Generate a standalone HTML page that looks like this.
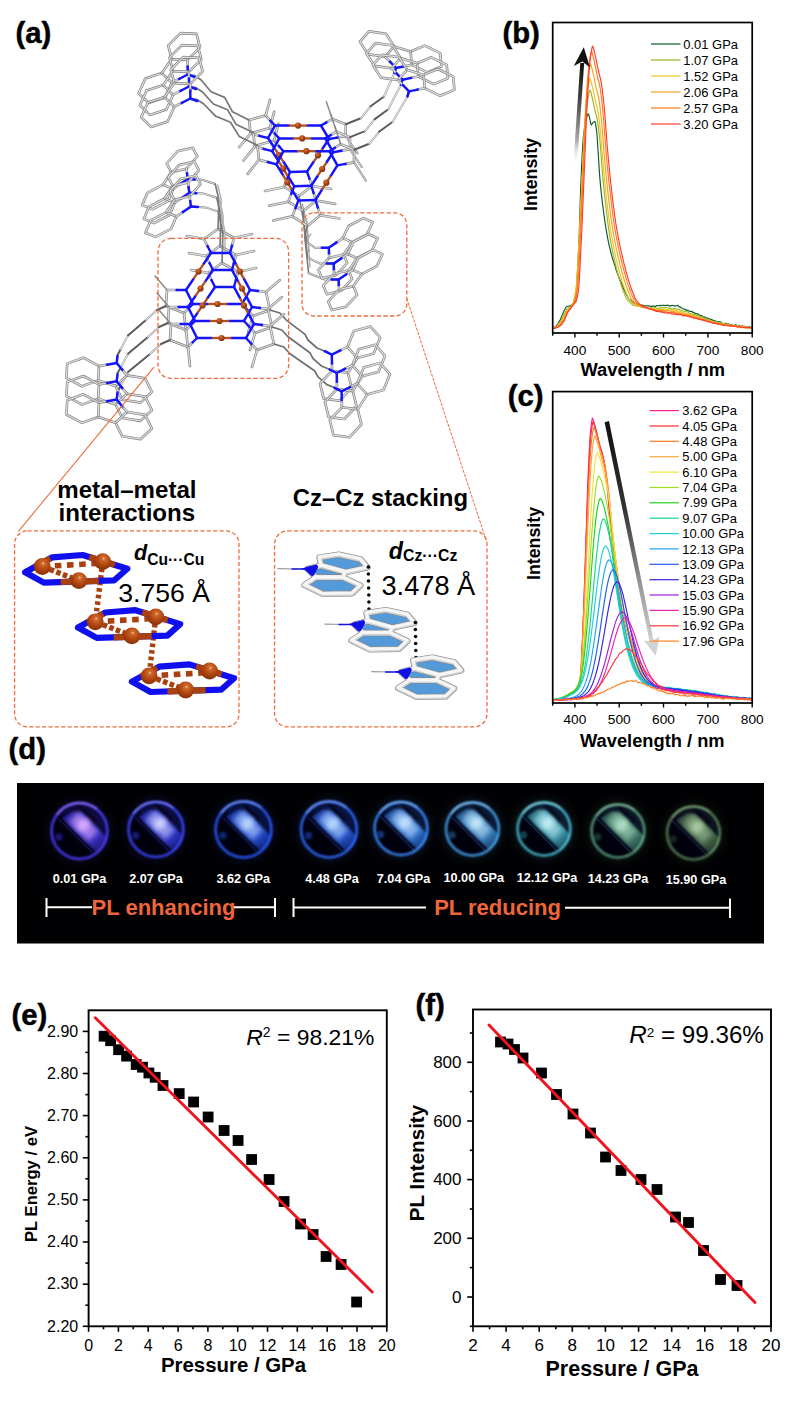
<!DOCTYPE html>
<html><head><meta charset="utf-8"><title>Figure</title>
<style>html,body{margin:0;padding:0;background:#fff;}svg{display:block;font-family:"Liberation Sans",sans-serif;}</style></head>
<body>
<svg width="799" height="1427" viewBox="0 0 799 1427">
<rect width="799" height="1427" fill="#fff"/>
<g font-weight="bold" font-size="29.3" stroke="#000" stroke-width="0.45"><text x="15.5" y="42.8">(a)</text><text x="502.4" y="42.6">(b)</text><text x="507.8" y="405.7">(c)</text><text x="8.6" y="758.9">(d)</text><text x="11.5" y="1024.5">(e)</text><text x="415.5" y="1015.1">(f)</text></g>
<defs><radialGradient id="cuG" cx="0.38" cy="0.32" r="0.75"><stop offset="0" stop-color="#d9743a"/><stop offset="0.45" stop-color="#b24a17"/><stop offset="1" stop-color="#6e2a08"/></radialGradient><radialGradient id="cuG2" cx="0.55" cy="0.32" r="0.8"><stop offset="0" stop-color="#f3c9a8"/><stop offset="0.12" stop-color="#d06a2c"/><stop offset="0.5" stop-color="#b0440e"/><stop offset="1" stop-color="#702805"/></radialGradient></defs>
<polyline points="270.8,121.1 265.6,115.6 249.0,120.0 250.6,133.6 260.2,136.0" fill="none" stroke="#808080" stroke-width="2.6" stroke-linejoin="round" stroke-linecap="round"/>
<polyline points="270.8,121.1 265.6,115.6 249.0,120.0 250.6,133.6 260.2,136.0" fill="none" stroke="#dcdcdc" stroke-width="1.30" stroke-linejoin="round" stroke-linecap="round"/>
<polyline points="265.6,115.6 270.0,99.8" fill="none" stroke="#808080" stroke-width="2.6" stroke-linejoin="round" stroke-linecap="round"/>
<polyline points="265.6,115.6 270.0,99.8" fill="none" stroke="#dcdcdc" stroke-width="1.30" stroke-linejoin="round" stroke-linecap="round"/>
<polyline points="250.6,133.6 239.3,147.0" fill="none" stroke="#808080" stroke-width="2.6" stroke-linejoin="round" stroke-linecap="round"/>
<polyline points="250.6,133.6 239.3,147.0" fill="none" stroke="#dcdcdc" stroke-width="1.30" stroke-linejoin="round" stroke-linecap="round"/>
<polyline points="326.1,122.6 332.3,119.0 345.8,124.3 345.6,136.2 336.5,137.7" fill="none" stroke="#808080" stroke-width="2.6" stroke-linejoin="round" stroke-linecap="round"/>
<polyline points="326.1,122.6 332.3,119.0 345.8,124.3 345.6,136.2 336.5,137.7" fill="none" stroke="#dcdcdc" stroke-width="1.30" stroke-linejoin="round" stroke-linecap="round"/>
<polyline points="332.3,119.0 326.3,101.8" fill="none" stroke="#8a8a8a" stroke-width="1.5" stroke-linejoin="round" stroke-linecap="round"/>
<polyline points="345.6,136.2 357.6,153.4" fill="none" stroke="#808080" stroke-width="2.0" stroke-linejoin="round" stroke-linecap="round"/>
<polyline points="345.6,136.2 357.6,153.4" fill="none" stroke="#dcdcdc" stroke-width="1.00" stroke-linejoin="round" stroke-linecap="round"/>
<polyline points="309.2,178.1 312.0,186.0 299.0,196.0 284.0,187.0 287.3,178.8" fill="none" stroke="#808080" stroke-width="2.6" stroke-linejoin="round" stroke-linecap="round"/>
<polyline points="309.2,178.1 312.0,186.0 299.0,196.0 284.0,187.0 287.3,178.8" fill="none" stroke="#dcdcdc" stroke-width="1.30" stroke-linejoin="round" stroke-linecap="round"/>
<polyline points="312.0,186.0 331.0,189.0" fill="none" stroke="#808080" stroke-width="2.6" stroke-linejoin="round" stroke-linecap="round"/>
<polyline points="312.0,186.0 331.0,189.0" fill="none" stroke="#dcdcdc" stroke-width="1.30" stroke-linejoin="round" stroke-linecap="round"/>
<polyline points="284.0,187.0 265.0,191.0" fill="none" stroke="#808080" stroke-width="2.6" stroke-linejoin="round" stroke-linecap="round"/>
<polyline points="284.0,187.0 265.0,191.0" fill="none" stroke="#dcdcdc" stroke-width="1.30" stroke-linejoin="round" stroke-linecap="round"/>
<polyline points="187.7,74.5 194.7,75.7 201.2,80.0 211.0,91.8 224.6,97.4 232.4,111.7 249.0,120.0" fill="none" stroke="#757575" stroke-width="1.7" stroke-linejoin="round" stroke-linecap="round"/>
<polyline points="345.8,124.3 360.8,118.3" fill="none" stroke="#5c5c5c" stroke-width="2.0" stroke-linejoin="round" stroke-linecap="round"/>
<polyline points="360.8,118.3 370.6,106.3" fill="none" stroke="#9a9a9a" stroke-width="2.0" stroke-linejoin="round" stroke-linecap="round"/>
<polyline points="360.8,118.3 370.6,106.3" fill="none" stroke="#f2f2f2" stroke-width="1.00" stroke-linejoin="round" stroke-linecap="round"/>
<polyline points="370.6,106.3 384.1,96.5" fill="none" stroke="#5c5c5c" stroke-width="2.0" stroke-linejoin="round" stroke-linecap="round"/>
<polyline points="384.1,96.5 394.4,73.0" fill="none" stroke="#9a9a9a" stroke-width="2.0" stroke-linejoin="round" stroke-linecap="round"/>
<polyline points="384.1,96.5 394.4,73.0" fill="none" stroke="#f2f2f2" stroke-width="1.00" stroke-linejoin="round" stroke-linecap="round"/>
<polyline points="394.4,73.0 396.0,68.0" fill="none" stroke="#5c5c5c" stroke-width="2.0" stroke-linejoin="round" stroke-linecap="round"/>
<polyline points="299.0,196.0 303.6,221.0 306.8,242.0" fill="none" stroke="#7a7a7a" stroke-width="1.6" stroke-linejoin="round" stroke-linecap="round"/>
<polyline points="306.8,242.0 315.0,247.7 328.8,247.7" fill="none" stroke="#808080" stroke-width="2.0" stroke-linejoin="round" stroke-linecap="round"/>
<polyline points="306.8,242.0 315.0,247.7 328.8,247.7" fill="none" stroke="#dcdcdc" stroke-width="1.00" stroke-linejoin="round" stroke-linecap="round"/>
<polyline points="302.5,204.0 306.6,223.0 308.3,236.0" fill="none" stroke="#a8a8a8" stroke-width="1.3" stroke-linejoin="round" stroke-linecap="round"/>
<polyline points="275.0,133.8 269.8,128.1 253.2,132.6 254.8,146.6 264.4,149.1" fill="none" stroke="#808080" stroke-width="2.6" stroke-linejoin="round" stroke-linecap="round"/>
<polyline points="275.0,133.8 269.8,128.1 253.2,132.6 254.8,146.6 264.4,149.1" fill="none" stroke="#dcdcdc" stroke-width="1.30" stroke-linejoin="round" stroke-linecap="round"/>
<polyline points="269.8,128.1 274.2,111.8" fill="none" stroke="#808080" stroke-width="2.6" stroke-linejoin="round" stroke-linecap="round"/>
<polyline points="269.8,128.1 274.2,111.8" fill="none" stroke="#dcdcdc" stroke-width="1.30" stroke-linejoin="round" stroke-linecap="round"/>
<polyline points="254.8,146.6 243.5,160.5" fill="none" stroke="#808080" stroke-width="2.6" stroke-linejoin="round" stroke-linecap="round"/>
<polyline points="254.8,146.6 243.5,160.5" fill="none" stroke="#dcdcdc" stroke-width="1.30" stroke-linejoin="round" stroke-linecap="round"/>
<polyline points="330.3,135.3 336.5,131.6 350.0,137.1 349.8,149.3 340.7,150.9" fill="none" stroke="#808080" stroke-width="2.6" stroke-linejoin="round" stroke-linecap="round"/>
<polyline points="330.3,135.3 336.5,131.6 350.0,137.1 349.8,149.3 340.7,150.9" fill="none" stroke="#dcdcdc" stroke-width="1.30" stroke-linejoin="round" stroke-linecap="round"/>
<polyline points="336.5,131.6 330.5,113.9" fill="none" stroke="#8a8a8a" stroke-width="1.5" stroke-linejoin="round" stroke-linecap="round"/>
<polyline points="349.8,149.3 361.8,167.0" fill="none" stroke="#808080" stroke-width="2.0" stroke-linejoin="round" stroke-linecap="round"/>
<polyline points="349.8,149.3 361.8,167.0" fill="none" stroke="#dcdcdc" stroke-width="1.00" stroke-linejoin="round" stroke-linecap="round"/>
<polyline points="313.4,192.5 316.2,200.6 303.2,210.9 288.2,201.7 291.5,193.2" fill="none" stroke="#808080" stroke-width="2.6" stroke-linejoin="round" stroke-linecap="round"/>
<polyline points="313.4,192.5 316.2,200.6 303.2,210.9 288.2,201.7 291.5,193.2" fill="none" stroke="#dcdcdc" stroke-width="1.30" stroke-linejoin="round" stroke-linecap="round"/>
<polyline points="316.2,200.6 335.2,203.7" fill="none" stroke="#808080" stroke-width="2.6" stroke-linejoin="round" stroke-linecap="round"/>
<polyline points="316.2,200.6 335.2,203.7" fill="none" stroke="#dcdcdc" stroke-width="1.30" stroke-linejoin="round" stroke-linecap="round"/>
<polyline points="288.2,201.7 269.2,205.8" fill="none" stroke="#808080" stroke-width="2.6" stroke-linejoin="round" stroke-linecap="round"/>
<polyline points="288.2,201.7 269.2,205.8" fill="none" stroke="#dcdcdc" stroke-width="1.30" stroke-linejoin="round" stroke-linecap="round"/>
<polyline points="189.0,86.5 196.0,87.7 202.5,92.0 213.4,104.0 227.6,109.8 235.9,124.2 253.2,132.6" fill="none" stroke="#757575" stroke-width="1.7" stroke-linejoin="round" stroke-linecap="round"/>
<polyline points="350.0,137.1 365.0,131.1" fill="none" stroke="#5c5c5c" stroke-width="2.0" stroke-linejoin="round" stroke-linecap="round"/>
<polyline points="365.0,131.1 374.8,119.1" fill="none" stroke="#9a9a9a" stroke-width="2.0" stroke-linejoin="round" stroke-linecap="round"/>
<polyline points="365.0,131.1 374.8,119.1" fill="none" stroke="#f2f2f2" stroke-width="1.00" stroke-linejoin="round" stroke-linecap="round"/>
<polyline points="374.8,119.1 388.3,109.3" fill="none" stroke="#5c5c5c" stroke-width="2.0" stroke-linejoin="round" stroke-linecap="round"/>
<polyline points="388.3,109.3 400.9,84.7" fill="none" stroke="#9a9a9a" stroke-width="2.0" stroke-linejoin="round" stroke-linecap="round"/>
<polyline points="388.3,109.3 400.9,84.7" fill="none" stroke="#f2f2f2" stroke-width="1.00" stroke-linejoin="round" stroke-linecap="round"/>
<polyline points="400.9,84.7 402.5,79.7" fill="none" stroke="#5c5c5c" stroke-width="2.0" stroke-linejoin="round" stroke-linecap="round"/>
<polyline points="303.2,210.9 304.2,229.0 307.7,257.6" fill="none" stroke="#7a7a7a" stroke-width="1.6" stroke-linejoin="round" stroke-linecap="round"/>
<polyline points="307.7,257.6 319.9,263.6 333.7,263.6" fill="none" stroke="#808080" stroke-width="2.0" stroke-linejoin="round" stroke-linecap="round"/>
<polyline points="307.7,257.6 319.9,263.6 333.7,263.6" fill="none" stroke="#dcdcdc" stroke-width="1.00" stroke-linejoin="round" stroke-linecap="round"/>
<polyline points="306.7,218.9 307.2,231.0 309.2,251.6" fill="none" stroke="#a8a8a8" stroke-width="1.3" stroke-linejoin="round" stroke-linecap="round"/>
<polyline points="279.2,146.4 274.0,140.6 257.4,145.3 259.0,159.7 268.6,162.3" fill="none" stroke="#808080" stroke-width="2.6" stroke-linejoin="round" stroke-linecap="round"/>
<polyline points="279.2,146.4 274.0,140.6 257.4,145.3 259.0,159.7 268.6,162.3" fill="none" stroke="#dcdcdc" stroke-width="1.30" stroke-linejoin="round" stroke-linecap="round"/>
<polyline points="274.0,140.6 278.4,123.8" fill="none" stroke="#808080" stroke-width="2.6" stroke-linejoin="round" stroke-linecap="round"/>
<polyline points="274.0,140.6 278.4,123.8" fill="none" stroke="#dcdcdc" stroke-width="1.30" stroke-linejoin="round" stroke-linecap="round"/>
<polyline points="259.0,159.7 247.7,173.9" fill="none" stroke="#808080" stroke-width="2.6" stroke-linejoin="round" stroke-linecap="round"/>
<polyline points="259.0,159.7 247.7,173.9" fill="none" stroke="#dcdcdc" stroke-width="1.30" stroke-linejoin="round" stroke-linecap="round"/>
<polyline points="334.5,148.0 340.7,144.2 354.2,149.8 354.0,162.4 344.9,164.1" fill="none" stroke="#808080" stroke-width="2.6" stroke-linejoin="round" stroke-linecap="round"/>
<polyline points="334.5,148.0 340.7,144.2 354.2,149.8 354.0,162.4 344.9,164.1" fill="none" stroke="#dcdcdc" stroke-width="1.30" stroke-linejoin="round" stroke-linecap="round"/>
<polyline points="340.7,144.2 334.7,126.0" fill="none" stroke="#8a8a8a" stroke-width="1.5" stroke-linejoin="round" stroke-linecap="round"/>
<polyline points="354.0,162.4 366.0,180.7" fill="none" stroke="#808080" stroke-width="2.0" stroke-linejoin="round" stroke-linecap="round"/>
<polyline points="354.0,162.4 366.0,180.7" fill="none" stroke="#dcdcdc" stroke-width="1.00" stroke-linejoin="round" stroke-linecap="round"/>
<polyline points="317.6,206.9 320.4,215.3 307.4,225.9 292.4,216.3 295.7,207.6" fill="none" stroke="#808080" stroke-width="2.6" stroke-linejoin="round" stroke-linecap="round"/>
<polyline points="317.6,206.9 320.4,215.3 307.4,225.9 292.4,216.3 295.7,207.6" fill="none" stroke="#dcdcdc" stroke-width="1.30" stroke-linejoin="round" stroke-linecap="round"/>
<polyline points="320.4,215.3 339.4,218.5" fill="none" stroke="#808080" stroke-width="2.6" stroke-linejoin="round" stroke-linecap="round"/>
<polyline points="320.4,215.3 339.4,218.5" fill="none" stroke="#dcdcdc" stroke-width="1.30" stroke-linejoin="round" stroke-linecap="round"/>
<polyline points="292.4,216.3 273.4,220.6" fill="none" stroke="#808080" stroke-width="2.6" stroke-linejoin="round" stroke-linecap="round"/>
<polyline points="292.4,216.3 273.4,220.6" fill="none" stroke="#dcdcdc" stroke-width="1.30" stroke-linejoin="round" stroke-linecap="round"/>
<polyline points="190.3,98.5 197.3,99.7 203.8,104.0 215.8,116.3 230.5,122.2 239.3,136.6 257.4,145.3" fill="none" stroke="#757575" stroke-width="1.7" stroke-linejoin="round" stroke-linecap="round"/>
<polyline points="354.2,149.8 369.2,143.8" fill="none" stroke="#5c5c5c" stroke-width="2.0" stroke-linejoin="round" stroke-linecap="round"/>
<polyline points="369.2,143.8 379.0,131.8" fill="none" stroke="#9a9a9a" stroke-width="2.0" stroke-linejoin="round" stroke-linecap="round"/>
<polyline points="369.2,143.8 379.0,131.8" fill="none" stroke="#f2f2f2" stroke-width="1.00" stroke-linejoin="round" stroke-linecap="round"/>
<polyline points="379.0,131.8 392.5,122.0" fill="none" stroke="#5c5c5c" stroke-width="2.0" stroke-linejoin="round" stroke-linecap="round"/>
<polyline points="392.5,122.0 407.4,96.4" fill="none" stroke="#9a9a9a" stroke-width="2.0" stroke-linejoin="round" stroke-linecap="round"/>
<polyline points="392.5,122.0 407.4,96.4" fill="none" stroke="#f2f2f2" stroke-width="1.00" stroke-linejoin="round" stroke-linecap="round"/>
<polyline points="407.4,96.4 409.0,91.4" fill="none" stroke="#5c5c5c" stroke-width="2.0" stroke-linejoin="round" stroke-linecap="round"/>
<polyline points="307.4,225.9 304.8,237.0 308.6,273.2" fill="none" stroke="#7a7a7a" stroke-width="1.6" stroke-linejoin="round" stroke-linecap="round"/>
<polyline points="308.6,273.2 324.8,279.5 338.6,279.5" fill="none" stroke="#808080" stroke-width="2.0" stroke-linejoin="round" stroke-linecap="round"/>
<polyline points="308.6,273.2 324.8,279.5 338.6,279.5" fill="none" stroke="#dcdcdc" stroke-width="1.00" stroke-linejoin="round" stroke-linecap="round"/>
<polyline points="310.9,233.9 307.8,239.0 310.1,267.2" fill="none" stroke="#a8a8a8" stroke-width="1.3" stroke-linejoin="round" stroke-linecap="round"/>
<polygon points="187.6,59.9 171.7,59.1 168.2,45.7 180.6,33.1 196.5,33.9 200.0,47.3" fill="none" stroke="#808080" stroke-width="2.6" stroke-linejoin="round" stroke-linecap="round"/>
<polygon points="187.6,59.9 171.7,59.1 168.2,45.7 180.6,33.1 196.5,33.9 200.0,47.3" fill="none" stroke="#dcdcdc" stroke-width="1.30" stroke-linejoin="round" stroke-linecap="round"/>
<polygon points="171.8,82.7 161.9,73.1 145.3,78.5 138.6,93.3 148.5,102.9 165.1,97.5" fill="none" stroke="#808080" stroke-width="2.6" stroke-linejoin="round" stroke-linecap="round"/>
<polygon points="171.8,82.7 161.9,73.1 145.3,78.5 138.6,93.3 148.5,102.9 165.1,97.5" fill="none" stroke="#dcdcdc" stroke-width="1.30" stroke-linejoin="round" stroke-linecap="round"/>
<polyline points="171.7,59.1 161.9,73.1" fill="none" stroke="#808080" stroke-width="2.6" stroke-linejoin="round" stroke-linecap="round"/>
<polyline points="171.7,59.1 161.9,73.1" fill="none" stroke="#dcdcdc" stroke-width="1.30" stroke-linejoin="round" stroke-linecap="round"/>
<polyline points="187.7,67.2 187.6,59.9" fill="none" stroke="#808080" stroke-width="2.6" stroke-linejoin="round" stroke-linecap="round"/>
<polyline points="187.7,67.2 187.6,59.9" fill="none" stroke="#dcdcdc" stroke-width="1.30" stroke-linejoin="round" stroke-linecap="round"/>
<polyline points="179.8,78.6 171.8,82.7" fill="none" stroke="#808080" stroke-width="2.6" stroke-linejoin="round" stroke-linecap="round"/>
<polyline points="179.8,78.6 171.8,82.7" fill="none" stroke="#dcdcdc" stroke-width="1.30" stroke-linejoin="round" stroke-linecap="round"/>
<polyline points="187.7,66.5 187.7,74.5 179.0,79.0" fill="none" stroke="#1414ff" stroke-width="2.5" stroke-linejoin="round" stroke-linecap="round"/>
<polyline points="187.7,74.5 194.7,77.0" fill="none" stroke="#1414ff" stroke-width="2.5" stroke-linejoin="round" stroke-linecap="round"/>
<polygon points="385.0,56.6 394.1,46.4 386.1,33.8 369.0,31.4 359.9,41.6 367.9,54.2" fill="none" stroke="#808080" stroke-width="2.6" stroke-linejoin="round" stroke-linecap="round"/>
<polygon points="385.0,56.6 394.1,46.4 386.1,33.8 369.0,31.4 359.9,41.6 367.9,54.2" fill="none" stroke="#dcdcdc" stroke-width="1.30" stroke-linejoin="round" stroke-linecap="round"/>
<polygon points="411.8,64.8 410.6,51.5 424.8,45.6 440.2,53.2 441.4,66.5 427.2,72.4" fill="none" stroke="#808080" stroke-width="2.6" stroke-linejoin="round" stroke-linecap="round"/>
<polygon points="411.8,64.8 410.6,51.5 424.8,45.6 440.2,53.2 441.4,66.5 427.2,72.4" fill="none" stroke="#dcdcdc" stroke-width="1.30" stroke-linejoin="round" stroke-linecap="round"/>
<polyline points="394.1,46.4 410.6,51.5" fill="none" stroke="#808080" stroke-width="2.6" stroke-linejoin="round" stroke-linecap="round"/>
<polyline points="394.1,46.4 410.6,51.5" fill="none" stroke="#dcdcdc" stroke-width="1.30" stroke-linejoin="round" stroke-linecap="round"/>
<polyline points="390.5,62.3 385.0,56.6" fill="none" stroke="#808080" stroke-width="2.6" stroke-linejoin="round" stroke-linecap="round"/>
<polyline points="390.5,62.3 385.0,56.6" fill="none" stroke="#dcdcdc" stroke-width="1.30" stroke-linejoin="round" stroke-linecap="round"/>
<polyline points="403.9,66.4 411.8,64.8" fill="none" stroke="#808080" stroke-width="2.6" stroke-linejoin="round" stroke-linecap="round"/>
<polyline points="403.9,66.4 411.8,64.8" fill="none" stroke="#dcdcdc" stroke-width="1.30" stroke-linejoin="round" stroke-linecap="round"/>
<polyline points="390.0,61.7 396.0,68.0 404.7,66.2" fill="none" stroke="#1414ff" stroke-width="2.5" stroke-linejoin="round" stroke-linecap="round"/>
<polyline points="396.0,68.0 394.5,73.0" fill="none" stroke="#1414ff" stroke-width="2.5" stroke-linejoin="round" stroke-linecap="round"/>
<polygon points="342.9,238.1 352.1,242.3 367.0,234.4 372.7,222.3 363.5,218.1 348.6,226.0" fill="none" stroke="#808080" stroke-width="2.6" stroke-linejoin="round" stroke-linecap="round"/>
<polygon points="342.9,238.1 352.1,242.3 367.0,234.4 372.7,222.3 363.5,218.1 348.6,226.0" fill="none" stroke="#dcdcdc" stroke-width="1.30" stroke-linejoin="round" stroke-linecap="round"/>
<polygon points="329.2,257.9 343.6,254.5 347.2,263.0 336.4,274.9 322.0,278.3 318.4,269.8" fill="none" stroke="#808080" stroke-width="2.6" stroke-linejoin="round" stroke-linecap="round"/>
<polygon points="329.2,257.9 343.6,254.5 347.2,263.0 336.4,274.9 322.0,278.3 318.4,269.8" fill="none" stroke="#dcdcdc" stroke-width="1.30" stroke-linejoin="round" stroke-linecap="round"/>
<polyline points="352.1,242.3 343.6,254.5" fill="none" stroke="#808080" stroke-width="2.6" stroke-linejoin="round" stroke-linecap="round"/>
<polyline points="352.1,242.3 343.6,254.5" fill="none" stroke="#dcdcdc" stroke-width="1.30" stroke-linejoin="round" stroke-linecap="round"/>
<polyline points="335.9,242.9 342.9,238.1" fill="none" stroke="#808080" stroke-width="2.6" stroke-linejoin="round" stroke-linecap="round"/>
<polyline points="335.9,242.9 342.9,238.1" fill="none" stroke="#dcdcdc" stroke-width="1.30" stroke-linejoin="round" stroke-linecap="round"/>
<polyline points="329.0,252.8 329.2,257.9" fill="none" stroke="#808080" stroke-width="2.6" stroke-linejoin="round" stroke-linecap="round"/>
<polyline points="329.0,252.8 329.2,257.9" fill="none" stroke="#dcdcdc" stroke-width="1.30" stroke-linejoin="round" stroke-linecap="round"/>
<polyline points="336.6,242.4 328.8,247.7 329.0,253.3" fill="none" stroke="#1414ff" stroke-width="2.5" stroke-linejoin="round" stroke-linecap="round"/>
<polyline points="328.8,247.7 321.8,247.7" fill="none" stroke="#1414ff" stroke-width="2.5" stroke-linejoin="round" stroke-linecap="round"/>
<polygon points="188.9,71.9 173.0,71.1 169.5,57.7 181.9,45.1 197.8,45.9 201.3,59.3" fill="none" stroke="#808080" stroke-width="2.6" stroke-linejoin="round" stroke-linecap="round"/>
<polygon points="188.9,71.9 173.0,71.1 169.5,57.7 181.9,45.1 197.8,45.9 201.3,59.3" fill="none" stroke="#dcdcdc" stroke-width="1.30" stroke-linejoin="round" stroke-linecap="round"/>
<polygon points="173.1,94.7 163.2,85.1 146.6,90.5 139.9,105.3 149.8,114.9 166.4,109.5" fill="none" stroke="#808080" stroke-width="2.6" stroke-linejoin="round" stroke-linecap="round"/>
<polygon points="173.1,94.7 163.2,85.1 146.6,90.5 139.9,105.3 149.8,114.9 166.4,109.5" fill="none" stroke="#dcdcdc" stroke-width="1.30" stroke-linejoin="round" stroke-linecap="round"/>
<polyline points="173.0,71.1 163.2,85.1" fill="none" stroke="#808080" stroke-width="2.6" stroke-linejoin="round" stroke-linecap="round"/>
<polyline points="173.0,71.1 163.2,85.1" fill="none" stroke="#dcdcdc" stroke-width="1.30" stroke-linejoin="round" stroke-linecap="round"/>
<polyline points="189.0,79.2 188.9,71.9" fill="none" stroke="#808080" stroke-width="2.6" stroke-linejoin="round" stroke-linecap="round"/>
<polyline points="189.0,79.2 188.9,71.9" fill="none" stroke="#dcdcdc" stroke-width="1.30" stroke-linejoin="round" stroke-linecap="round"/>
<polyline points="181.1,90.6 173.1,94.7" fill="none" stroke="#808080" stroke-width="2.6" stroke-linejoin="round" stroke-linecap="round"/>
<polyline points="181.1,90.6 173.1,94.7" fill="none" stroke="#dcdcdc" stroke-width="1.30" stroke-linejoin="round" stroke-linecap="round"/>
<polyline points="189.0,78.5 189.0,86.5 180.3,91.0" fill="none" stroke="#1414ff" stroke-width="2.5" stroke-linejoin="round" stroke-linecap="round"/>
<polyline points="189.0,86.5 196.0,89.0" fill="none" stroke="#1414ff" stroke-width="2.5" stroke-linejoin="round" stroke-linecap="round"/>
<polygon points="391.5,68.3 400.6,58.1 392.6,45.5 375.5,43.1 366.4,53.3 374.4,65.9" fill="none" stroke="#808080" stroke-width="2.6" stroke-linejoin="round" stroke-linecap="round"/>
<polygon points="391.5,68.3 400.6,58.1 392.6,45.5 375.5,43.1 366.4,53.3 374.4,65.9" fill="none" stroke="#dcdcdc" stroke-width="1.30" stroke-linejoin="round" stroke-linecap="round"/>
<polygon points="418.3,76.5 417.1,63.2 431.3,57.3 446.7,64.9 447.9,78.2 433.7,84.1" fill="none" stroke="#808080" stroke-width="2.6" stroke-linejoin="round" stroke-linecap="round"/>
<polygon points="418.3,76.5 417.1,63.2 431.3,57.3 446.7,64.9 447.9,78.2 433.7,84.1" fill="none" stroke="#dcdcdc" stroke-width="1.30" stroke-linejoin="round" stroke-linecap="round"/>
<polyline points="400.6,58.1 417.1,63.2" fill="none" stroke="#808080" stroke-width="2.6" stroke-linejoin="round" stroke-linecap="round"/>
<polyline points="400.6,58.1 417.1,63.2" fill="none" stroke="#dcdcdc" stroke-width="1.30" stroke-linejoin="round" stroke-linecap="round"/>
<polyline points="397.0,74.0 391.5,68.3" fill="none" stroke="#808080" stroke-width="2.6" stroke-linejoin="round" stroke-linecap="round"/>
<polyline points="397.0,74.0 391.5,68.3" fill="none" stroke="#dcdcdc" stroke-width="1.30" stroke-linejoin="round" stroke-linecap="round"/>
<polyline points="410.4,78.1 418.3,76.5" fill="none" stroke="#808080" stroke-width="2.6" stroke-linejoin="round" stroke-linecap="round"/>
<polyline points="410.4,78.1 418.3,76.5" fill="none" stroke="#dcdcdc" stroke-width="1.30" stroke-linejoin="round" stroke-linecap="round"/>
<polyline points="396.5,73.4 402.5,79.7 411.2,77.9" fill="none" stroke="#1414ff" stroke-width="2.5" stroke-linejoin="round" stroke-linecap="round"/>
<polyline points="402.5,79.7 401.0,84.7" fill="none" stroke="#1414ff" stroke-width="2.5" stroke-linejoin="round" stroke-linecap="round"/>
<polygon points="347.8,254.0 357.0,258.2 371.9,250.3 377.6,238.2 368.4,234.0 353.5,241.9" fill="none" stroke="#808080" stroke-width="2.6" stroke-linejoin="round" stroke-linecap="round"/>
<polygon points="347.8,254.0 357.0,258.2 371.9,250.3 377.6,238.2 368.4,234.0 353.5,241.9" fill="none" stroke="#dcdcdc" stroke-width="1.30" stroke-linejoin="round" stroke-linecap="round"/>
<polygon points="334.1,273.8 348.5,270.4 352.1,278.9 341.3,290.8 326.9,294.2 323.3,285.7" fill="none" stroke="#808080" stroke-width="2.6" stroke-linejoin="round" stroke-linecap="round"/>
<polygon points="334.1,273.8 348.5,270.4 352.1,278.9 341.3,290.8 326.9,294.2 323.3,285.7" fill="none" stroke="#dcdcdc" stroke-width="1.30" stroke-linejoin="round" stroke-linecap="round"/>
<polyline points="357.0,258.2 348.5,270.4" fill="none" stroke="#808080" stroke-width="2.6" stroke-linejoin="round" stroke-linecap="round"/>
<polyline points="357.0,258.2 348.5,270.4" fill="none" stroke="#dcdcdc" stroke-width="1.30" stroke-linejoin="round" stroke-linecap="round"/>
<polyline points="340.8,258.8 347.8,254.0" fill="none" stroke="#808080" stroke-width="2.6" stroke-linejoin="round" stroke-linecap="round"/>
<polyline points="340.8,258.8 347.8,254.0" fill="none" stroke="#dcdcdc" stroke-width="1.30" stroke-linejoin="round" stroke-linecap="round"/>
<polyline points="333.9,268.7 334.1,273.8" fill="none" stroke="#808080" stroke-width="2.6" stroke-linejoin="round" stroke-linecap="round"/>
<polyline points="333.9,268.7 334.1,273.8" fill="none" stroke="#dcdcdc" stroke-width="1.30" stroke-linejoin="round" stroke-linecap="round"/>
<polyline points="341.5,258.3 333.7,263.6 333.9,269.2" fill="none" stroke="#1414ff" stroke-width="2.5" stroke-linejoin="round" stroke-linecap="round"/>
<polyline points="333.7,263.6 326.7,263.6" fill="none" stroke="#1414ff" stroke-width="2.5" stroke-linejoin="round" stroke-linecap="round"/>
<polygon points="190.2,83.9 174.3,83.1 170.8,69.7 183.2,57.1 199.1,57.9 202.6,71.3" fill="none" stroke="#808080" stroke-width="2.6" stroke-linejoin="round" stroke-linecap="round"/>
<polygon points="190.2,83.9 174.3,83.1 170.8,69.7 183.2,57.1 199.1,57.9 202.6,71.3" fill="none" stroke="#dcdcdc" stroke-width="1.30" stroke-linejoin="round" stroke-linecap="round"/>
<polygon points="174.4,106.7 164.5,97.1 147.9,102.5 141.2,117.3 151.1,126.9 167.7,121.5" fill="none" stroke="#808080" stroke-width="2.6" stroke-linejoin="round" stroke-linecap="round"/>
<polygon points="174.4,106.7 164.5,97.1 147.9,102.5 141.2,117.3 151.1,126.9 167.7,121.5" fill="none" stroke="#dcdcdc" stroke-width="1.30" stroke-linejoin="round" stroke-linecap="round"/>
<polyline points="174.3,83.1 164.5,97.1" fill="none" stroke="#808080" stroke-width="2.6" stroke-linejoin="round" stroke-linecap="round"/>
<polyline points="174.3,83.1 164.5,97.1" fill="none" stroke="#dcdcdc" stroke-width="1.30" stroke-linejoin="round" stroke-linecap="round"/>
<polyline points="190.3,91.2 190.2,83.9" fill="none" stroke="#808080" stroke-width="2.6" stroke-linejoin="round" stroke-linecap="round"/>
<polyline points="190.3,91.2 190.2,83.9" fill="none" stroke="#dcdcdc" stroke-width="1.30" stroke-linejoin="round" stroke-linecap="round"/>
<polyline points="182.4,102.6 174.4,106.7" fill="none" stroke="#808080" stroke-width="2.6" stroke-linejoin="round" stroke-linecap="round"/>
<polyline points="182.4,102.6 174.4,106.7" fill="none" stroke="#dcdcdc" stroke-width="1.30" stroke-linejoin="round" stroke-linecap="round"/>
<polyline points="190.3,90.5 190.3,98.5 181.6,103.0" fill="none" stroke="#1414ff" stroke-width="2.5" stroke-linejoin="round" stroke-linecap="round"/>
<polyline points="190.3,98.5 197.3,101.0" fill="none" stroke="#1414ff" stroke-width="2.5" stroke-linejoin="round" stroke-linecap="round"/>
<polygon points="398.0,80.0 407.1,69.8 399.1,57.2 382.0,54.8 372.9,65.0 380.9,77.6" fill="none" stroke="#808080" stroke-width="2.6" stroke-linejoin="round" stroke-linecap="round"/>
<polygon points="398.0,80.0 407.1,69.8 399.1,57.2 382.0,54.8 372.9,65.0 380.9,77.6" fill="none" stroke="#dcdcdc" stroke-width="1.30" stroke-linejoin="round" stroke-linecap="round"/>
<polygon points="424.8,88.2 423.6,74.9 437.8,69.0 453.2,76.6 454.4,89.9 440.2,95.8" fill="none" stroke="#808080" stroke-width="2.6" stroke-linejoin="round" stroke-linecap="round"/>
<polygon points="424.8,88.2 423.6,74.9 437.8,69.0 453.2,76.6 454.4,89.9 440.2,95.8" fill="none" stroke="#dcdcdc" stroke-width="1.30" stroke-linejoin="round" stroke-linecap="round"/>
<polyline points="407.1,69.8 423.6,74.9" fill="none" stroke="#808080" stroke-width="2.6" stroke-linejoin="round" stroke-linecap="round"/>
<polyline points="407.1,69.8 423.6,74.9" fill="none" stroke="#dcdcdc" stroke-width="1.30" stroke-linejoin="round" stroke-linecap="round"/>
<polyline points="403.5,85.7 398.0,80.0" fill="none" stroke="#808080" stroke-width="2.6" stroke-linejoin="round" stroke-linecap="round"/>
<polyline points="403.5,85.7 398.0,80.0" fill="none" stroke="#dcdcdc" stroke-width="1.30" stroke-linejoin="round" stroke-linecap="round"/>
<polyline points="416.9,89.8 424.8,88.2" fill="none" stroke="#808080" stroke-width="2.6" stroke-linejoin="round" stroke-linecap="round"/>
<polyline points="416.9,89.8 424.8,88.2" fill="none" stroke="#dcdcdc" stroke-width="1.30" stroke-linejoin="round" stroke-linecap="round"/>
<polyline points="403.0,85.1 409.0,91.4 417.7,89.6" fill="none" stroke="#1414ff" stroke-width="2.5" stroke-linejoin="round" stroke-linecap="round"/>
<polyline points="409.0,91.4 407.5,96.4" fill="none" stroke="#1414ff" stroke-width="2.5" stroke-linejoin="round" stroke-linecap="round"/>
<polygon points="352.7,269.9 361.9,274.1 376.8,266.2 382.5,254.1 373.3,249.9 358.4,257.8" fill="none" stroke="#808080" stroke-width="2.6" stroke-linejoin="round" stroke-linecap="round"/>
<polygon points="352.7,269.9 361.9,274.1 376.8,266.2 382.5,254.1 373.3,249.9 358.4,257.8" fill="none" stroke="#dcdcdc" stroke-width="1.30" stroke-linejoin="round" stroke-linecap="round"/>
<polygon points="339.0,289.7 353.4,286.3 357.0,294.8 346.2,306.7 331.8,310.1 328.2,301.6" fill="none" stroke="#808080" stroke-width="2.6" stroke-linejoin="round" stroke-linecap="round"/>
<polygon points="339.0,289.7 353.4,286.3 357.0,294.8 346.2,306.7 331.8,310.1 328.2,301.6" fill="none" stroke="#dcdcdc" stroke-width="1.30" stroke-linejoin="round" stroke-linecap="round"/>
<polyline points="361.9,274.1 353.4,286.3" fill="none" stroke="#808080" stroke-width="2.6" stroke-linejoin="round" stroke-linecap="round"/>
<polyline points="361.9,274.1 353.4,286.3" fill="none" stroke="#dcdcdc" stroke-width="1.30" stroke-linejoin="round" stroke-linecap="round"/>
<polyline points="345.7,274.7 352.7,269.9" fill="none" stroke="#808080" stroke-width="2.6" stroke-linejoin="round" stroke-linecap="round"/>
<polyline points="345.7,274.7 352.7,269.9" fill="none" stroke="#dcdcdc" stroke-width="1.30" stroke-linejoin="round" stroke-linecap="round"/>
<polyline points="338.8,284.6 339.0,289.7" fill="none" stroke="#808080" stroke-width="2.6" stroke-linejoin="round" stroke-linecap="round"/>
<polyline points="338.8,284.6 339.0,289.7" fill="none" stroke="#dcdcdc" stroke-width="1.30" stroke-linejoin="round" stroke-linecap="round"/>
<polyline points="346.4,274.2 338.6,279.5 338.8,285.1" fill="none" stroke="#1414ff" stroke-width="2.5" stroke-linejoin="round" stroke-linecap="round"/>
<polyline points="338.6,279.5 331.6,279.5" fill="none" stroke="#1414ff" stroke-width="2.5" stroke-linejoin="round" stroke-linecap="round"/>
<polyline points="321.0,125.6 329.0,139.0" fill="none" stroke="#1414ff" stroke-width="2.5" stroke-linejoin="round" stroke-linecap="round"/>
<polyline points="307.0,171.6 290.0,172.0" fill="none" stroke="#1414ff" stroke-width="2.5" stroke-linejoin="round" stroke-linecap="round"/>
<polyline points="268.0,138.0 275.0,125.6" fill="none" stroke="#1414ff" stroke-width="2.5" stroke-linejoin="round" stroke-linecap="round"/>
<polyline points="275.0,125.6 270.3,120.6" fill="none" stroke="#1414ff" stroke-width="2.4" stroke-linejoin="round" stroke-linecap="round"/>
<polyline points="268.0,138.0 259.3,135.8" fill="none" stroke="#1414ff" stroke-width="2.4" stroke-linejoin="round" stroke-linecap="round"/>
<polyline points="321.0,125.6 326.6,122.3" fill="none" stroke="#1414ff" stroke-width="2.4" stroke-linejoin="round" stroke-linecap="round"/>
<polyline points="329.0,139.0 337.3,137.6" fill="none" stroke="#1414ff" stroke-width="2.4" stroke-linejoin="round" stroke-linecap="round"/>
<polyline points="307.0,171.6 309.5,178.8" fill="none" stroke="#1414ff" stroke-width="2.4" stroke-linejoin="round" stroke-linecap="round"/>
<polyline points="290.0,172.0 287.0,179.5" fill="none" stroke="#1414ff" stroke-width="2.4" stroke-linejoin="round" stroke-linecap="round"/>
<polyline points="275.0,125.6 288.8,125.6" fill="none" stroke="#1414ff" stroke-width="2.5" stroke-linejoin="round" stroke-linecap="round"/>
<polyline points="321.0,125.6 307.2,125.6" fill="none" stroke="#1414ff" stroke-width="2.5" stroke-linejoin="round" stroke-linecap="round"/>
<polyline points="288.8,125.6 307.2,125.6" fill="none" stroke="#b4501e" stroke-width="2.3" stroke-linejoin="round" stroke-linecap="butt"/>
<circle cx="298.0" cy="125.6" r="3.1" fill="url(#cuG)"/>
<polyline points="329.0,139.0 322.4,148.8" fill="none" stroke="#1414ff" stroke-width="2.5" stroke-linejoin="round" stroke-linecap="round"/>
<polyline points="307.0,171.6 313.6,161.8" fill="none" stroke="#1414ff" stroke-width="2.5" stroke-linejoin="round" stroke-linecap="round"/>
<polyline points="322.4,148.8 313.6,161.8" fill="none" stroke="#b4501e" stroke-width="2.3" stroke-linejoin="round" stroke-linecap="butt"/>
<circle cx="318.0" cy="155.3" r="3.1" fill="url(#cuG)"/>
<polyline points="290.0,172.0 283.4,161.8" fill="none" stroke="#1414ff" stroke-width="2.5" stroke-linejoin="round" stroke-linecap="round"/>
<polyline points="268.0,138.0 274.6,148.2" fill="none" stroke="#1414ff" stroke-width="2.5" stroke-linejoin="round" stroke-linecap="round"/>
<polyline points="283.4,161.8 274.6,148.2" fill="none" stroke="#b4501e" stroke-width="2.3" stroke-linejoin="round" stroke-linecap="butt"/>
<circle cx="279.0" cy="155.0" r="3.1" fill="url(#cuG)"/>
<polyline points="325.2,138.4 333.2,152.2" fill="none" stroke="#1414ff" stroke-width="2.5" stroke-linejoin="round" stroke-linecap="round"/>
<polyline points="311.2,185.8 294.2,186.2" fill="none" stroke="#1414ff" stroke-width="2.5" stroke-linejoin="round" stroke-linecap="round"/>
<polyline points="272.2,151.2 279.2,138.4" fill="none" stroke="#1414ff" stroke-width="2.5" stroke-linejoin="round" stroke-linecap="round"/>
<polyline points="279.2,138.4 274.5,133.2" fill="none" stroke="#1414ff" stroke-width="2.4" stroke-linejoin="round" stroke-linecap="round"/>
<polyline points="272.2,151.2 263.5,148.9" fill="none" stroke="#1414ff" stroke-width="2.4" stroke-linejoin="round" stroke-linecap="round"/>
<polyline points="325.2,138.4 330.8,135.0" fill="none" stroke="#1414ff" stroke-width="2.4" stroke-linejoin="round" stroke-linecap="round"/>
<polyline points="333.2,152.2 341.5,150.8" fill="none" stroke="#1414ff" stroke-width="2.4" stroke-linejoin="round" stroke-linecap="round"/>
<polyline points="311.2,185.8 313.7,193.2" fill="none" stroke="#1414ff" stroke-width="2.4" stroke-linejoin="round" stroke-linecap="round"/>
<polyline points="294.2,186.2 291.2,193.9" fill="none" stroke="#1414ff" stroke-width="2.4" stroke-linejoin="round" stroke-linecap="round"/>
<polyline points="279.2,138.4 293.0,138.4" fill="none" stroke="#1414ff" stroke-width="2.5" stroke-linejoin="round" stroke-linecap="round"/>
<polyline points="325.2,138.4 311.4,138.4" fill="none" stroke="#1414ff" stroke-width="2.5" stroke-linejoin="round" stroke-linecap="round"/>
<polyline points="293.0,138.4 311.4,138.4" fill="none" stroke="#b4501e" stroke-width="2.3" stroke-linejoin="round" stroke-linecap="butt"/>
<circle cx="302.2" cy="138.4" r="3.1" fill="url(#cuG)"/>
<polyline points="333.2,152.2 326.6,162.3" fill="none" stroke="#1414ff" stroke-width="2.5" stroke-linejoin="round" stroke-linecap="round"/>
<polyline points="311.2,185.8 317.8,175.7" fill="none" stroke="#1414ff" stroke-width="2.5" stroke-linejoin="round" stroke-linecap="round"/>
<polyline points="326.6,162.3 317.8,175.7" fill="none" stroke="#b4501e" stroke-width="2.3" stroke-linejoin="round" stroke-linecap="butt"/>
<circle cx="322.2" cy="169.0" r="3.1" fill="url(#cuG)"/>
<polyline points="294.2,186.2 287.6,175.7" fill="none" stroke="#1414ff" stroke-width="2.5" stroke-linejoin="round" stroke-linecap="round"/>
<polyline points="272.2,151.2 278.8,161.7" fill="none" stroke="#1414ff" stroke-width="2.5" stroke-linejoin="round" stroke-linecap="round"/>
<polyline points="287.6,175.7 278.8,161.7" fill="none" stroke="#b4501e" stroke-width="2.3" stroke-linejoin="round" stroke-linecap="butt"/>
<circle cx="283.2" cy="168.7" r="3.1" fill="url(#cuG)"/>
<polyline points="329.4,151.2 337.4,165.4" fill="none" stroke="#1414ff" stroke-width="2.5" stroke-linejoin="round" stroke-linecap="round"/>
<polyline points="315.4,200.0 298.4,200.4" fill="none" stroke="#1414ff" stroke-width="2.5" stroke-linejoin="round" stroke-linecap="round"/>
<polyline points="276.4,164.4 283.4,151.2" fill="none" stroke="#1414ff" stroke-width="2.5" stroke-linejoin="round" stroke-linecap="round"/>
<polyline points="283.4,151.2 278.7,145.9" fill="none" stroke="#1414ff" stroke-width="2.4" stroke-linejoin="round" stroke-linecap="round"/>
<polyline points="276.4,164.4 267.7,162.0" fill="none" stroke="#1414ff" stroke-width="2.4" stroke-linejoin="round" stroke-linecap="round"/>
<polyline points="329.4,151.2 335.0,147.7" fill="none" stroke="#1414ff" stroke-width="2.4" stroke-linejoin="round" stroke-linecap="round"/>
<polyline points="337.4,165.4 345.7,163.9" fill="none" stroke="#1414ff" stroke-width="2.4" stroke-linejoin="round" stroke-linecap="round"/>
<polyline points="315.4,200.0 317.9,207.6" fill="none" stroke="#1414ff" stroke-width="2.4" stroke-linejoin="round" stroke-linecap="round"/>
<polyline points="298.4,200.4 295.4,208.4" fill="none" stroke="#1414ff" stroke-width="2.4" stroke-linejoin="round" stroke-linecap="round"/>
<polyline points="283.4,151.2 297.2,151.2" fill="none" stroke="#1414ff" stroke-width="2.5" stroke-linejoin="round" stroke-linecap="round"/>
<polyline points="329.4,151.2 315.6,151.2" fill="none" stroke="#1414ff" stroke-width="2.5" stroke-linejoin="round" stroke-linecap="round"/>
<polyline points="297.2,151.2 315.6,151.2" fill="none" stroke="#b4501e" stroke-width="2.3" stroke-linejoin="round" stroke-linecap="butt"/>
<circle cx="306.4" cy="151.2" r="3.1" fill="url(#cuG)"/>
<polyline points="337.4,165.4 330.8,175.8" fill="none" stroke="#1414ff" stroke-width="2.5" stroke-linejoin="round" stroke-linecap="round"/>
<polyline points="315.4,200.0 322.0,189.6" fill="none" stroke="#1414ff" stroke-width="2.5" stroke-linejoin="round" stroke-linecap="round"/>
<polyline points="330.8,175.8 322.0,189.6" fill="none" stroke="#b4501e" stroke-width="2.3" stroke-linejoin="round" stroke-linecap="butt"/>
<circle cx="326.4" cy="182.7" r="3.1" fill="url(#cuG)"/>
<polyline points="298.4,200.4 291.8,189.6" fill="none" stroke="#1414ff" stroke-width="2.5" stroke-linejoin="round" stroke-linecap="round"/>
<polyline points="276.4,164.4 283.0,175.2" fill="none" stroke="#1414ff" stroke-width="2.5" stroke-linejoin="round" stroke-linecap="round"/>
<polyline points="291.8,189.6 283.0,175.2" fill="none" stroke="#b4501e" stroke-width="2.3" stroke-linejoin="round" stroke-linecap="butt"/>
<circle cx="287.4" cy="182.4" r="3.1" fill="url(#cuG)"/>
<polyline points="207.8,246.7 204.0,239.0 218.0,229.0 234.0,238.0 231.8,246.2" fill="none" stroke="#808080" stroke-width="2.6" stroke-linejoin="round" stroke-linecap="round"/>
<polyline points="207.8,246.7 204.0,239.0 218.0,229.0 234.0,238.0 231.8,246.2" fill="none" stroke="#dcdcdc" stroke-width="1.30" stroke-linejoin="round" stroke-linecap="round"/>
<polyline points="204.0,239.0 187.0,236.0" fill="none" stroke="#808080" stroke-width="2.6" stroke-linejoin="round" stroke-linecap="round"/>
<polyline points="204.0,239.0 187.0,236.0" fill="none" stroke="#dcdcdc" stroke-width="1.30" stroke-linejoin="round" stroke-linecap="round"/>
<polyline points="234.0,238.0 252.0,234.0" fill="none" stroke="#808080" stroke-width="2.6" stroke-linejoin="round" stroke-linecap="round"/>
<polyline points="234.0,238.0 252.0,234.0" fill="none" stroke="#dcdcdc" stroke-width="1.30" stroke-linejoin="round" stroke-linecap="round"/>
<polyline points="188.9,308.1 184.0,313.0 166.0,306.0 167.0,290.0 177.4,290.0" fill="none" stroke="#808080" stroke-width="2.6" stroke-linejoin="round" stroke-linecap="round"/>
<polyline points="188.9,308.1 184.0,313.0 166.0,306.0 167.0,290.0 177.4,290.0" fill="none" stroke="#dcdcdc" stroke-width="1.30" stroke-linejoin="round" stroke-linecap="round"/>
<polyline points="184.0,313.0 186.0,332.0" fill="none" stroke="#808080" stroke-width="2.6" stroke-linejoin="round" stroke-linecap="round"/>
<polyline points="184.0,313.0 186.0,332.0" fill="none" stroke="#dcdcdc" stroke-width="1.30" stroke-linejoin="round" stroke-linecap="round"/>
<polyline points="167.0,290.0 155.0,276.0" fill="none" stroke="#8a8a8a" stroke-width="1.5" stroke-linejoin="round" stroke-linecap="round"/>
<polyline points="246.9,309.4 253.0,316.0 270.0,310.0 266.0,292.0 257.2,290.9" fill="none" stroke="#808080" stroke-width="2.6" stroke-linejoin="round" stroke-linecap="round"/>
<polyline points="246.9,309.4 253.0,316.0 270.0,310.0 266.0,292.0 257.2,290.9" fill="none" stroke="#dcdcdc" stroke-width="1.30" stroke-linejoin="round" stroke-linecap="round"/>
<polyline points="253.0,316.0 248.0,333.0" fill="none" stroke="#808080" stroke-width="2.6" stroke-linejoin="round" stroke-linecap="round"/>
<polyline points="253.0,316.0 248.0,333.0" fill="none" stroke="#dcdcdc" stroke-width="1.30" stroke-linejoin="round" stroke-linecap="round"/>
<polyline points="266.0,292.0 280.0,280.0" fill="none" stroke="#808080" stroke-width="2.4" stroke-linejoin="round" stroke-linecap="round"/>
<polyline points="266.0,292.0 280.0,280.0" fill="none" stroke="#dcdcdc" stroke-width="1.20" stroke-linejoin="round" stroke-linecap="round"/>
<polyline points="187.7,179.0 202.2,179.8 215.2,184.0" fill="none" stroke="#808080" stroke-width="2.0" stroke-linejoin="round" stroke-linecap="round"/>
<polyline points="187.7,179.0 202.2,179.8 215.2,184.0" fill="none" stroke="#dcdcdc" stroke-width="1.00" stroke-linejoin="round" stroke-linecap="round"/>
<polyline points="215.2,184.0 218.8,199.0 218.5,215.0 218.0,229.0" fill="none" stroke="#7a7a7a" stroke-width="1.7" stroke-linejoin="round" stroke-linecap="round"/>
<polyline points="217.7,185.0 221.2,199.0 220.8,219.0" fill="none" stroke="#b0b0b0" stroke-width="1.4" stroke-linejoin="round" stroke-linecap="round"/>
<polyline points="117.5,355.0 120.7,349.3" fill="none" stroke="#5c5c5c" stroke-width="2.0" stroke-linejoin="round" stroke-linecap="round"/>
<polyline points="120.7,349.3 128.0,335.4" fill="none" stroke="#9a9a9a" stroke-width="2.0" stroke-linejoin="round" stroke-linecap="round"/>
<polyline points="120.7,349.3 128.0,335.4" fill="none" stroke="#f2f2f2" stroke-width="1.00" stroke-linejoin="round" stroke-linecap="round"/>
<polyline points="128.0,335.4 146.0,320.0" fill="none" stroke="#5c5c5c" stroke-width="2.0" stroke-linejoin="round" stroke-linecap="round"/>
<polyline points="146.0,320.0 157.0,310.0" fill="none" stroke="#9a9a9a" stroke-width="2.0" stroke-linejoin="round" stroke-linecap="round"/>
<polyline points="146.0,320.0 157.0,310.0" fill="none" stroke="#f2f2f2" stroke-width="1.00" stroke-linejoin="round" stroke-linecap="round"/>
<polyline points="157.0,310.0 166.0,306.0" fill="none" stroke="#5c5c5c" stroke-width="2.0" stroke-linejoin="round" stroke-linecap="round"/>
<polyline points="331.8,354.7 323.8,350.7 317.0,348.0 308.0,340.0 305.0,334.4 286.0,319.8 279.8,313.0 270.0,310.0" fill="none" stroke="#6e6e6e" stroke-width="1.7" stroke-linejoin="round" stroke-linecap="round"/>
<polyline points="209.8,263.7 206.0,256.0 220.0,246.0 236.0,255.0 233.8,263.2" fill="none" stroke="#808080" stroke-width="2.6" stroke-linejoin="round" stroke-linecap="round"/>
<polyline points="209.8,263.7 206.0,256.0 220.0,246.0 236.0,255.0 233.8,263.2" fill="none" stroke="#dcdcdc" stroke-width="1.30" stroke-linejoin="round" stroke-linecap="round"/>
<polyline points="206.0,256.0 189.0,253.0" fill="none" stroke="#808080" stroke-width="2.6" stroke-linejoin="round" stroke-linecap="round"/>
<polyline points="206.0,256.0 189.0,253.0" fill="none" stroke="#dcdcdc" stroke-width="1.30" stroke-linejoin="round" stroke-linecap="round"/>
<polyline points="236.0,255.0 254.0,251.0" fill="none" stroke="#808080" stroke-width="2.6" stroke-linejoin="round" stroke-linecap="round"/>
<polyline points="236.0,255.0 254.0,251.0" fill="none" stroke="#dcdcdc" stroke-width="1.30" stroke-linejoin="round" stroke-linecap="round"/>
<polyline points="190.9,325.1 186.0,330.0 168.0,323.0 169.0,307.0 179.4,307.0" fill="none" stroke="#808080" stroke-width="2.6" stroke-linejoin="round" stroke-linecap="round"/>
<polyline points="190.9,325.1 186.0,330.0 168.0,323.0 169.0,307.0 179.4,307.0" fill="none" stroke="#dcdcdc" stroke-width="1.30" stroke-linejoin="round" stroke-linecap="round"/>
<polyline points="186.0,330.0 188.0,349.0" fill="none" stroke="#808080" stroke-width="2.6" stroke-linejoin="round" stroke-linecap="round"/>
<polyline points="186.0,330.0 188.0,349.0" fill="none" stroke="#dcdcdc" stroke-width="1.30" stroke-linejoin="round" stroke-linecap="round"/>
<polyline points="169.0,307.0 157.0,293.0" fill="none" stroke="#8a8a8a" stroke-width="1.5" stroke-linejoin="round" stroke-linecap="round"/>
<polyline points="248.9,326.4 255.0,333.0 272.0,327.0 268.0,309.0 259.2,307.9" fill="none" stroke="#808080" stroke-width="2.6" stroke-linejoin="round" stroke-linecap="round"/>
<polyline points="248.9,326.4 255.0,333.0 272.0,327.0 268.0,309.0 259.2,307.9" fill="none" stroke="#dcdcdc" stroke-width="1.30" stroke-linejoin="round" stroke-linecap="round"/>
<polyline points="255.0,333.0 250.0,350.0" fill="none" stroke="#808080" stroke-width="2.6" stroke-linejoin="round" stroke-linecap="round"/>
<polyline points="255.0,333.0 250.0,350.0" fill="none" stroke="#dcdcdc" stroke-width="1.30" stroke-linejoin="round" stroke-linecap="round"/>
<polyline points="268.0,309.0 282.0,297.0" fill="none" stroke="#808080" stroke-width="2.4" stroke-linejoin="round" stroke-linecap="round"/>
<polyline points="268.0,309.0 282.0,297.0" fill="none" stroke="#dcdcdc" stroke-width="1.20" stroke-linejoin="round" stroke-linecap="round"/>
<polyline points="189.3,192.8 203.8,193.6 216.8,197.8" fill="none" stroke="#808080" stroke-width="2.0" stroke-linejoin="round" stroke-linecap="round"/>
<polyline points="189.3,192.8 203.8,193.6 216.8,197.8" fill="none" stroke="#dcdcdc" stroke-width="1.00" stroke-linejoin="round" stroke-linecap="round"/>
<polyline points="216.8,197.8 220.8,216.0 220.5,232.0 220.0,246.0" fill="none" stroke="#7a7a7a" stroke-width="1.7" stroke-linejoin="round" stroke-linecap="round"/>
<polyline points="219.3,198.8 223.2,216.0 222.8,236.0" fill="none" stroke="#b0b0b0" stroke-width="1.4" stroke-linejoin="round" stroke-linecap="round"/>
<polyline points="117.5,373.3 120.7,367.6" fill="none" stroke="#5c5c5c" stroke-width="2.0" stroke-linejoin="round" stroke-linecap="round"/>
<polyline points="120.7,367.6 128.0,353.7" fill="none" stroke="#9a9a9a" stroke-width="2.0" stroke-linejoin="round" stroke-linecap="round"/>
<polyline points="120.7,367.6 128.0,353.7" fill="none" stroke="#f2f2f2" stroke-width="1.00" stroke-linejoin="round" stroke-linecap="round"/>
<polyline points="128.0,353.7 148.0,337.0" fill="none" stroke="#5c5c5c" stroke-width="2.0" stroke-linejoin="round" stroke-linecap="round"/>
<polyline points="148.0,337.0 159.0,327.0" fill="none" stroke="#9a9a9a" stroke-width="2.0" stroke-linejoin="round" stroke-linecap="round"/>
<polyline points="148.0,337.0 159.0,327.0" fill="none" stroke="#f2f2f2" stroke-width="1.00" stroke-linejoin="round" stroke-linecap="round"/>
<polyline points="159.0,327.0 168.0,323.0" fill="none" stroke="#5c5c5c" stroke-width="2.0" stroke-linejoin="round" stroke-linecap="round"/>
<polyline points="336.7,373.0 328.7,369.0 321.9,366.3 312.9,358.3 309.9,352.7 288.0,336.8 281.8,330.0 272.0,327.0" fill="none" stroke="#6e6e6e" stroke-width="1.7" stroke-linejoin="round" stroke-linecap="round"/>
<polyline points="211.8,280.7 208.0,273.0 222.0,263.0 238.0,272.0 235.8,280.2" fill="none" stroke="#808080" stroke-width="2.6" stroke-linejoin="round" stroke-linecap="round"/>
<polyline points="211.8,280.7 208.0,273.0 222.0,263.0 238.0,272.0 235.8,280.2" fill="none" stroke="#dcdcdc" stroke-width="1.30" stroke-linejoin="round" stroke-linecap="round"/>
<polyline points="208.0,273.0 191.0,270.0" fill="none" stroke="#808080" stroke-width="2.6" stroke-linejoin="round" stroke-linecap="round"/>
<polyline points="208.0,273.0 191.0,270.0" fill="none" stroke="#dcdcdc" stroke-width="1.30" stroke-linejoin="round" stroke-linecap="round"/>
<polyline points="238.0,272.0 256.0,268.0" fill="none" stroke="#808080" stroke-width="2.6" stroke-linejoin="round" stroke-linecap="round"/>
<polyline points="238.0,272.0 256.0,268.0" fill="none" stroke="#dcdcdc" stroke-width="1.30" stroke-linejoin="round" stroke-linecap="round"/>
<polyline points="192.9,342.1 188.0,347.0 170.0,340.0 171.0,324.0 181.4,324.0" fill="none" stroke="#808080" stroke-width="2.6" stroke-linejoin="round" stroke-linecap="round"/>
<polyline points="192.9,342.1 188.0,347.0 170.0,340.0 171.0,324.0 181.4,324.0" fill="none" stroke="#dcdcdc" stroke-width="1.30" stroke-linejoin="round" stroke-linecap="round"/>
<polyline points="188.0,347.0 190.0,366.0" fill="none" stroke="#808080" stroke-width="2.6" stroke-linejoin="round" stroke-linecap="round"/>
<polyline points="188.0,347.0 190.0,366.0" fill="none" stroke="#dcdcdc" stroke-width="1.30" stroke-linejoin="round" stroke-linecap="round"/>
<polyline points="171.0,324.0 159.0,310.0" fill="none" stroke="#8a8a8a" stroke-width="1.5" stroke-linejoin="round" stroke-linecap="round"/>
<polyline points="250.9,343.4 257.0,350.0 274.0,344.0 270.0,326.0 261.2,324.9" fill="none" stroke="#808080" stroke-width="2.6" stroke-linejoin="round" stroke-linecap="round"/>
<polyline points="250.9,343.4 257.0,350.0 274.0,344.0 270.0,326.0 261.2,324.9" fill="none" stroke="#dcdcdc" stroke-width="1.30" stroke-linejoin="round" stroke-linecap="round"/>
<polyline points="257.0,350.0 252.0,367.0" fill="none" stroke="#808080" stroke-width="2.6" stroke-linejoin="round" stroke-linecap="round"/>
<polyline points="257.0,350.0 252.0,367.0" fill="none" stroke="#dcdcdc" stroke-width="1.30" stroke-linejoin="round" stroke-linecap="round"/>
<polyline points="270.0,326.0 284.0,314.0" fill="none" stroke="#808080" stroke-width="2.4" stroke-linejoin="round" stroke-linecap="round"/>
<polyline points="270.0,326.0 284.0,314.0" fill="none" stroke="#dcdcdc" stroke-width="1.20" stroke-linejoin="round" stroke-linecap="round"/>
<polyline points="190.9,206.6 205.4,207.4 218.4,211.6" fill="none" stroke="#808080" stroke-width="2.0" stroke-linejoin="round" stroke-linecap="round"/>
<polyline points="190.9,206.6 205.4,207.4 218.4,211.6" fill="none" stroke="#dcdcdc" stroke-width="1.00" stroke-linejoin="round" stroke-linecap="round"/>
<polyline points="218.4,211.6 222.8,233.0 222.5,249.0 222.0,263.0" fill="none" stroke="#7a7a7a" stroke-width="1.7" stroke-linejoin="round" stroke-linecap="round"/>
<polyline points="220.9,212.6 225.2,233.0 224.8,253.0" fill="none" stroke="#b0b0b0" stroke-width="1.4" stroke-linejoin="round" stroke-linecap="round"/>
<polyline points="117.5,391.6 120.7,385.9" fill="none" stroke="#5c5c5c" stroke-width="2.0" stroke-linejoin="round" stroke-linecap="round"/>
<polyline points="120.7,385.9 128.0,372.0" fill="none" stroke="#9a9a9a" stroke-width="2.0" stroke-linejoin="round" stroke-linecap="round"/>
<polyline points="120.7,385.9 128.0,372.0" fill="none" stroke="#f2f2f2" stroke-width="1.00" stroke-linejoin="round" stroke-linecap="round"/>
<polyline points="128.0,372.0 150.0,354.0" fill="none" stroke="#5c5c5c" stroke-width="2.0" stroke-linejoin="round" stroke-linecap="round"/>
<polyline points="150.0,354.0 161.0,344.0" fill="none" stroke="#9a9a9a" stroke-width="2.0" stroke-linejoin="round" stroke-linecap="round"/>
<polyline points="150.0,354.0 161.0,344.0" fill="none" stroke="#f2f2f2" stroke-width="1.00" stroke-linejoin="round" stroke-linecap="round"/>
<polyline points="161.0,344.0 170.0,340.0" fill="none" stroke="#5c5c5c" stroke-width="2.0" stroke-linejoin="round" stroke-linecap="round"/>
<polyline points="341.6,391.3 333.6,387.3 326.8,384.6 317.8,376.6 314.8,371.0 290.0,353.8 283.8,347.0 274.0,344.0" fill="none" stroke="#6e6e6e" stroke-width="1.7" stroke-linejoin="round" stroke-linecap="round"/>
<polygon points="186.5,168.7 171.2,172.2 166.7,163.5 177.5,151.3 192.8,147.8 197.3,156.5" fill="none" stroke="#808080" stroke-width="2.6" stroke-linejoin="round" stroke-linecap="round"/>
<polygon points="186.5,168.7 171.2,172.2 166.7,163.5 177.5,151.3 192.8,147.8 197.3,156.5" fill="none" stroke="#dcdcdc" stroke-width="1.30" stroke-linejoin="round" stroke-linecap="round"/>
<polygon points="173.2,188.9 163.0,184.7 147.5,192.8 142.2,205.1 152.4,209.3 167.9,201.2" fill="none" stroke="#808080" stroke-width="2.6" stroke-linejoin="round" stroke-linecap="round"/>
<polygon points="173.2,188.9 163.0,184.7 147.5,192.8 142.2,205.1 152.4,209.3 167.9,201.2" fill="none" stroke="#dcdcdc" stroke-width="1.30" stroke-linejoin="round" stroke-linecap="round"/>
<polyline points="171.2,172.2 163.0,184.7" fill="none" stroke="#808080" stroke-width="2.6" stroke-linejoin="round" stroke-linecap="round"/>
<polyline points="171.2,172.2 163.0,184.7" fill="none" stroke="#dcdcdc" stroke-width="1.30" stroke-linejoin="round" stroke-linecap="round"/>
<polyline points="187.1,173.8 186.5,168.7" fill="none" stroke="#808080" stroke-width="2.6" stroke-linejoin="round" stroke-linecap="round"/>
<polyline points="187.1,173.8 186.5,168.7" fill="none" stroke="#dcdcdc" stroke-width="1.30" stroke-linejoin="round" stroke-linecap="round"/>
<polyline points="180.4,184.0 173.2,188.9" fill="none" stroke="#808080" stroke-width="2.6" stroke-linejoin="round" stroke-linecap="round"/>
<polyline points="180.4,184.0 173.2,188.9" fill="none" stroke="#dcdcdc" stroke-width="1.30" stroke-linejoin="round" stroke-linecap="round"/>
<polyline points="187.0,173.3 187.7,179.0 179.7,184.4" fill="none" stroke="#1414ff" stroke-width="2.5" stroke-linejoin="round" stroke-linecap="round"/>
<polyline points="187.7,179.0 194.7,179.4" fill="none" stroke="#1414ff" stroke-width="2.5" stroke-linejoin="round" stroke-linecap="round"/>
<polygon points="99.0,366.1 98.2,380.4 82.0,386.3 66.4,377.9 67.2,363.6 83.4,357.7" fill="none" stroke="#808080" stroke-width="2.6" stroke-linejoin="round" stroke-linecap="round"/>
<polygon points="99.0,366.1 98.2,380.4 82.0,386.3 66.4,377.9 67.2,363.6 83.4,357.7" fill="none" stroke="#dcdcdc" stroke-width="1.30" stroke-linejoin="round" stroke-linecap="round"/>
<polygon points="126.9,375.4 115.5,386.1 122.3,399.7 140.5,402.6 151.9,391.9 145.1,378.3" fill="none" stroke="#808080" stroke-width="2.6" stroke-linejoin="round" stroke-linecap="round"/>
<polygon points="126.9,375.4 115.5,386.1 122.3,399.7 140.5,402.6 151.9,391.9 145.1,378.3" fill="none" stroke="#dcdcdc" stroke-width="1.30" stroke-linejoin="round" stroke-linecap="round"/>
<polyline points="98.2,380.4 115.5,386.1" fill="none" stroke="#808080" stroke-width="2.6" stroke-linejoin="round" stroke-linecap="round"/>
<polyline points="98.2,380.4 115.5,386.1" fill="none" stroke="#dcdcdc" stroke-width="1.30" stroke-linejoin="round" stroke-linecap="round"/>
<polyline points="107.8,364.5 99.0,366.1" fill="none" stroke="#808080" stroke-width="2.6" stroke-linejoin="round" stroke-linecap="round"/>
<polyline points="107.8,364.5 99.0,366.1" fill="none" stroke="#dcdcdc" stroke-width="1.30" stroke-linejoin="round" stroke-linecap="round"/>
<polyline points="121.8,369.2 126.9,375.4" fill="none" stroke="#808080" stroke-width="2.6" stroke-linejoin="round" stroke-linecap="round"/>
<polyline points="121.8,369.2 126.9,375.4" fill="none" stroke="#dcdcdc" stroke-width="1.30" stroke-linejoin="round" stroke-linecap="round"/>
<polyline points="107.0,364.7 116.7,363.0 122.3,369.8" fill="none" stroke="#1414ff" stroke-width="2.5" stroke-linejoin="round" stroke-linecap="round"/>
<polyline points="116.7,363.0 117.5,356.0" fill="none" stroke="#1414ff" stroke-width="2.5" stroke-linejoin="round" stroke-linecap="round"/>
<polygon points="347.4,346.9 357.3,358.0 373.7,353.4 380.2,337.5 370.3,326.4 353.9,331.0" fill="none" stroke="#808080" stroke-width="2.6" stroke-linejoin="round" stroke-linecap="round"/>
<polygon points="347.4,346.9 357.3,358.0 373.7,353.4 380.2,337.5 370.3,326.4 353.9,331.0" fill="none" stroke="#dcdcdc" stroke-width="1.30" stroke-linejoin="round" stroke-linecap="round"/>
<polygon points="332.1,370.7 347.9,372.8 351.6,387.8 339.5,400.7 323.7,398.6 320.0,383.6" fill="none" stroke="#808080" stroke-width="2.6" stroke-linejoin="round" stroke-linecap="round"/>
<polygon points="332.1,370.7 347.9,372.8 351.6,387.8 339.5,400.7 323.7,398.6 320.0,383.6" fill="none" stroke="#dcdcdc" stroke-width="1.30" stroke-linejoin="round" stroke-linecap="round"/>
<polyline points="357.3,358.0 347.9,372.8" fill="none" stroke="#808080" stroke-width="2.6" stroke-linejoin="round" stroke-linecap="round"/>
<polyline points="357.3,358.0 347.9,372.8" fill="none" stroke="#dcdcdc" stroke-width="1.30" stroke-linejoin="round" stroke-linecap="round"/>
<polyline points="339.6,350.8 347.4,346.9" fill="none" stroke="#808080" stroke-width="2.6" stroke-linejoin="round" stroke-linecap="round"/>
<polyline points="339.6,350.8 347.4,346.9" fill="none" stroke="#dcdcdc" stroke-width="1.30" stroke-linejoin="round" stroke-linecap="round"/>
<polyline points="331.9,362.7 332.1,370.7" fill="none" stroke="#808080" stroke-width="2.6" stroke-linejoin="round" stroke-linecap="round"/>
<polyline points="331.9,362.7 332.1,370.7" fill="none" stroke="#dcdcdc" stroke-width="1.30" stroke-linejoin="round" stroke-linecap="round"/>
<polyline points="340.4,350.4 331.8,354.7 332.0,363.5" fill="none" stroke="#1414ff" stroke-width="2.5" stroke-linejoin="round" stroke-linecap="round"/>
<polyline points="331.8,354.7 324.8,351.2" fill="none" stroke="#1414ff" stroke-width="2.5" stroke-linejoin="round" stroke-linecap="round"/>
<polygon points="188.1,182.5 172.8,186.0 168.3,177.3 179.1,165.1 194.4,161.6 198.9,170.3" fill="none" stroke="#808080" stroke-width="2.6" stroke-linejoin="round" stroke-linecap="round"/>
<polygon points="188.1,182.5 172.8,186.0 168.3,177.3 179.1,165.1 194.4,161.6 198.9,170.3" fill="none" stroke="#dcdcdc" stroke-width="1.30" stroke-linejoin="round" stroke-linecap="round"/>
<polygon points="174.8,202.7 164.6,198.5 149.1,206.6 143.8,218.9 154.0,223.1 169.5,215.0" fill="none" stroke="#808080" stroke-width="2.6" stroke-linejoin="round" stroke-linecap="round"/>
<polygon points="174.8,202.7 164.6,198.5 149.1,206.6 143.8,218.9 154.0,223.1 169.5,215.0" fill="none" stroke="#dcdcdc" stroke-width="1.30" stroke-linejoin="round" stroke-linecap="round"/>
<polyline points="172.8,186.0 164.6,198.5" fill="none" stroke="#808080" stroke-width="2.6" stroke-linejoin="round" stroke-linecap="round"/>
<polyline points="172.8,186.0 164.6,198.5" fill="none" stroke="#dcdcdc" stroke-width="1.30" stroke-linejoin="round" stroke-linecap="round"/>
<polyline points="188.7,187.6 188.1,182.5" fill="none" stroke="#808080" stroke-width="2.6" stroke-linejoin="round" stroke-linecap="round"/>
<polyline points="188.7,187.6 188.1,182.5" fill="none" stroke="#dcdcdc" stroke-width="1.30" stroke-linejoin="round" stroke-linecap="round"/>
<polyline points="182.0,197.8 174.8,202.7" fill="none" stroke="#808080" stroke-width="2.6" stroke-linejoin="round" stroke-linecap="round"/>
<polyline points="182.0,197.8 174.8,202.7" fill="none" stroke="#dcdcdc" stroke-width="1.30" stroke-linejoin="round" stroke-linecap="round"/>
<polyline points="188.6,187.1 189.3,192.8 181.3,198.2" fill="none" stroke="#1414ff" stroke-width="2.5" stroke-linejoin="round" stroke-linecap="round"/>
<polyline points="189.3,192.8 196.3,193.2" fill="none" stroke="#1414ff" stroke-width="2.5" stroke-linejoin="round" stroke-linecap="round"/>
<polygon points="99.0,384.4 98.2,398.7 82.0,404.6 66.4,396.2 67.2,381.9 83.4,376.0" fill="none" stroke="#808080" stroke-width="2.6" stroke-linejoin="round" stroke-linecap="round"/>
<polygon points="99.0,384.4 98.2,398.7 82.0,404.6 66.4,396.2 67.2,381.9 83.4,376.0" fill="none" stroke="#dcdcdc" stroke-width="1.30" stroke-linejoin="round" stroke-linecap="round"/>
<polygon points="126.9,393.7 115.5,404.4 122.3,418.0 140.5,420.9 151.9,410.2 145.1,396.6" fill="none" stroke="#808080" stroke-width="2.6" stroke-linejoin="round" stroke-linecap="round"/>
<polygon points="126.9,393.7 115.5,404.4 122.3,418.0 140.5,420.9 151.9,410.2 145.1,396.6" fill="none" stroke="#dcdcdc" stroke-width="1.30" stroke-linejoin="round" stroke-linecap="round"/>
<polyline points="98.2,398.7 115.5,404.4" fill="none" stroke="#808080" stroke-width="2.6" stroke-linejoin="round" stroke-linecap="round"/>
<polyline points="98.2,398.7 115.5,404.4" fill="none" stroke="#dcdcdc" stroke-width="1.30" stroke-linejoin="round" stroke-linecap="round"/>
<polyline points="107.8,382.8 99.0,384.4" fill="none" stroke="#808080" stroke-width="2.6" stroke-linejoin="round" stroke-linecap="round"/>
<polyline points="107.8,382.8 99.0,384.4" fill="none" stroke="#dcdcdc" stroke-width="1.30" stroke-linejoin="round" stroke-linecap="round"/>
<polyline points="121.8,387.5 126.9,393.7" fill="none" stroke="#808080" stroke-width="2.6" stroke-linejoin="round" stroke-linecap="round"/>
<polyline points="121.8,387.5 126.9,393.7" fill="none" stroke="#dcdcdc" stroke-width="1.30" stroke-linejoin="round" stroke-linecap="round"/>
<polyline points="107.0,383.0 116.7,381.3 122.3,388.1" fill="none" stroke="#1414ff" stroke-width="2.5" stroke-linejoin="round" stroke-linecap="round"/>
<polyline points="116.7,381.3 117.5,374.3" fill="none" stroke="#1414ff" stroke-width="2.5" stroke-linejoin="round" stroke-linecap="round"/>
<polygon points="352.3,365.2 362.2,376.3 378.6,371.7 385.1,355.8 375.2,344.7 358.8,349.3" fill="none" stroke="#808080" stroke-width="2.6" stroke-linejoin="round" stroke-linecap="round"/>
<polygon points="352.3,365.2 362.2,376.3 378.6,371.7 385.1,355.8 375.2,344.7 358.8,349.3" fill="none" stroke="#dcdcdc" stroke-width="1.30" stroke-linejoin="round" stroke-linecap="round"/>
<polygon points="337.0,389.0 352.8,391.1 356.5,406.1 344.4,419.0 328.6,416.9 324.9,401.9" fill="none" stroke="#808080" stroke-width="2.6" stroke-linejoin="round" stroke-linecap="round"/>
<polygon points="337.0,389.0 352.8,391.1 356.5,406.1 344.4,419.0 328.6,416.9 324.9,401.9" fill="none" stroke="#dcdcdc" stroke-width="1.30" stroke-linejoin="round" stroke-linecap="round"/>
<polyline points="362.2,376.3 352.8,391.1" fill="none" stroke="#808080" stroke-width="2.6" stroke-linejoin="round" stroke-linecap="round"/>
<polyline points="362.2,376.3 352.8,391.1" fill="none" stroke="#dcdcdc" stroke-width="1.30" stroke-linejoin="round" stroke-linecap="round"/>
<polyline points="344.5,369.1 352.3,365.2" fill="none" stroke="#808080" stroke-width="2.6" stroke-linejoin="round" stroke-linecap="round"/>
<polyline points="344.5,369.1 352.3,365.2" fill="none" stroke="#dcdcdc" stroke-width="1.30" stroke-linejoin="round" stroke-linecap="round"/>
<polyline points="336.8,381.0 337.0,389.0" fill="none" stroke="#808080" stroke-width="2.6" stroke-linejoin="round" stroke-linecap="round"/>
<polyline points="336.8,381.0 337.0,389.0" fill="none" stroke="#dcdcdc" stroke-width="1.30" stroke-linejoin="round" stroke-linecap="round"/>
<polyline points="345.3,368.7 336.7,373.0 336.9,381.8" fill="none" stroke="#1414ff" stroke-width="2.5" stroke-linejoin="round" stroke-linecap="round"/>
<polyline points="336.7,373.0 329.7,369.5" fill="none" stroke="#1414ff" stroke-width="2.5" stroke-linejoin="round" stroke-linecap="round"/>
<polygon points="189.7,196.3 174.4,199.8 169.9,191.1 180.7,178.9 196.0,175.4 200.5,184.1" fill="none" stroke="#808080" stroke-width="2.6" stroke-linejoin="round" stroke-linecap="round"/>
<polygon points="189.7,196.3 174.4,199.8 169.9,191.1 180.7,178.9 196.0,175.4 200.5,184.1" fill="none" stroke="#dcdcdc" stroke-width="1.30" stroke-linejoin="round" stroke-linecap="round"/>
<polygon points="176.4,216.5 166.2,212.3 150.7,220.4 145.4,232.7 155.6,236.9 171.1,228.8" fill="none" stroke="#808080" stroke-width="2.6" stroke-linejoin="round" stroke-linecap="round"/>
<polygon points="176.4,216.5 166.2,212.3 150.7,220.4 145.4,232.7 155.6,236.9 171.1,228.8" fill="none" stroke="#dcdcdc" stroke-width="1.30" stroke-linejoin="round" stroke-linecap="round"/>
<polyline points="174.4,199.8 166.2,212.3" fill="none" stroke="#808080" stroke-width="2.6" stroke-linejoin="round" stroke-linecap="round"/>
<polyline points="174.4,199.8 166.2,212.3" fill="none" stroke="#dcdcdc" stroke-width="1.30" stroke-linejoin="round" stroke-linecap="round"/>
<polyline points="190.3,201.4 189.7,196.3" fill="none" stroke="#808080" stroke-width="2.6" stroke-linejoin="round" stroke-linecap="round"/>
<polyline points="190.3,201.4 189.7,196.3" fill="none" stroke="#dcdcdc" stroke-width="1.30" stroke-linejoin="round" stroke-linecap="round"/>
<polyline points="183.6,211.6 176.4,216.5" fill="none" stroke="#808080" stroke-width="2.6" stroke-linejoin="round" stroke-linecap="round"/>
<polyline points="183.6,211.6 176.4,216.5" fill="none" stroke="#dcdcdc" stroke-width="1.30" stroke-linejoin="round" stroke-linecap="round"/>
<polyline points="190.2,200.9 190.9,206.6 182.9,212.0" fill="none" stroke="#1414ff" stroke-width="2.5" stroke-linejoin="round" stroke-linecap="round"/>
<polyline points="190.9,206.6 197.9,207.0" fill="none" stroke="#1414ff" stroke-width="2.5" stroke-linejoin="round" stroke-linecap="round"/>
<polygon points="99.0,402.7 98.2,417.0 82.0,422.9 66.4,414.5 67.2,400.2 83.4,394.3" fill="none" stroke="#808080" stroke-width="2.6" stroke-linejoin="round" stroke-linecap="round"/>
<polygon points="99.0,402.7 98.2,417.0 82.0,422.9 66.4,414.5 67.2,400.2 83.4,394.3" fill="none" stroke="#dcdcdc" stroke-width="1.30" stroke-linejoin="round" stroke-linecap="round"/>
<polygon points="126.9,412.0 115.5,422.7 122.3,436.3 140.5,439.2 151.9,428.5 145.1,414.9" fill="none" stroke="#808080" stroke-width="2.6" stroke-linejoin="round" stroke-linecap="round"/>
<polygon points="126.9,412.0 115.5,422.7 122.3,436.3 140.5,439.2 151.9,428.5 145.1,414.9" fill="none" stroke="#dcdcdc" stroke-width="1.30" stroke-linejoin="round" stroke-linecap="round"/>
<polyline points="98.2,417.0 115.5,422.7" fill="none" stroke="#808080" stroke-width="2.6" stroke-linejoin="round" stroke-linecap="round"/>
<polyline points="98.2,417.0 115.5,422.7" fill="none" stroke="#dcdcdc" stroke-width="1.30" stroke-linejoin="round" stroke-linecap="round"/>
<polyline points="107.8,401.1 99.0,402.7" fill="none" stroke="#808080" stroke-width="2.6" stroke-linejoin="round" stroke-linecap="round"/>
<polyline points="107.8,401.1 99.0,402.7" fill="none" stroke="#dcdcdc" stroke-width="1.30" stroke-linejoin="round" stroke-linecap="round"/>
<polyline points="121.8,405.8 126.9,412.0" fill="none" stroke="#808080" stroke-width="2.6" stroke-linejoin="round" stroke-linecap="round"/>
<polyline points="121.8,405.8 126.9,412.0" fill="none" stroke="#dcdcdc" stroke-width="1.30" stroke-linejoin="round" stroke-linecap="round"/>
<polyline points="107.0,401.3 116.7,399.6 122.3,406.4" fill="none" stroke="#1414ff" stroke-width="2.5" stroke-linejoin="round" stroke-linecap="round"/>
<polyline points="116.7,399.6 117.5,392.6" fill="none" stroke="#1414ff" stroke-width="2.5" stroke-linejoin="round" stroke-linecap="round"/>
<polygon points="357.2,383.5 367.1,394.6 383.5,390.0 390.0,374.1 380.1,363.0 363.7,367.6" fill="none" stroke="#808080" stroke-width="2.6" stroke-linejoin="round" stroke-linecap="round"/>
<polygon points="357.2,383.5 367.1,394.6 383.5,390.0 390.0,374.1 380.1,363.0 363.7,367.6" fill="none" stroke="#dcdcdc" stroke-width="1.30" stroke-linejoin="round" stroke-linecap="round"/>
<polygon points="341.9,407.3 357.7,409.4 361.4,424.4 349.3,437.3 333.5,435.2 329.8,420.2" fill="none" stroke="#808080" stroke-width="2.6" stroke-linejoin="round" stroke-linecap="round"/>
<polygon points="341.9,407.3 357.7,409.4 361.4,424.4 349.3,437.3 333.5,435.2 329.8,420.2" fill="none" stroke="#dcdcdc" stroke-width="1.30" stroke-linejoin="round" stroke-linecap="round"/>
<polyline points="367.1,394.6 357.7,409.4" fill="none" stroke="#808080" stroke-width="2.6" stroke-linejoin="round" stroke-linecap="round"/>
<polyline points="367.1,394.6 357.7,409.4" fill="none" stroke="#dcdcdc" stroke-width="1.30" stroke-linejoin="round" stroke-linecap="round"/>
<polyline points="349.4,387.4 357.2,383.5" fill="none" stroke="#808080" stroke-width="2.6" stroke-linejoin="round" stroke-linecap="round"/>
<polyline points="349.4,387.4 357.2,383.5" fill="none" stroke="#dcdcdc" stroke-width="1.30" stroke-linejoin="round" stroke-linecap="round"/>
<polyline points="341.7,399.3 341.9,407.3" fill="none" stroke="#808080" stroke-width="2.6" stroke-linejoin="round" stroke-linecap="round"/>
<polyline points="341.7,399.3 341.9,407.3" fill="none" stroke="#dcdcdc" stroke-width="1.30" stroke-linejoin="round" stroke-linecap="round"/>
<polyline points="350.2,387.0 341.6,391.3 341.8,400.1" fill="none" stroke="#1414ff" stroke-width="2.5" stroke-linejoin="round" stroke-linecap="round"/>
<polyline points="341.6,391.3 334.6,387.8" fill="none" stroke="#1414ff" stroke-width="2.5" stroke-linejoin="round" stroke-linecap="round"/>
<polyline points="211.0,253.0 230.0,253.0" fill="none" stroke="#1414ff" stroke-width="2.5" stroke-linejoin="round" stroke-linecap="round"/>
<polyline points="250.0,290.0 242.0,304.0" fill="none" stroke="#1414ff" stroke-width="2.5" stroke-linejoin="round" stroke-linecap="round"/>
<polyline points="193.0,304.0 186.0,290.0" fill="none" stroke="#1414ff" stroke-width="2.5" stroke-linejoin="round" stroke-linecap="round"/>
<polyline points="211.0,253.0 207.5,246.0" fill="none" stroke="#1414ff" stroke-width="2.4" stroke-linejoin="round" stroke-linecap="round"/>
<polyline points="230.0,253.0 232.0,245.5" fill="none" stroke="#1414ff" stroke-width="2.4" stroke-linejoin="round" stroke-linecap="round"/>
<polyline points="193.0,304.0 188.5,308.5" fill="none" stroke="#1414ff" stroke-width="2.4" stroke-linejoin="round" stroke-linecap="round"/>
<polyline points="186.0,290.0 176.5,290.0" fill="none" stroke="#1414ff" stroke-width="2.4" stroke-linejoin="round" stroke-linecap="round"/>
<polyline points="242.0,304.0 247.5,310.0" fill="none" stroke="#1414ff" stroke-width="2.4" stroke-linejoin="round" stroke-linecap="round"/>
<polyline points="250.0,290.0 258.0,291.0" fill="none" stroke="#1414ff" stroke-width="2.4" stroke-linejoin="round" stroke-linecap="round"/>
<polyline points="230.0,253.0 236.0,264.1" fill="none" stroke="#1414ff" stroke-width="2.5" stroke-linejoin="round" stroke-linecap="round"/>
<polyline points="250.0,290.0 244.0,278.9" fill="none" stroke="#1414ff" stroke-width="2.5" stroke-linejoin="round" stroke-linecap="round"/>
<polyline points="236.0,264.1 244.0,278.9" fill="none" stroke="#b4501e" stroke-width="2.3" stroke-linejoin="round" stroke-linecap="butt"/>
<circle cx="240.0" cy="271.5" r="3.1" fill="url(#cuG)"/>
<polyline points="242.0,304.0 227.3,304.0" fill="none" stroke="#1414ff" stroke-width="2.5" stroke-linejoin="round" stroke-linecap="round"/>
<polyline points="193.0,304.0 207.7,304.0" fill="none" stroke="#1414ff" stroke-width="2.5" stroke-linejoin="round" stroke-linecap="round"/>
<polyline points="227.3,304.0 207.7,304.0" fill="none" stroke="#b4501e" stroke-width="2.3" stroke-linejoin="round" stroke-linecap="butt"/>
<circle cx="217.5" cy="304.0" r="3.1" fill="url(#cuG)"/>
<polyline points="186.0,290.0 193.5,278.9" fill="none" stroke="#1414ff" stroke-width="2.5" stroke-linejoin="round" stroke-linecap="round"/>
<polyline points="211.0,253.0 203.5,264.1" fill="none" stroke="#1414ff" stroke-width="2.5" stroke-linejoin="round" stroke-linecap="round"/>
<polyline points="193.5,278.9 203.5,264.1" fill="none" stroke="#b4501e" stroke-width="2.3" stroke-linejoin="round" stroke-linecap="butt"/>
<circle cx="198.5" cy="271.5" r="3.1" fill="url(#cuG)"/>
<polyline points="213.0,270.0 232.0,270.0" fill="none" stroke="#1414ff" stroke-width="2.5" stroke-linejoin="round" stroke-linecap="round"/>
<polyline points="252.0,307.0 244.0,321.0" fill="none" stroke="#1414ff" stroke-width="2.5" stroke-linejoin="round" stroke-linecap="round"/>
<polyline points="195.0,321.0 188.0,307.0" fill="none" stroke="#1414ff" stroke-width="2.5" stroke-linejoin="round" stroke-linecap="round"/>
<polyline points="213.0,270.0 209.5,263.0" fill="none" stroke="#1414ff" stroke-width="2.4" stroke-linejoin="round" stroke-linecap="round"/>
<polyline points="232.0,270.0 234.0,262.5" fill="none" stroke="#1414ff" stroke-width="2.4" stroke-linejoin="round" stroke-linecap="round"/>
<polyline points="195.0,321.0 190.5,325.5" fill="none" stroke="#1414ff" stroke-width="2.4" stroke-linejoin="round" stroke-linecap="round"/>
<polyline points="188.0,307.0 178.5,307.0" fill="none" stroke="#1414ff" stroke-width="2.4" stroke-linejoin="round" stroke-linecap="round"/>
<polyline points="244.0,321.0 249.5,327.0" fill="none" stroke="#1414ff" stroke-width="2.4" stroke-linejoin="round" stroke-linecap="round"/>
<polyline points="252.0,307.0 260.0,308.0" fill="none" stroke="#1414ff" stroke-width="2.4" stroke-linejoin="round" stroke-linecap="round"/>
<polyline points="232.0,270.0 238.0,281.1" fill="none" stroke="#1414ff" stroke-width="2.5" stroke-linejoin="round" stroke-linecap="round"/>
<polyline points="252.0,307.0 246.0,295.9" fill="none" stroke="#1414ff" stroke-width="2.5" stroke-linejoin="round" stroke-linecap="round"/>
<polyline points="238.0,281.1 246.0,295.9" fill="none" stroke="#b4501e" stroke-width="2.3" stroke-linejoin="round" stroke-linecap="butt"/>
<circle cx="242.0" cy="288.5" r="3.1" fill="url(#cuG)"/>
<polyline points="244.0,321.0 229.3,321.0" fill="none" stroke="#1414ff" stroke-width="2.5" stroke-linejoin="round" stroke-linecap="round"/>
<polyline points="195.0,321.0 209.7,321.0" fill="none" stroke="#1414ff" stroke-width="2.5" stroke-linejoin="round" stroke-linecap="round"/>
<polyline points="229.3,321.0 209.7,321.0" fill="none" stroke="#b4501e" stroke-width="2.3" stroke-linejoin="round" stroke-linecap="butt"/>
<circle cx="219.5" cy="321.0" r="3.1" fill="url(#cuG)"/>
<polyline points="188.0,307.0 195.5,295.9" fill="none" stroke="#1414ff" stroke-width="2.5" stroke-linejoin="round" stroke-linecap="round"/>
<polyline points="213.0,270.0 205.5,281.1" fill="none" stroke="#1414ff" stroke-width="2.5" stroke-linejoin="round" stroke-linecap="round"/>
<polyline points="195.5,295.9 205.5,281.1" fill="none" stroke="#b4501e" stroke-width="2.3" stroke-linejoin="round" stroke-linecap="butt"/>
<circle cx="200.5" cy="288.5" r="3.1" fill="url(#cuG)"/>
<polyline points="215.0,287.0 234.0,287.0" fill="none" stroke="#1414ff" stroke-width="2.5" stroke-linejoin="round" stroke-linecap="round"/>
<polyline points="254.0,324.0 246.0,338.0" fill="none" stroke="#1414ff" stroke-width="2.5" stroke-linejoin="round" stroke-linecap="round"/>
<polyline points="197.0,338.0 190.0,324.0" fill="none" stroke="#1414ff" stroke-width="2.5" stroke-linejoin="round" stroke-linecap="round"/>
<polyline points="215.0,287.0 211.5,280.0" fill="none" stroke="#1414ff" stroke-width="2.4" stroke-linejoin="round" stroke-linecap="round"/>
<polyline points="234.0,287.0 236.0,279.5" fill="none" stroke="#1414ff" stroke-width="2.4" stroke-linejoin="round" stroke-linecap="round"/>
<polyline points="197.0,338.0 192.5,342.5" fill="none" stroke="#1414ff" stroke-width="2.4" stroke-linejoin="round" stroke-linecap="round"/>
<polyline points="190.0,324.0 180.5,324.0" fill="none" stroke="#1414ff" stroke-width="2.4" stroke-linejoin="round" stroke-linecap="round"/>
<polyline points="246.0,338.0 251.5,344.0" fill="none" stroke="#1414ff" stroke-width="2.4" stroke-linejoin="round" stroke-linecap="round"/>
<polyline points="254.0,324.0 262.0,325.0" fill="none" stroke="#1414ff" stroke-width="2.4" stroke-linejoin="round" stroke-linecap="round"/>
<polyline points="234.0,287.0 240.0,298.1" fill="none" stroke="#1414ff" stroke-width="2.5" stroke-linejoin="round" stroke-linecap="round"/>
<polyline points="254.0,324.0 248.0,312.9" fill="none" stroke="#1414ff" stroke-width="2.5" stroke-linejoin="round" stroke-linecap="round"/>
<polyline points="240.0,298.1 248.0,312.9" fill="none" stroke="#b4501e" stroke-width="2.3" stroke-linejoin="round" stroke-linecap="butt"/>
<circle cx="244.0" cy="305.5" r="3.1" fill="url(#cuG)"/>
<polyline points="246.0,338.0 231.3,338.0" fill="none" stroke="#1414ff" stroke-width="2.5" stroke-linejoin="round" stroke-linecap="round"/>
<polyline points="197.0,338.0 211.7,338.0" fill="none" stroke="#1414ff" stroke-width="2.5" stroke-linejoin="round" stroke-linecap="round"/>
<polyline points="231.3,338.0 211.7,338.0" fill="none" stroke="#b4501e" stroke-width="2.3" stroke-linejoin="round" stroke-linecap="butt"/>
<circle cx="221.5" cy="338.0" r="3.1" fill="url(#cuG)"/>
<polyline points="190.0,324.0 197.5,312.9" fill="none" stroke="#1414ff" stroke-width="2.5" stroke-linejoin="round" stroke-linecap="round"/>
<polyline points="215.0,287.0 207.5,298.1" fill="none" stroke="#1414ff" stroke-width="2.5" stroke-linejoin="round" stroke-linecap="round"/>
<polyline points="197.5,312.9 207.5,298.1" fill="none" stroke="#b4501e" stroke-width="2.3" stroke-linejoin="round" stroke-linecap="butt"/>
<circle cx="202.5" cy="305.5" r="3.1" fill="url(#cuG)"/>
<g fill="none" stroke="#f06c3a" stroke-width="1.3">
<rect x="158" y="238.4" width="130.6" height="140" rx="13" ry="13" stroke-dasharray="4.2 2.4"/>
<rect x="302" y="212.8" width="104.8" height="103.2" rx="12" ry="12" stroke-dasharray="4.2 2.4"/>
<rect x="14.6" y="530.9" width="224.4" height="196" rx="13" ry="13" stroke-dasharray="4.1 2.3"/>
<rect x="274.6" y="530.9" width="212.4" height="196" rx="13" ry="13" stroke-dasharray="4.1 2.3"/>
<path d="M154,367.2 L18.4,531.3" stroke-width="1.1"/>
<path d="M406.8,298.5 L486.6,541.5" stroke-dasharray="3.2 1.2" stroke-width="1.0"/>
</g>
<g font-weight="bold" font-size="24.1" text-anchor="middle"><text x="126.9" y="498.3">metal–metal</text><text x="126.9" y="521.3">interactions</text><text x="380.4" y="506" font-size="23.9">Cz–Cz stacking</text></g>
<text x="134.0" y="560.4" font-size="21.5" font-weight="bold"><tspan font-style="italic">d</tspan><tspan font-size="15.6" dy="4.6">Cu···Cu</tspan></text>
<text x="118.3" y="601.6" font-size="26.6">3.756 Å</text>
<text x="388.8" y="559" font-size="23.2" font-weight="bold"><tspan font-style="italic">d</tspan><tspan font-size="15.8" dy="2.4">Cz···Cz</tspan></text>
<text x="381.5" y="595" font-size="27.2">3.478 Å</text>
<line x1="42.3" y1="566.5" x2="102.8" y2="563.1" stroke="#a8400f" stroke-width="5.6" stroke-dasharray="6.6 5.6" stroke-dashoffset="-12.5"/>
<line x1="42.3" y1="566.5" x2="78.9" y2="580.6" stroke="#a8400f" stroke-width="5.4" stroke-dasharray="4.6 2.4" stroke-dashoffset="-8"/>
<line x1="102.8" y1="561.6" x2="95.3" y2="621.8" stroke="#a8400f" stroke-width="5.4" stroke-dasharray="3.6 3.0" stroke-dashoffset="-7"/>
<polygon points="25.1,572.2 52.4,557.3 82.6,555.0 127.3,568.8 114.3,580.3 43.8,582.6" fill="none" stroke="#1010ee" stroke-width="6.2" stroke-linejoin="round"/>
<line x1="34.6" y1="567.0" x2="50.2" y2="558.5" stroke="#a8400f" stroke-width="6.2"/>
<line x1="89.3" y1="557.0" x2="114.8" y2="564.9" stroke="#a8400f" stroke-width="6.2"/>
<line x1="98.8" y1="580.8" x2="60.7" y2="582.0" stroke="#a8400f" stroke-width="6.2"/>
<circle cx="42.3" cy="566.5" r="8.4" fill="url(#cuG2)"/>
<circle cx="102.8" cy="561.6" r="8.4" fill="url(#cuG2)"/>
<circle cx="78.9" cy="580.6" r="8.4" fill="url(#cuG2)"/>
<line x1="95.3" y1="621.8" x2="155.8" y2="618.4" stroke="#a8400f" stroke-width="5.6" stroke-dasharray="6.6 5.6" stroke-dashoffset="-12.5"/>
<line x1="95.3" y1="621.8" x2="131.9" y2="635.9" stroke="#a8400f" stroke-width="5.4" stroke-dasharray="4.6 2.4" stroke-dashoffset="-8"/>
<line x1="155.8" y1="616.9" x2="149.1" y2="675.9" stroke="#a8400f" stroke-width="5.4" stroke-dasharray="3.6 3.0" stroke-dashoffset="-7"/>
<polygon points="78.0,627.5 105.4,612.5 135.6,610.2 180.2,624.1 167.3,635.6 96.8,637.9" fill="none" stroke="#1010ee" stroke-width="6.2" stroke-linejoin="round"/>
<line x1="87.6" y1="622.3" x2="103.2" y2="613.7" stroke="#a8400f" stroke-width="6.2"/>
<line x1="142.3" y1="612.3" x2="167.7" y2="620.2" stroke="#a8400f" stroke-width="6.2"/>
<line x1="151.8" y1="636.1" x2="113.7" y2="637.3" stroke="#a8400f" stroke-width="6.2"/>
<circle cx="95.3" cy="621.8" r="8.4" fill="url(#cuG2)"/>
<circle cx="155.8" cy="616.9" r="8.4" fill="url(#cuG2)"/>
<circle cx="131.9" cy="635.9" r="8.4" fill="url(#cuG2)"/>
<line x1="149.1" y1="675.9" x2="209.6" y2="672.5" stroke="#a8400f" stroke-width="5.6" stroke-dasharray="6.6 5.6" stroke-dashoffset="-12.5"/>
<line x1="149.1" y1="675.9" x2="185.7" y2="690.0" stroke="#a8400f" stroke-width="5.4" stroke-dasharray="4.6 2.4" stroke-dashoffset="-8"/>
<polygon points="131.9,681.6 159.2,666.7 189.4,664.4 234.1,678.2 221.1,689.7 150.6,692.0" fill="none" stroke="#1010ee" stroke-width="6.2" stroke-linejoin="round"/>
<line x1="141.4" y1="676.4" x2="157.0" y2="667.9" stroke="#a8400f" stroke-width="6.2"/>
<line x1="196.1" y1="666.4" x2="221.6" y2="674.3" stroke="#a8400f" stroke-width="6.2"/>
<line x1="205.6" y1="690.2" x2="167.5" y2="691.4" stroke="#a8400f" stroke-width="6.2"/>
<circle cx="149.1" cy="675.9" r="8.4" fill="url(#cuG2)"/>
<circle cx="209.6" cy="671.0" r="8.4" fill="url(#cuG2)"/>
<circle cx="185.7" cy="690.0" r="8.4" fill="url(#cuG2)"/>
<line x1="277.5" y1="568.7" x2="297.5" y2="569.0" stroke="#9a9a9a" stroke-width="1.2"/>
<line x1="291.5" y1="568.9" x2="305.5" y2="569.0" stroke="#1212e0" stroke-width="1.5"/>
<polygon points="307.5,569.0 321.2,565.5 345.5,572.2 343.0,577.5 316.2,577.5" fill="#5499d8" stroke="#878787" stroke-width="6.2" stroke-linejoin="round"/>
<polygon points="319.5,557.5 338.8,554.5 360.5,559.2 367.5,567.5 345.5,572.2 321.2,565.5" fill="#5499d8" stroke="#878787" stroke-width="6.2" stroke-linejoin="round"/>
<polygon points="316.2,577.5 343.0,577.5 360.5,585.5 352.0,593.5 323.0,594.0 304.5,585.0" fill="#5499d8" stroke="#878787" stroke-width="6.2" stroke-linejoin="round"/>
<polygon points="307.5,569.0 321.2,565.5 345.5,572.2 343.0,577.5 316.2,577.5" fill="none" stroke="#d0d0d0" stroke-width="5.0" stroke-linejoin="round"/>
<polygon points="319.5,557.5 338.8,554.5 360.5,559.2 367.5,567.5 345.5,572.2 321.2,565.5" fill="none" stroke="#d0d0d0" stroke-width="5.0" stroke-linejoin="round"/>
<polygon points="316.2,577.5 343.0,577.5 360.5,585.5 352.0,593.5 323.0,594.0 304.5,585.0" fill="none" stroke="#d0d0d0" stroke-width="5.0" stroke-linejoin="round"/>
<polygon points="307.5,569.0 321.2,565.5 345.5,572.2 343.0,577.5 316.2,577.5" fill="none" stroke="#f6f6f6" stroke-width="3.0" stroke-linejoin="round" transform="translate(-0.3,-0.5)"/>
<polygon points="319.5,557.5 338.8,554.5 360.5,559.2 367.5,567.5 345.5,572.2 321.2,565.5" fill="none" stroke="#f6f6f6" stroke-width="3.0" stroke-linejoin="round" transform="translate(-0.3,-0.5)"/>
<polygon points="316.2,577.5 343.0,577.5 360.5,585.5 352.0,593.5 323.0,594.0 304.5,585.0" fill="none" stroke="#f6f6f6" stroke-width="3.0" stroke-linejoin="round" transform="translate(-0.3,-0.5)"/>
<polygon points="315.8,566.9 307.5,569.0 312.3,573.7" fill="#1010e6" stroke="#1010e6" stroke-width="4.6" stroke-linejoin="round"/>
<polygon points="300.5,568.8 308.5,566.8 308.5,571.2" fill="#1010e6"/>
<circle cx="368.3" cy="567.0" r="1.8" fill="#0a0a0a"/>
<circle cx="368.4" cy="574.0" r="1.8" fill="#0a0a0a"/>
<circle cx="368.5" cy="581.0" r="1.8" fill="#0a0a0a"/>
<circle cx="368.6" cy="588.0" r="1.8" fill="#0a0a0a"/>
<circle cx="368.8" cy="595.0" r="1.8" fill="#0a0a0a"/>
<circle cx="368.9" cy="602.0" r="1.8" fill="#0a0a0a"/>
<circle cx="369.0" cy="609.0" r="1.8" fill="#0a0a0a"/>
<circle cx="369.1" cy="616.0" r="1.8" fill="#0a0a0a"/>
<line x1="324.5" y1="624.2" x2="344.5" y2="624.5" stroke="#9a9a9a" stroke-width="1.2"/>
<line x1="338.5" y1="624.4" x2="352.5" y2="624.5" stroke="#1212e0" stroke-width="1.5"/>
<polygon points="354.5,624.5 368.2,621.0 392.5,627.8 390.0,633.0 363.2,633.0" fill="#5499d8" stroke="#878787" stroke-width="6.2" stroke-linejoin="round"/>
<polygon points="366.5,613.0 385.8,610.0 407.5,614.8 414.5,623.0 392.5,627.8 368.2,621.0" fill="#5499d8" stroke="#878787" stroke-width="6.2" stroke-linejoin="round"/>
<polygon points="363.2,633.0 390.0,633.0 407.5,641.0 399.0,649.0 370.0,649.5 351.5,640.5" fill="#5499d8" stroke="#878787" stroke-width="6.2" stroke-linejoin="round"/>
<polygon points="354.5,624.5 368.2,621.0 392.5,627.8 390.0,633.0 363.2,633.0" fill="none" stroke="#d0d0d0" stroke-width="5.0" stroke-linejoin="round"/>
<polygon points="366.5,613.0 385.8,610.0 407.5,614.8 414.5,623.0 392.5,627.8 368.2,621.0" fill="none" stroke="#d0d0d0" stroke-width="5.0" stroke-linejoin="round"/>
<polygon points="363.2,633.0 390.0,633.0 407.5,641.0 399.0,649.0 370.0,649.5 351.5,640.5" fill="none" stroke="#d0d0d0" stroke-width="5.0" stroke-linejoin="round"/>
<polygon points="354.5,624.5 368.2,621.0 392.5,627.8 390.0,633.0 363.2,633.0" fill="none" stroke="#f6f6f6" stroke-width="3.0" stroke-linejoin="round" transform="translate(-0.3,-0.5)"/>
<polygon points="366.5,613.0 385.8,610.0 407.5,614.8 414.5,623.0 392.5,627.8 368.2,621.0" fill="none" stroke="#f6f6f6" stroke-width="3.0" stroke-linejoin="round" transform="translate(-0.3,-0.5)"/>
<polygon points="363.2,633.0 390.0,633.0 407.5,641.0 399.0,649.0 370.0,649.5 351.5,640.5" fill="none" stroke="#f6f6f6" stroke-width="3.0" stroke-linejoin="round" transform="translate(-0.3,-0.5)"/>
<polygon points="362.8,622.4 354.5,624.5 359.3,629.2" fill="#1010e6" stroke="#1010e6" stroke-width="4.6" stroke-linejoin="round"/>
<polygon points="347.5,624.3 355.5,622.3 355.5,626.7" fill="#1010e6"/>
<circle cx="415.3" cy="622.5" r="1.8" fill="#0a0a0a"/>
<circle cx="415.4" cy="629.5" r="1.8" fill="#0a0a0a"/>
<circle cx="415.6" cy="636.5" r="1.8" fill="#0a0a0a"/>
<circle cx="415.7" cy="643.5" r="1.8" fill="#0a0a0a"/>
<circle cx="415.8" cy="650.5" r="1.8" fill="#0a0a0a"/>
<circle cx="416.0" cy="657.5" r="1.8" fill="#0a0a0a"/>
<circle cx="416.1" cy="664.5" r="1.8" fill="#0a0a0a"/>
<line x1="371.2" y1="671.7" x2="391.2" y2="672.0" stroke="#9a9a9a" stroke-width="1.2"/>
<line x1="385.2" y1="671.9" x2="399.2" y2="672.0" stroke="#1212e0" stroke-width="1.5"/>
<polygon points="401.2,672.0 415.0,668.5 439.2,675.2 436.8,680.5 410.0,680.5" fill="#5499d8" stroke="#878787" stroke-width="6.2" stroke-linejoin="round"/>
<polygon points="413.2,660.5 432.5,657.5 454.2,662.2 461.2,670.5 439.2,675.2 415.0,668.5" fill="#5499d8" stroke="#878787" stroke-width="6.2" stroke-linejoin="round"/>
<polygon points="410.0,680.5 436.8,680.5 454.2,688.5 445.8,696.5 416.8,697.0 398.2,688.0" fill="#5499d8" stroke="#878787" stroke-width="6.2" stroke-linejoin="round"/>
<polygon points="401.2,672.0 415.0,668.5 439.2,675.2 436.8,680.5 410.0,680.5" fill="none" stroke="#d0d0d0" stroke-width="5.0" stroke-linejoin="round"/>
<polygon points="413.2,660.5 432.5,657.5 454.2,662.2 461.2,670.5 439.2,675.2 415.0,668.5" fill="none" stroke="#d0d0d0" stroke-width="5.0" stroke-linejoin="round"/>
<polygon points="410.0,680.5 436.8,680.5 454.2,688.5 445.8,696.5 416.8,697.0 398.2,688.0" fill="none" stroke="#d0d0d0" stroke-width="5.0" stroke-linejoin="round"/>
<polygon points="401.2,672.0 415.0,668.5 439.2,675.2 436.8,680.5 410.0,680.5" fill="none" stroke="#f6f6f6" stroke-width="3.0" stroke-linejoin="round" transform="translate(-0.3,-0.5)"/>
<polygon points="413.2,660.5 432.5,657.5 454.2,662.2 461.2,670.5 439.2,675.2 415.0,668.5" fill="none" stroke="#f6f6f6" stroke-width="3.0" stroke-linejoin="round" transform="translate(-0.3,-0.5)"/>
<polygon points="410.0,680.5 436.8,680.5 454.2,688.5 445.8,696.5 416.8,697.0 398.2,688.0" fill="none" stroke="#f6f6f6" stroke-width="3.0" stroke-linejoin="round" transform="translate(-0.3,-0.5)"/>
<polygon points="409.5,669.9 401.2,672.0 406.1,676.7" fill="#1010e6" stroke="#1010e6" stroke-width="4.6" stroke-linejoin="round"/>
<polygon points="394.2,671.8 402.2,669.8 402.2,674.2" fill="#1010e6"/>
<path d="M553.2,327.7 L553.7,327.5 L554.2,327.4 L554.7,327.0 L555.2,326.7 L555.7,326.3 L556.2,325.8 L556.7,325.2 L557.2,324.6 L557.7,324.0 L558.2,323.1 L558.7,322.3 L559.2,321.4 L559.7,320.7 L560.2,319.7 L560.7,318.6 L561.2,317.4 L561.7,316.3 L562.2,315.1 L562.7,314.0 L563.2,312.7 L563.7,311.6 L564.2,310.5 L564.7,309.6 L565.2,308.7 L565.7,307.8 L566.2,307.2 L566.7,306.7 L567.2,306.5 L567.7,306.3 L568.2,306.2 L568.7,306.2 L569.2,306.1 L569.7,306.0 L570.2,305.9 L570.7,305.6 L571.2,305.3 L571.7,305.0 L572.2,304.7 L572.7,304.2 L573.2,303.8 L573.7,303.2 L574.2,302.6 L574.7,301.9 L575.2,300.8 L575.7,299.0 L576.2,293.2 L576.7,285.0 L577.2,276.7 L577.7,267.8 L578.2,257.9 L578.7,247.0 L579.2,234.9 L579.7,219.6 L580.2,203.0 L580.7,187.6 L581.2,175.4 L581.7,164.7 L582.2,154.6 L582.7,146.0 L583.2,139.0 L583.7,134.2 L584.2,130.0 L584.7,126.5 L585.2,123.5 L585.7,121.2 L586.2,119.2 L586.7,117.3 L587.2,115.6 L587.7,114.4 L588.2,113.9 L588.7,114.5 L589.2,116.4 L589.7,118.7 L590.2,120.8 L590.7,123.4 L591.2,124.9 L591.7,124.6 L592.2,123.6 L592.7,122.8 L593.2,122.3 L593.7,122.0 L594.2,121.6 L594.7,121.5 L595.2,122.4 L595.7,124.8 L596.2,127.9 L596.7,131.7 L597.2,137.8 L597.7,145.4 L598.2,152.8 L598.7,160.8 L599.2,168.9 L599.7,176.2 L600.2,182.1 L600.7,187.5 L601.2,192.3 L601.7,196.9 L602.2,201.0 L602.7,205.3 L603.2,209.0 L603.7,212.8 L604.2,216.3 L604.7,219.9 L605.2,223.4 L605.7,226.8 L606.2,230.0 L606.7,232.9 L607.2,235.7 L607.7,238.3 L608.2,240.9 L608.7,243.3 L609.2,245.6 L609.7,247.7 L610.2,249.7 L610.7,251.7 L611.2,253.7 L611.7,255.6 L612.2,257.4 L612.7,259.0 L613.2,260.6 L613.7,262.2 L614.2,263.9 L614.7,265.4 L615.2,266.9 L615.7,268.5 L616.2,270.0 L616.7,271.5 L617.2,272.8 L617.7,274.2 L618.2,275.4 L618.7,276.7 L619.2,278.0 L619.7,279.3 L620.2,280.5 L620.7,281.6 L621.2,282.8 L621.7,284.0 L622.2,285.2 L622.7,286.4 L623.2,287.5 L623.7,288.7 L624.2,289.9 L624.7,291.1 L625.2,292.2 L625.7,293.2 L626.2,294.2 L626.7,295.1 L627.2,296.0 L627.7,296.9 L628.2,297.7 L628.7,298.4 L629.2,299.1 L629.7,299.7 L630.2,300.1 L630.7,300.3 L631.2,300.6 L631.7,301.4 L632.2,301.9 L632.7,302.3 L633.2,302.4 L633.7,303.0 L634.2,303.2 L634.7,303.4 L635.2,303.3 L635.7,303.5 L636.2,303.8 L636.7,304.0 L637.2,304.6 L637.7,304.6 L638.2,304.8 L638.7,304.7 L639.2,305.0 L639.7,304.8 L640.2,304.8 L640.7,305.1 L641.2,305.2 L641.7,305.5 L642.2,305.3 L642.7,305.5 L643.2,305.4 L643.7,305.6 L644.2,305.7 L644.7,305.9 L645.2,305.8 L645.7,306.0 L646.2,306.0 L646.7,306.1 L647.2,305.8 L647.7,305.6 L648.2,305.7 L648.7,306.0 L649.2,306.2 L649.7,306.1 L650.2,306.1 L650.7,306.4 L651.2,306.5 L651.7,306.3 L652.2,306.4 L652.7,306.0 L653.2,306.1 L653.7,305.9 L654.2,306.3 L654.7,306.5 L655.2,306.7 L655.7,306.3 L656.2,305.7 L656.7,305.5 L657.2,305.6 L657.7,305.7 L658.2,305.7 L658.7,305.7 L659.2,305.4 L659.7,305.3 L660.2,305.5 L660.7,305.8 L661.2,305.6 L661.7,305.5 L662.2,305.2 L662.7,305.3 L663.2,305.4 L663.7,305.3 L664.2,305.4 L664.7,305.5 L665.2,305.8 L665.7,305.5 L666.2,305.3 L666.7,305.1 L667.2,305.2 L667.7,305.4 L668.2,305.3 L668.7,305.5 L669.2,305.6 L669.7,306.1 L670.2,305.8 L670.7,305.8 L671.2,305.5 L671.7,305.7 L672.2,305.4 L672.7,305.5 L673.2,305.6 L673.7,305.7 L674.2,305.8 L674.7,305.8 L675.2,306.0 L675.7,306.1 L676.2,305.8 L676.7,305.7 L677.2,305.4 L677.7,305.4 L678.2,305.6 L678.7,306.4 L679.2,307.0 L679.7,307.1 L680.2,306.9 L680.7,307.3 L681.2,307.8 L681.7,308.2 L682.2,308.3 L682.7,308.4 L683.2,308.8 L683.7,309.1 L684.2,309.3 L684.7,309.2 L685.2,309.4 L685.7,309.6 L686.2,310.3 L686.7,310.1 L687.2,310.3 L687.7,310.2 L688.2,310.4 L688.7,310.8 L689.2,311.2 L689.7,311.6 L690.2,311.6 L690.7,311.5 L691.2,311.3 L691.7,311.4 L692.2,311.6 L692.7,312.3 L693.2,312.2 L693.7,312.5 L694.2,312.6 L694.7,313.2 L695.2,313.4 L695.7,313.6 L696.2,313.8 L696.7,313.9 L697.2,314.0 L697.7,313.7 L698.2,314.1 L698.7,314.5 L699.2,315.3 L699.7,315.3 L700.2,315.3 L700.7,315.3 L701.2,315.6 L701.7,315.8 L702.2,316.0 L702.7,316.4 L703.2,316.8 L703.7,317.0 L704.2,316.9 L704.7,316.8 L705.2,317.4 L705.7,317.8 L706.2,318.1 L706.7,318.1 L707.2,318.1 L707.7,318.3 L708.2,318.7 L708.7,318.8 L709.2,319.0 L709.7,318.9 L710.2,319.3 L710.7,319.3 L711.2,319.5 L711.7,319.4 L712.2,319.9 L712.7,320.0 L713.2,320.5 L713.7,320.7 L714.2,320.9 L714.7,320.8 L715.2,320.8 L715.7,321.0 L716.2,321.3 L716.7,321.5 L717.2,322.0 L717.7,322.1 L718.2,322.0 L718.7,321.6 L719.2,321.8 L719.7,321.9 L720.2,321.9 L720.7,322.3 L721.2,322.4 L721.7,323.0 L722.2,323.1 L722.7,323.5 L723.2,323.5 L723.7,323.6 L724.2,323.7 L724.7,323.5 L725.2,323.1 L725.7,323.3 L726.2,324.0 L726.7,324.5 L727.2,324.4 L727.7,324.0 L728.2,323.8 L728.7,324.1 L729.2,324.3 L729.7,324.4 L730.2,324.5 L730.7,324.6 L731.2,324.6 L731.7,324.6 L732.2,324.8 L732.7,325.1 L733.2,325.5 L733.7,325.7 L734.2,325.6 L734.7,325.1 L735.2,325.1 L735.7,324.8 L736.2,324.9 L736.7,325.2 L737.2,325.7 L737.7,326.0 L738.2,325.6 L738.7,325.5 L739.2,325.4 L739.7,325.9 L740.2,326.3 L740.7,326.6 L741.2,326.3 L741.7,325.9 L742.2,326.0 L742.7,326.3 L743.2,326.2 L743.7,326.3 L744.2,326.1 L744.7,326.6 L745.2,326.8 L745.7,327.2 L746.2,327.0 L746.7,326.9 L747.2,326.7 L747.7,326.9 L748.2,326.8 L748.7,326.8 L749.2,326.8 L749.7,327.0 L750.2,327.1 L750.7,327.3 L751.2,327.4 L751.7,327.5" fill="none" stroke="#0b5a2a" stroke-width="1.15" stroke-linejoin="round"/>
<path d="M553.2,328.2 L553.7,328.1 L554.2,327.8 L554.7,327.5 L555.2,327.2 L555.7,326.8 L556.2,326.5 L556.7,326.0 L557.2,325.6 L557.7,325.0 L558.2,324.4 L558.7,323.7 L559.2,323.2 L559.7,322.6 L560.2,321.9 L560.7,321.0 L561.2,320.0 L561.7,319.1 L562.2,318.0 L562.7,317.0 L563.2,316.1 L563.7,315.1 L564.2,314.2 L564.7,313.1 L565.2,312.0 L565.7,311.0 L566.2,310.2 L566.7,309.5 L567.2,308.9 L567.7,308.5 L568.2,308.2 L568.7,307.9 L569.2,307.6 L569.7,307.2 L570.2,307.0 L570.7,306.6 L571.2,306.1 L571.7,305.4 L572.2,304.7 L572.7,303.8 L573.2,302.8 L573.7,301.1 L574.2,299.2 L574.7,296.9 L575.2,294.5 L575.7,291.9 L576.2,288.1 L576.7,282.3 L577.2,275.1 L577.7,267.0 L578.2,258.6 L578.7,250.3 L579.2,241.8 L579.7,232.5 L580.2,222.5 L580.7,212.4 L581.2,202.2 L581.7,192.5 L582.2,182.6 L582.7,172.3 L583.2,162.0 L583.7,152.0 L584.2,142.9 L584.7,135.0 L585.2,127.8 L585.7,120.8 L586.2,114.4 L586.7,108.6 L587.2,103.8 L587.7,100.1 L588.2,97.2 L588.7,94.5 L589.2,92.4 L589.7,90.8 L590.2,90.0 L590.7,91.7 L591.2,93.7 L591.7,95.6 L592.2,97.7 L592.7,99.7 L593.2,102.1 L593.7,104.5 L594.2,107.0 L594.7,109.4 L595.2,111.5 L595.7,113.4 L596.2,115.2 L596.7,117.2 L597.2,119.5 L597.7,122.4 L598.2,125.8 L598.7,129.8 L599.2,134.3 L599.7,139.0 L600.2,143.9 L600.7,149.7 L601.2,156.1 L601.7,162.9 L602.2,169.3 L602.7,175.2 L603.2,180.7 L603.7,186.1 L604.2,191.3 L604.7,196.2 L605.2,200.7 L605.7,205.1 L606.2,209.4 L606.7,213.6 L607.2,217.7 L607.7,221.7 L608.2,225.4 L608.7,229.1 L609.2,232.4 L609.7,235.8 L610.2,238.8 L610.7,241.8 L611.2,244.6 L611.7,247.1 L612.2,249.7 L612.7,252.1 L613.2,254.6 L613.7,256.8 L614.2,259.0 L614.7,261.1 L615.2,263.2 L615.7,265.4 L616.2,267.5 L616.7,269.5 L617.2,271.3 L617.7,273.3 L618.2,275.2 L618.7,277.1 L619.2,278.8 L619.7,280.3 L620.2,282.0 L620.7,283.7 L621.2,285.4 L621.7,286.8 L622.2,288.2 L622.7,289.5 L623.2,290.8 L623.7,292.1 L624.2,293.4 L624.7,294.6 L625.2,295.9 L625.7,297.0 L626.2,298.0 L626.7,298.8 L627.2,299.5 L627.7,300.1 L628.2,300.7 L628.7,301.3 L629.2,301.7 L629.7,302.2 L630.2,302.7 L630.7,303.2 L631.2,303.7 L631.7,304.1 L632.2,304.5 L632.7,305.1 L633.2,305.0 L633.7,305.2 L634.2,305.0 L634.7,305.6 L635.2,305.9 L635.7,305.8 L636.2,305.6 L636.7,305.5 L637.2,305.9 L637.7,306.3 L638.2,306.3 L638.7,306.3 L639.2,306.3 L639.7,306.4 L640.2,306.6 L640.7,306.3 L641.2,306.5 L641.7,306.3 L642.2,306.8 L642.7,306.8 L643.2,306.9 L643.7,307.0 L644.2,307.0 L644.7,307.0 L645.2,306.9 L645.7,307.3 L646.2,307.5 L646.7,308.0 L647.2,308.0 L647.7,308.2 L648.2,308.1 L648.7,308.2 L649.2,308.1 L649.7,308.2 L650.2,308.1 L650.7,307.9 L651.2,307.7 L651.7,307.9 L652.2,307.8 L652.7,308.2 L653.2,308.0 L653.7,308.2 L654.2,307.9 L654.7,308.2 L655.2,308.1 L655.7,308.1 L656.2,308.3 L656.7,308.2 L657.2,308.5 L657.7,308.4 L658.2,308.3 L658.7,308.0 L659.2,307.9 L659.7,308.1 L660.2,308.3 L660.7,308.2 L661.2,307.8 L661.7,307.7 L662.2,307.4 L662.7,307.7 L663.2,307.6 L663.7,307.9 L664.2,307.7 L664.7,307.9 L665.2,307.9 L665.7,307.7 L666.2,307.5 L666.7,307.3 L667.2,307.5 L667.7,307.8 L668.2,308.1 L668.7,308.5 L669.2,308.2 L669.7,308.3 L670.2,308.1 L670.7,308.4 L671.2,308.5 L671.7,308.8 L672.2,309.0 L672.7,308.9 L673.2,308.5 L673.7,308.6 L674.2,308.5 L674.7,308.9 L675.2,308.8 L675.7,309.2 L676.2,308.9 L676.7,309.0 L677.2,309.0 L677.7,309.3 L678.2,309.3 L678.7,309.2 L679.2,309.3 L679.7,309.7 L680.2,310.4 L680.7,310.9 L681.2,310.9 L681.7,310.5 L682.2,310.5 L682.7,310.9 L683.2,311.0 L683.7,311.2 L684.2,311.4 L684.7,311.9 L685.2,312.0 L685.7,311.8 L686.2,311.6 L686.7,311.7 L687.2,311.6 L687.7,312.1 L688.2,312.4 L688.7,313.0 L689.2,313.3 L689.7,313.8 L690.2,313.7 L690.7,313.7 L691.2,313.7 L691.7,313.9 L692.2,313.8 L692.7,313.8 L693.2,313.9 L693.7,314.4 L694.2,314.2 L694.7,314.4 L695.2,314.3 L695.7,314.8 L696.2,315.2 L696.7,315.5 L697.2,315.7 L697.7,315.9 L698.2,315.7 L698.7,315.9 L699.2,315.9 L699.7,316.5 L700.2,316.8 L700.7,316.9 L701.2,316.8 L701.7,317.0 L702.2,317.4 L702.7,317.5 L703.2,317.9 L703.7,318.4 L704.2,318.6 L704.7,318.5 L705.2,318.7 L705.7,319.2 L706.2,319.5 L706.7,319.3 L707.2,319.4 L707.7,319.5 L708.2,319.7 L708.7,320.0 L709.2,320.1 L709.7,320.3 L710.2,320.2 L710.7,320.4 L711.2,320.5 L711.7,320.9 L712.2,321.2 L712.7,321.5 L713.2,321.7 L713.7,321.7 L714.2,321.7 L714.7,321.8 L715.2,321.7 L715.7,322.0 L716.2,322.0 L716.7,322.5 L717.2,322.4 L717.7,322.7 L718.2,322.5 L718.7,322.7 L719.2,322.8 L719.7,322.8 L720.2,323.2 L720.7,323.2 L721.2,323.0 L721.7,322.9 L722.2,322.9 L722.7,323.3 L723.2,323.7 L723.7,324.1 L724.2,324.1 L724.7,323.9 L725.2,324.1 L725.7,324.5 L726.2,324.7 L726.7,324.7 L727.2,325.1 L727.7,325.3 L728.2,325.3 L728.7,325.1 L729.2,325.0 L729.7,325.1 L730.2,324.8 L730.7,324.9 L731.2,324.9 L731.7,325.0 L732.2,325.1 L732.7,325.6 L733.2,325.7 L733.7,325.8 L734.2,325.4 L734.7,325.7 L735.2,325.9 L735.7,326.0 L736.2,326.0 L736.7,325.6 L737.2,325.6 L737.7,325.8 L738.2,326.1 L738.7,326.2 L739.2,326.2 L739.7,326.2 L740.2,326.4 L740.7,326.4 L741.2,326.5 L741.7,326.2 L742.2,326.2 L742.7,326.4 L743.2,326.5 L743.7,326.7 L744.2,326.6 L744.7,326.8 L745.2,326.8 L745.7,326.7 L746.2,326.8 L746.7,327.0 L747.2,326.8 L747.7,326.9 L748.2,326.9 L748.7,327.2 L749.2,327.3 L749.7,327.6 L750.2,327.9 L750.7,327.8 L751.2,327.8 L751.7,327.7" fill="none" stroke="#9db526" stroke-width="1.15" stroke-linejoin="round"/>
<path d="M553.2,328.2 L553.7,328.0 L554.2,328.0 L554.7,327.8 L555.2,327.5 L555.7,327.1 L556.2,326.8 L556.7,326.5 L557.2,326.1 L557.7,325.6 L558.2,325.2 L558.7,324.7 L559.2,324.2 L559.7,323.6 L560.2,323.0 L560.7,322.4 L561.2,321.5 L561.7,320.6 L562.2,319.7 L562.7,318.8 L563.2,317.9 L563.7,317.0 L564.2,316.2 L564.7,315.2 L565.2,314.1 L565.7,313.1 L566.2,312.1 L566.7,311.2 L567.2,310.4 L567.7,309.6 L568.2,309.2 L568.7,308.9 L569.2,308.5 L569.7,308.1 L570.2,307.6 L570.7,307.1 L571.2,306.4 L571.7,305.7 L572.2,304.8 L572.7,303.9 L573.2,302.8 L573.7,301.2 L574.2,299.2 L574.7,296.8 L575.2,294.3 L575.7,291.6 L576.2,287.6 L576.7,281.5 L577.2,274.0 L577.7,265.5 L578.2,256.5 L578.7,247.7 L579.2,238.7 L579.7,228.8 L580.2,218.4 L580.7,207.7 L581.2,197.1 L581.7,186.7 L582.2,176.3 L582.7,165.5 L583.2,154.6 L583.7,144.1 L584.2,134.5 L584.7,126.1 L585.2,118.5 L585.7,111.2 L586.2,104.3 L586.7,98.3 L587.2,93.1 L587.7,89.2 L588.2,86.2 L588.7,83.5 L589.2,81.2 L589.7,79.5 L590.2,78.6 L590.7,80.3 L591.2,82.1 L591.7,84.0 L592.2,85.9 L592.7,88.1 L593.2,90.4 L593.7,92.8 L594.2,95.2 L594.7,97.5 L595.2,99.9 L595.7,101.9 L596.2,103.9 L596.7,105.7 L597.2,107.8 L597.7,110.0 L598.2,112.8 L598.7,116.3 L599.2,120.2 L599.7,124.5 L600.2,129.1 L600.7,134.0 L601.2,139.7 L601.7,145.9 L602.2,152.5 L602.7,158.9 L603.2,165.1 L603.7,170.6 L604.2,176.0 L604.7,181.2 L605.2,186.2 L605.7,191.3 L606.2,195.9 L606.7,200.2 L607.2,204.5 L607.7,208.7 L608.2,212.8 L608.7,216.7 L609.2,220.5 L609.7,224.1 L610.2,227.6 L610.7,230.9 L611.2,234.0 L611.7,237.0 L612.2,239.7 L612.7,242.5 L613.2,245.1 L613.7,247.7 L614.2,250.0 L614.7,252.3 L615.2,254.6 L615.7,256.9 L616.2,259.1 L616.7,261.2 L617.2,263.2 L617.7,265.2 L618.2,267.1 L618.7,269.1 L619.2,271.0 L619.7,272.9 L620.2,274.7 L620.7,276.5 L621.2,278.2 L621.7,279.8 L622.2,281.3 L622.7,283.1 L623.2,284.7 L623.7,286.2 L624.2,287.5 L624.7,288.8 L625.2,290.2 L625.7,291.5 L626.2,292.9 L626.7,294.1 L627.2,295.3 L627.7,296.4 L628.2,297.5 L628.7,298.4 L629.2,299.3 L629.7,299.9 L630.2,300.4 L630.7,300.9 L631.2,301.7 L631.7,302.7 L632.2,303.2 L632.7,303.3 L633.2,303.6 L633.7,303.7 L634.2,303.9 L634.7,304.4 L635.2,304.8 L635.7,305.6 L636.2,305.7 L636.7,305.9 L637.2,305.8 L637.7,306.2 L638.2,306.4 L638.7,306.3 L639.2,306.2 L639.7,306.3 L640.2,306.6 L640.7,306.5 L641.2,306.7 L641.7,306.8 L642.2,307.0 L642.7,306.9 L643.2,306.9 L643.7,307.2 L644.2,307.3 L644.7,307.7 L645.2,307.9 L645.7,307.8 L646.2,307.8 L646.7,307.9 L647.2,308.3 L647.7,308.5 L648.2,308.5 L648.7,308.4 L649.2,308.6 L649.7,308.6 L650.2,308.3 L650.7,308.3 L651.2,308.4 L651.7,308.8 L652.2,308.6 L652.7,308.6 L653.2,308.4 L653.7,308.6 L654.2,309.0 L654.7,308.8 L655.2,309.0 L655.7,308.7 L656.2,309.0 L656.7,308.9 L657.2,309.1 L657.7,309.0 L658.2,309.1 L658.7,309.1 L659.2,309.5 L659.7,309.3 L660.2,309.7 L660.7,309.5 L661.2,309.7 L661.7,309.3 L662.2,309.5 L662.7,309.3 L663.2,309.5 L663.7,309.5 L664.2,309.8 L664.7,309.8 L665.2,309.9 L665.7,309.9 L666.2,309.9 L666.7,309.7 L667.2,309.5 L667.7,309.8 L668.2,309.9 L668.7,310.0 L669.2,309.9 L669.7,309.9 L670.2,310.0 L670.7,309.9 L671.2,310.0 L671.7,309.6 L672.2,309.8 L672.7,309.8 L673.2,310.1 L673.7,310.3 L674.2,310.1 L674.7,310.4 L675.2,310.4 L675.7,310.6 L676.2,310.3 L676.7,310.3 L677.2,310.6 L677.7,310.7 L678.2,310.9 L678.7,311.2 L679.2,311.8 L679.7,312.2 L680.2,312.1 L680.7,311.8 L681.2,311.9 L681.7,312.1 L682.2,312.7 L682.7,312.7 L683.2,313.0 L683.7,313.1 L684.2,313.3 L684.7,313.4 L685.2,313.4 L685.7,313.5 L686.2,313.5 L686.7,313.7 L687.2,313.7 L687.7,314.1 L688.2,314.0 L688.7,314.3 L689.2,314.2 L689.7,314.4 L690.2,314.8 L690.7,315.0 L691.2,315.0 L691.7,314.6 L692.2,314.7 L692.7,315.4 L693.2,315.6 L693.7,315.9 L694.2,315.6 L694.7,315.8 L695.2,315.9 L695.7,316.5 L696.2,316.5 L696.7,316.7 L697.2,316.7 L697.7,316.8 L698.2,316.8 L698.7,316.9 L699.2,316.8 L699.7,317.0 L700.2,317.3 L700.7,317.8 L701.2,317.8 L701.7,318.0 L702.2,318.2 L702.7,318.7 L703.2,318.9 L703.7,319.0 L704.2,319.1 L704.7,319.1 L705.2,319.4 L705.7,319.4 L706.2,319.6 L706.7,320.0 L707.2,320.2 L707.7,320.4 L708.2,320.3 L708.7,320.5 L709.2,320.6 L709.7,320.7 L710.2,320.7 L710.7,320.9 L711.2,321.2 L711.7,321.3 L712.2,321.8 L712.7,322.1 L713.2,322.3 L713.7,322.1 L714.2,322.3 L714.7,322.6 L715.2,322.7 L715.7,322.7 L716.2,322.8 L716.7,323.1 L717.2,323.1 L717.7,323.5 L718.2,323.2 L718.7,323.4 L719.2,323.1 L719.7,323.7 L720.2,323.7 L720.7,323.9 L721.2,323.9 L721.7,324.2 L722.2,324.1 L722.7,324.1 L723.2,323.8 L723.7,324.0 L724.2,324.1 L724.7,324.4 L725.2,324.4 L725.7,324.4 L726.2,324.5 L726.7,324.8 L727.2,325.2 L727.7,325.0 L728.2,325.0 L728.7,324.8 L729.2,325.3 L729.7,325.2 L730.2,325.2 L730.7,325.0 L731.2,325.3 L731.7,325.5 L732.2,325.7 L732.7,325.7 L733.2,325.6 L733.7,325.5 L734.2,325.6 L734.7,325.8 L735.2,326.2 L735.7,326.4 L736.2,326.6 L736.7,326.5 L737.2,326.1 L737.7,326.1 L738.2,326.5 L738.7,326.6 L739.2,326.4 L739.7,326.2 L740.2,326.4 L740.7,326.3 L741.2,326.5 L741.7,326.4 L742.2,326.5 L742.7,326.6 L743.2,326.7 L743.7,327.0 L744.2,327.1 L744.7,327.4 L745.2,327.3 L745.7,327.3 L746.2,327.0 L746.7,327.4 L747.2,327.6 L747.7,327.6 L748.2,327.4 L748.7,327.4 L749.2,327.7 L749.7,328.0 L750.2,328.1 L750.7,328.0 L751.2,327.8 L751.7,327.6" fill="none" stroke="#f0c419" stroke-width="1.15" stroke-linejoin="round"/>
<path d="M553.2,328.3 L553.7,328.2 L554.2,328.1 L554.7,328.0 L555.2,327.7 L555.7,327.5 L556.2,327.2 L556.7,326.9 L557.2,326.5 L557.7,326.2 L558.2,325.8 L558.7,325.4 L559.2,324.9 L559.7,324.5 L560.2,324.1 L560.7,323.5 L561.2,322.7 L561.7,322.0 L562.2,321.1 L562.7,320.2 L563.2,319.4 L563.7,318.6 L564.2,317.7 L564.7,316.6 L565.2,315.4 L565.7,314.3 L566.2,313.2 L566.7,312.3 L567.2,311.5 L567.7,310.7 L568.2,310.0 L568.7,309.4 L569.2,309.0 L569.7,308.4 L570.2,308.1 L570.7,307.7 L571.2,307.1 L571.7,306.2 L572.2,305.3 L572.7,304.4 L573.2,303.5 L573.7,302.3 L574.2,300.7 L574.7,298.8 L575.2,296.6 L575.7,293.9 L576.2,291.1 L576.7,286.9 L577.2,280.5 L577.7,272.5 L578.2,263.3 L578.7,253.8 L579.2,244.4 L579.7,234.8 L580.2,224.2 L580.7,213.0 L581.2,201.7 L581.7,190.5 L582.2,179.5 L582.7,168.3 L583.2,156.6 L583.7,145.0 L584.2,133.8 L584.7,123.6 L585.2,114.6 L585.7,106.6 L586.2,98.7 L586.7,91.5 L587.2,85.0 L587.7,79.6 L588.2,75.5 L588.7,72.2 L589.2,69.3 L589.7,66.8 L590.2,65.0 L590.7,64.1 L591.2,65.8 L591.7,67.6 L592.2,69.5 L592.7,71.4 L593.2,73.6 L593.7,75.8 L594.2,78.3 L594.7,80.7 L595.2,83.2 L595.7,85.5 L596.2,87.8 L596.7,89.8 L597.2,91.8 L597.7,93.7 L598.2,95.8 L598.7,98.2 L599.2,101.1 L599.7,104.7 L600.2,108.7 L600.7,113.1 L601.2,117.8 L601.7,122.7 L602.2,128.4 L602.7,134.6 L603.2,141.3 L603.7,148.0 L604.2,154.3 L604.7,160.1 L605.2,165.6 L605.7,171.0 L606.2,176.2 L606.7,181.2 L607.2,186.1 L607.7,190.8 L608.2,195.1 L608.7,199.5 L609.2,203.6 L609.7,207.9 L610.2,211.8 L610.7,215.6 L611.2,219.2 L611.7,222.8 L612.2,226.1 L612.7,229.3 L613.2,232.3 L613.7,235.2 L614.2,238.0 L614.7,240.6 L615.2,243.2 L615.7,245.7 L616.2,248.2 L616.7,250.5 L617.2,252.7 L617.7,254.9 L618.2,257.0 L618.7,259.2 L619.2,261.2 L619.7,263.3 L620.2,265.3 L620.7,267.3 L621.2,269.2 L621.7,271.2 L622.2,272.9 L622.7,274.7 L623.2,276.4 L623.7,278.2 L624.2,279.9 L624.7,281.6 L625.2,283.2 L625.7,284.7 L626.2,286.0 L626.7,287.4 L627.2,288.8 L627.7,290.2 L628.2,291.6 L628.7,292.9 L629.2,294.0 L629.7,295.2 L630.2,296.1 L630.7,297.5 L631.2,298.5 L631.7,299.4 L632.2,299.8 L632.7,300.3 L633.2,300.7 L633.7,301.7 L634.2,302.1 L634.7,302.7 L635.2,303.1 L635.7,303.8 L636.2,304.2 L636.7,304.7 L637.2,304.7 L637.7,305.0 L638.2,305.1 L638.7,305.3 L639.2,305.5 L639.7,305.7 L640.2,306.3 L640.7,306.8 L641.2,307.0 L641.7,307.1 L642.2,307.0 L642.7,307.2 L643.2,307.3 L643.7,307.4 L644.2,307.9 L644.7,307.9 L645.2,307.9 L645.7,307.8 L646.2,307.7 L646.7,307.9 L647.2,307.4 L647.7,307.8 L648.2,308.1 L648.7,308.7 L649.2,308.8 L649.7,309.1 L650.2,309.0 L650.7,309.1 L651.2,308.9 L651.7,309.1 L652.2,309.3 L652.7,309.6 L653.2,309.6 L653.7,309.5 L654.2,309.5 L654.7,309.6 L655.2,309.7 L655.7,309.7 L656.2,309.7 L656.7,309.6 L657.2,309.9 L657.7,309.9 L658.2,310.2 L658.7,310.1 L659.2,310.4 L659.7,310.2 L660.2,310.1 L660.7,310.2 L661.2,310.4 L661.7,310.4 L662.2,310.2 L662.7,310.3 L663.2,310.5 L663.7,310.8 L664.2,310.7 L664.7,310.6 L665.2,310.6 L665.7,310.9 L666.2,310.7 L666.7,310.8 L667.2,310.6 L667.7,310.6 L668.2,310.6 L668.7,310.7 L669.2,310.9 L669.7,311.0 L670.2,310.9 L670.7,311.0 L671.2,311.1 L671.7,311.4 L672.2,311.7 L672.7,311.5 L673.2,311.4 L673.7,311.3 L674.2,311.6 L674.7,312.3 L675.2,312.4 L675.7,312.2 L676.2,312.0 L676.7,311.9 L677.2,311.9 L677.7,312.3 L678.2,312.6 L678.7,313.0 L679.2,312.8 L679.7,313.1 L680.2,313.2 L680.7,313.4 L681.2,313.1 L681.7,313.0 L682.2,313.2 L682.7,313.7 L683.2,314.1 L683.7,314.0 L684.2,314.0 L684.7,313.9 L685.2,314.3 L685.7,314.4 L686.2,314.7 L686.7,314.7 L687.2,314.9 L687.7,315.0 L688.2,315.2 L688.7,314.9 L689.2,315.1 L689.7,315.3 L690.2,315.6 L690.7,315.7 L691.2,315.8 L691.7,316.1 L692.2,316.3 L692.7,316.0 L693.2,316.1 L693.7,316.0 L694.2,316.3 L694.7,316.4 L695.2,316.7 L695.7,317.1 L696.2,317.7 L696.7,317.9 L697.2,318.0 L697.7,317.5 L698.2,317.5 L698.7,317.3 L699.2,317.5 L699.7,317.6 L700.2,317.8 L700.7,318.1 L701.2,318.3 L701.7,318.4 L702.2,318.3 L702.7,318.9 L703.2,319.2 L703.7,319.7 L704.2,319.9 L704.7,319.8 L705.2,319.9 L705.7,319.7 L706.2,320.5 L706.7,320.7 L707.2,321.1 L707.7,320.6 L708.2,320.8 L708.7,320.5 L709.2,320.7 L709.7,320.9 L710.2,321.5 L710.7,321.7 L711.2,321.8 L711.7,321.8 L712.2,322.1 L712.7,322.1 L713.2,322.2 L713.7,322.4 L714.2,322.4 L714.7,322.9 L715.2,322.7 L715.7,323.3 L716.2,323.1 L716.7,323.4 L717.2,323.0 L717.7,323.0 L718.2,323.1 L718.7,323.5 L719.2,323.6 L719.7,323.9 L720.2,323.8 L720.7,324.1 L721.2,324.0 L721.7,324.2 L722.2,324.1 L722.7,324.4 L723.2,324.6 L723.7,324.8 L724.2,324.5 L724.7,324.2 L725.2,324.2 L725.7,324.5 L726.2,325.0 L726.7,325.0 L727.2,324.9 L727.7,325.2 L728.2,325.4 L728.7,325.4 L729.2,325.4 L729.7,325.6 L730.2,325.8 L730.7,325.6 L731.2,325.4 L731.7,325.3 L732.2,325.4 L732.7,325.7 L733.2,325.9 L733.7,326.1 L734.2,326.3 L734.7,326.4 L735.2,326.2 L735.7,325.8 L736.2,325.7 L736.7,325.7 L737.2,326.1 L737.7,326.2 L738.2,326.3 L738.7,326.3 L739.2,326.4 L739.7,326.6 L740.2,326.8 L740.7,326.9 L741.2,326.8 L741.7,326.8 L742.2,326.8 L742.7,327.1 L743.2,327.3 L743.7,327.5 L744.2,327.6 L744.7,327.9 L745.2,327.6 L745.7,327.7 L746.2,327.5 L746.7,327.7 L747.2,327.4 L747.7,327.6 L748.2,327.7 L748.7,327.8 L749.2,327.8 L749.7,327.7 L750.2,327.5 L750.7,327.5 L751.2,327.8 L751.7,328.0" fill="none" stroke="#f5a31f" stroke-width="1.15" stroke-linejoin="round"/>
<path d="M553.2,328.3 L553.7,328.3 L554.2,328.3 L554.7,328.1 L555.2,327.9 L555.7,327.7 L556.2,327.6 L556.7,327.4 L557.2,327.0 L557.7,326.7 L558.2,326.5 L558.7,326.2 L559.2,325.8 L559.7,325.3 L560.2,324.9 L560.7,324.5 L561.2,323.9 L561.7,323.2 L562.2,322.4 L562.7,321.6 L563.2,320.8 L563.7,320.0 L564.2,319.1 L564.7,318.1 L565.2,316.9 L565.7,315.8 L566.2,314.6 L566.7,313.5 L567.2,312.5 L567.7,311.6 L568.2,310.8 L568.7,310.1 L569.2,309.6 L569.7,308.9 L570.2,308.4 L570.7,307.8 L571.2,307.3 L571.7,306.8 L572.2,306.1 L572.7,305.3 L573.2,304.4 L573.7,303.7 L574.2,302.9 L574.7,302.0 L575.2,300.5 L575.7,298.6 L576.2,296.4 L576.7,293.9 L577.2,291.1 L577.7,286.6 L578.2,279.8 L578.7,271.3 L579.2,261.6 L579.7,251.6 L580.2,241.6 L580.7,231.5 L581.2,220.4 L581.7,208.7 L582.2,196.8 L582.7,184.9 L583.2,173.2 L583.7,161.4 L584.2,149.0 L584.7,136.8 L585.2,125.0 L585.7,114.3 L586.2,104.8 L586.7,96.2 L587.2,87.9 L587.7,80.3 L588.2,73.6 L588.7,67.8 L589.2,63.4 L589.7,59.9 L590.2,56.7 L590.7,54.2 L591.2,52.2 L591.7,51.2 L592.2,53.0 L592.7,54.9 L593.2,56.9 L593.7,59.0 L594.2,61.0 L594.7,63.4 L595.2,65.8 L595.7,68.2 L596.2,70.7 L596.7,73.2 L597.2,75.7 L597.7,77.8 L598.2,79.7 L598.7,81.5 L599.2,83.4 L599.7,85.7 L600.2,88.4 L600.7,91.8 L601.2,95.5 L601.7,99.9 L602.2,104.5 L602.7,109.6 L603.2,114.8 L603.7,120.7 L604.2,127.2 L604.7,134.0 L605.2,140.8 L605.7,147.2 L606.2,153.1 L606.7,158.8 L607.2,164.3 L607.7,169.6 L608.2,174.8 L608.7,179.8 L609.2,184.5 L609.7,188.9 L610.2,193.3 L610.7,197.6 L611.2,201.9 L611.7,206.0 L612.2,209.9 L612.7,213.7 L613.2,217.4 L613.7,221.0 L614.2,224.3 L614.7,227.5 L615.2,230.5 L615.7,233.4 L616.2,236.2 L616.7,238.7 L617.2,241.3 L617.7,243.8 L618.2,246.3 L618.7,248.7 L619.2,251.1 L619.7,253.3 L620.2,255.4 L620.7,257.5 L621.2,259.6 L621.7,261.6 L622.2,263.6 L622.7,265.6 L623.2,267.6 L623.7,269.6 L624.2,271.4 L624.7,273.3 L625.2,275.0 L625.7,276.9 L626.2,278.5 L626.7,280.2 L627.2,281.8 L627.7,283.4 L628.2,284.9 L628.7,286.2 L629.2,287.6 L629.7,289.0 L630.2,290.5 L630.7,292.1 L631.2,293.4 L631.7,294.6 L632.2,295.7 L632.7,296.9 L633.2,297.8 L633.7,298.9 L634.2,299.4 L634.7,300.2 L635.2,300.8 L635.7,301.3 L636.2,302.4 L636.7,302.8 L637.2,303.3 L637.7,303.6 L638.2,304.2 L638.7,304.4 L639.2,304.7 L639.7,304.9 L640.2,305.5 L640.7,305.8 L641.2,306.3 L641.7,306.6 L642.2,306.6 L642.7,306.6 L643.2,306.7 L643.7,307.0 L644.2,307.1 L644.7,307.2 L645.2,307.2 L645.7,307.6 L646.2,308.0 L646.7,308.3 L647.2,308.2 L647.7,308.1 L648.2,308.4 L648.7,308.6 L649.2,308.7 L649.7,308.6 L650.2,308.6 L650.7,308.6 L651.2,309.0 L651.7,309.0 L652.2,309.4 L652.7,309.4 L653.2,309.9 L653.7,310.0 L654.2,310.3 L654.7,310.0 L655.2,310.3 L655.7,310.3 L656.2,310.5 L656.7,310.6 L657.2,310.9 L657.7,310.7 L658.2,310.9 L658.7,310.7 L659.2,311.2 L659.7,310.9 L660.2,311.0 L660.7,310.5 L661.2,311.2 L661.7,311.2 L662.2,311.6 L662.7,311.3 L663.2,311.1 L663.7,311.1 L664.2,311.3 L664.7,311.7 L665.2,311.9 L665.7,311.8 L666.2,311.9 L666.7,311.7 L667.2,311.9 L667.7,312.2 L668.2,312.4 L668.7,312.5 L669.2,312.3 L669.7,312.2 L670.2,312.3 L670.7,312.3 L671.2,312.3 L671.7,312.3 L672.2,312.4 L672.7,312.8 L673.2,312.5 L673.7,312.8 L674.2,312.7 L674.7,313.1 L675.2,313.0 L675.7,313.0 L676.2,313.5 L676.7,313.5 L677.2,313.3 L677.7,313.3 L678.2,313.8 L678.7,314.2 L679.2,313.7 L679.7,313.8 L680.2,313.8 L680.7,314.4 L681.2,314.3 L681.7,314.6 L682.2,314.5 L682.7,314.8 L683.2,315.1 L683.7,314.9 L684.2,314.6 L684.7,314.8 L685.2,315.1 L685.7,315.2 L686.2,315.0 L686.7,315.1 L687.2,315.3 L687.7,315.3 L688.2,315.4 L688.7,315.6 L689.2,315.9 L689.7,316.0 L690.2,316.1 L690.7,316.2 L691.2,316.6 L691.7,316.9 L692.2,317.0 L692.7,317.0 L693.2,317.1 L693.7,317.3 L694.2,317.4 L694.7,317.8 L695.2,318.0 L695.7,318.1 L696.2,317.9 L696.7,318.0 L697.2,318.3 L697.7,318.5 L698.2,318.3 L698.7,318.0 L699.2,318.2 L699.7,318.6 L700.2,319.2 L700.7,319.0 L701.2,319.3 L701.7,319.2 L702.2,319.6 L702.7,319.6 L703.2,319.8 L703.7,319.9 L704.2,319.7 L704.7,319.7 L705.2,319.7 L705.7,320.1 L706.2,320.4 L706.7,321.1 L707.2,321.2 L707.7,321.3 L708.2,321.3 L708.7,321.4 L709.2,321.7 L709.7,321.9 L710.2,322.0 L710.7,321.9 L711.2,322.0 L711.7,322.2 L712.2,322.6 L712.7,323.0 L713.2,323.1 L713.7,322.9 L714.2,322.4 L714.7,322.5 L715.2,322.7 L715.7,322.8 L716.2,323.1 L716.7,323.3 L717.2,323.6 L717.7,323.6 L718.2,323.5 L718.7,323.7 L719.2,323.6 L719.7,323.8 L720.2,324.2 L720.7,324.5 L721.2,324.7 L721.7,324.6 L722.2,324.4 L722.7,324.5 L723.2,324.7 L723.7,324.8 L724.2,324.9 L724.7,325.0 L725.2,325.4 L725.7,325.3 L726.2,325.0 L726.7,324.7 L727.2,325.1 L727.7,325.4 L728.2,325.7 L728.7,325.6 L729.2,325.5 L729.7,325.5 L730.2,325.6 L730.7,325.8 L731.2,325.8 L731.7,325.9 L732.2,326.2 L732.7,326.2 L733.2,325.8 L733.7,325.7 L734.2,326.0 L734.7,326.3 L735.2,326.3 L735.7,326.3 L736.2,326.5 L736.7,326.6 L737.2,326.8 L737.7,326.5 L738.2,326.6 L738.7,326.7 L739.2,326.7 L739.7,326.5 L740.2,326.5 L740.7,326.9 L741.2,327.2 L741.7,327.4 L742.2,327.2 L742.7,327.2 L743.2,326.9 L743.7,326.9 L744.2,327.2 L744.7,327.6 L745.2,327.8 L745.7,327.7 L746.2,327.7 L746.7,327.6 L747.2,327.6 L747.7,327.8 L748.2,327.8 L748.7,327.8 L749.2,327.8 L749.7,327.7 L750.2,327.7 L750.7,327.5 L751.2,327.9 L751.7,327.9" fill="none" stroke="#ff7a1a" stroke-width="1.15" stroke-linejoin="round"/>
<path d="M553.2,328.6 L553.7,328.5 L554.2,328.4 L554.7,328.3 L555.2,328.1 L555.7,328.0 L556.2,327.8 L556.7,327.7 L557.2,327.5 L557.7,327.3 L558.2,327.0 L558.7,326.7 L559.2,326.4 L559.7,326.1 L560.2,325.8 L560.7,325.4 L561.2,325.0 L561.7,324.4 L562.2,323.8 L562.7,323.0 L563.2,322.2 L563.7,321.4 L564.2,320.6 L564.7,319.7 L565.2,318.5 L565.7,317.2 L566.2,315.9 L566.7,314.8 L567.2,313.6 L567.7,312.5 L568.2,311.7 L568.7,310.8 L569.2,310.2 L569.7,309.5 L570.2,309.0 L570.7,308.4 L571.2,307.8 L571.7,307.1 L572.2,306.4 L572.7,305.7 L573.2,305.1 L573.7,304.4 L574.2,303.7 L574.7,303.1 L575.2,302.8 L575.7,302.3 L576.2,301.1 L576.7,299.4 L577.2,297.3 L577.7,294.8 L578.2,292.0 L578.7,288.0 L579.2,281.4 L579.7,273.0 L580.2,263.4 L580.7,253.1 L581.2,242.8 L581.7,232.6 L582.2,221.5 L582.7,209.7 L583.2,197.5 L583.7,185.3 L584.2,173.2 L584.7,161.2 L585.2,148.8 L585.7,136.3 L586.2,124.2 L586.7,112.9 L587.2,102.9 L587.7,94.1 L588.2,85.5 L588.7,77.5 L589.2,70.3 L589.7,64.1 L590.2,59.3 L590.7,55.6 L591.2,52.2 L591.7,49.3 L592.2,47.2 L592.7,46.0 L593.2,47.4 L593.7,49.2 L594.2,51.2 L594.7,53.2 L595.2,55.3 L595.7,57.6 L596.2,60.1 L596.7,62.6 L597.2,65.0 L597.7,67.4 L598.2,69.7 L598.7,72.0 L599.2,73.9 L599.7,75.9 L600.2,77.8 L600.7,79.9 L601.2,82.3 L601.7,85.4 L602.2,88.9 L602.7,93.0 L603.2,97.4 L603.7,102.2 L604.2,107.2 L604.7,112.7 L605.2,118.9 L605.7,125.6 L606.2,132.5 L606.7,139.3 L607.2,145.5 L607.7,151.3 L608.2,156.9 L608.7,162.4 L609.2,167.7 L609.7,172.9 L610.2,177.9 L610.7,182.6 L611.2,187.0 L611.7,191.4 L612.2,195.7 L612.7,200.1 L613.2,204.3 L613.7,208.1 L614.2,211.9 L614.7,215.5 L615.2,219.0 L615.7,222.5 L616.2,225.7 L616.7,228.6 L617.2,231.5 L617.7,234.3 L618.2,237.0 L618.7,239.6 L619.2,242.3 L619.7,244.8 L620.2,247.2 L620.7,249.4 L621.2,251.6 L621.7,253.6 L622.2,255.9 L622.7,258.0 L623.2,260.3 L623.7,262.3 L624.2,264.4 L624.7,266.2 L625.2,268.2 L625.7,270.1 L626.2,272.0 L626.7,273.7 L627.2,275.6 L627.7,277.4 L628.2,279.1 L628.7,280.7 L629.2,282.3 L629.7,283.9 L630.2,285.3 L630.7,287.0 L631.2,288.2 L631.7,289.7 L632.2,291.3 L632.7,292.3 L633.2,293.5 L633.7,294.5 L634.2,296.2 L634.7,297.3 L635.2,298.4 L635.7,299.0 L636.2,300.0 L636.7,300.8 L637.2,301.6 L637.7,302.1 L638.2,302.4 L638.7,303.1 L639.2,303.7 L639.7,304.4 L640.2,304.8 L640.7,304.7 L641.2,304.9 L641.7,304.9 L642.2,305.5 L642.7,306.0 L643.2,306.5 L643.7,306.8 L644.2,307.2 L644.7,307.3 L645.2,307.2 L645.7,307.1 L646.2,307.6 L646.7,307.7 L647.2,308.0 L647.7,308.1 L648.2,308.6 L648.7,308.7 L649.2,308.4 L649.7,308.6 L650.2,309.0 L650.7,309.1 L651.2,309.3 L651.7,309.3 L652.2,309.8 L652.7,310.0 L653.2,310.1 L653.7,309.9 L654.2,309.9 L654.7,310.4 L655.2,310.9 L655.7,311.1 L656.2,311.4 L656.7,311.3 L657.2,311.6 L657.7,311.2 L658.2,311.4 L658.7,311.4 L659.2,311.9 L659.7,311.9 L660.2,312.0 L660.7,311.6 L661.2,311.9 L661.7,311.9 L662.2,312.4 L662.7,312.3 L663.2,312.4 L663.7,312.4 L664.2,312.7 L664.7,312.9 L665.2,312.9 L665.7,312.8 L666.2,312.7 L666.7,312.8 L667.2,313.1 L667.7,313.5 L668.2,313.1 L668.7,312.9 L669.2,312.5 L669.7,312.8 L670.2,313.2 L670.7,313.7 L671.2,313.9 L671.7,313.9 L672.2,314.0 L672.7,314.1 L673.2,314.3 L673.7,314.2 L674.2,313.9 L674.7,313.9 L675.2,314.2 L675.7,314.5 L676.2,314.6 L676.7,314.5 L677.2,314.5 L677.7,314.8 L678.2,314.9 L678.7,314.9 L679.2,314.3 L679.7,314.3 L680.2,314.3 L680.7,314.5 L681.2,314.8 L681.7,315.3 L682.2,315.4 L682.7,315.6 L683.2,315.6 L683.7,315.8 L684.2,315.8 L684.7,315.6 L685.2,315.7 L685.7,315.6 L686.2,315.7 L686.7,316.1 L687.2,316.2 L687.7,316.3 L688.2,316.1 L688.7,316.5 L689.2,316.7 L689.7,317.1 L690.2,317.0 L690.7,316.9 L691.2,316.8 L691.7,317.1 L692.2,317.5 L692.7,317.8 L693.2,318.1 L693.7,318.1 L694.2,318.2 L694.7,318.2 L695.2,318.3 L695.7,318.3 L696.2,318.0 L696.7,318.4 L697.2,318.8 L697.7,319.1 L698.2,319.1 L698.7,319.2 L699.2,319.5 L699.7,319.4 L700.2,319.4 L700.7,319.5 L701.2,320.0 L701.7,320.0 L702.2,320.1 L702.7,319.9 L703.2,319.9 L703.7,320.2 L704.2,320.4 L704.7,320.8 L705.2,320.8 L705.7,320.9 L706.2,321.0 L706.7,321.0 L707.2,321.3 L707.7,321.4 L708.2,321.9 L708.7,321.8 L709.2,322.0 L709.7,321.8 L710.2,322.1 L710.7,322.2 L711.2,322.6 L711.7,322.8 L712.2,323.0 L712.7,323.1 L713.2,323.2 L713.7,323.4 L714.2,323.4 L714.7,323.5 L715.2,323.4 L715.7,323.5 L716.2,323.5 L716.7,323.7 L717.2,324.0 L717.7,324.4 L718.2,324.4 L718.7,324.1 L719.2,324.0 L719.7,324.1 L720.2,324.5 L720.7,324.5 L721.2,324.7 L721.7,324.9 L722.2,324.9 L722.7,324.9 L723.2,325.1 L723.7,325.5 L724.2,325.7 L724.7,325.6 L725.2,325.2 L725.7,325.2 L726.2,325.3 L726.7,325.7 L727.2,325.6 L727.7,325.6 L728.2,325.5 L728.7,325.8 L729.2,326.1 L729.7,326.2 L730.2,325.9 L730.7,325.6 L731.2,325.4 L731.7,325.7 L732.2,326.0 L732.7,326.3 L733.2,326.4 L733.7,326.4 L734.2,326.3 L734.7,326.2 L735.2,326.0 L735.7,326.1 L736.2,326.6 L736.7,326.7 L737.2,327.0 L737.7,327.0 L738.2,327.2 L738.7,327.0 L739.2,326.8 L739.7,326.9 L740.2,327.1 L740.7,327.2 L741.2,327.5 L741.7,327.6 L742.2,327.7 L742.7,327.7 L743.2,327.5 L743.7,327.5 L744.2,327.2 L744.7,327.5 L745.2,327.5 L745.7,327.6 L746.2,327.8 L746.7,327.6 L747.2,327.6 L747.7,327.4 L748.2,327.4 L748.7,327.4 L749.2,327.2 L749.7,327.3 L750.2,327.5 L750.7,327.7 L751.2,328.0 L751.7,328.1" fill="none" stroke="#ff3a2f" stroke-width="1.15" stroke-linejoin="round"/>
<defs><linearGradient id="agb" x1="0" y1="0" x2="0" y2="1"><stop offset="0" stop-color="#111"/><stop offset="0.35" stop-color="#444"/><stop offset="0.75" stop-color="#aaa"/><stop offset="1" stop-color="#fff" stop-opacity="0"/></linearGradient></defs>
<path d="M580.3,63 L584.2,63 L577.0,166 L573.2,166 Z" fill="url(#agb)"/>
<path d="M583.8,47.2 L590,67.5 L582.4,61.5 L573.8,66 Z" fill="#111"/>
<rect x="552.7" y="22.5" width="199.5" height="310.5" fill="none" stroke="#000" stroke-width="1.7"/>
<line x1="552.7" y1="333.0" x2="552.7" y2="335.8" stroke="#000" stroke-width="1.4"/>
<line x1="574.9" y1="333.0" x2="574.9" y2="337.5" stroke="#000" stroke-width="1.4"/>
<line x1="597.0" y1="333.0" x2="597.0" y2="335.8" stroke="#000" stroke-width="1.4"/>
<line x1="619.2" y1="333.0" x2="619.2" y2="337.5" stroke="#000" stroke-width="1.4"/>
<line x1="641.4" y1="333.0" x2="641.4" y2="335.8" stroke="#000" stroke-width="1.4"/>
<line x1="663.5" y1="333.0" x2="663.5" y2="337.5" stroke="#000" stroke-width="1.4"/>
<line x1="685.7" y1="333.0" x2="685.7" y2="335.8" stroke="#000" stroke-width="1.4"/>
<line x1="707.9" y1="333.0" x2="707.9" y2="337.5" stroke="#000" stroke-width="1.4"/>
<line x1="730.0" y1="333.0" x2="730.0" y2="335.8" stroke="#000" stroke-width="1.4"/>
<line x1="752.2" y1="333.0" x2="752.2" y2="337.5" stroke="#000" stroke-width="1.4"/>
<text x="574.9" y="354.6" font-size="13.7" font-weight="normal" text-anchor="middle" fill="#000" >400</text>
<text x="619.2" y="354.6" font-size="13.7" font-weight="normal" text-anchor="middle" fill="#000" >500</text>
<text x="663.5" y="354.6" font-size="13.7" font-weight="normal" text-anchor="middle" fill="#000" >600</text>
<text x="707.9" y="354.6" font-size="13.7" font-weight="normal" text-anchor="middle" fill="#000" >700</text>
<text x="752.2" y="354.6" font-size="13.7" font-weight="normal" text-anchor="middle" fill="#000" >800</text>
<text x="652.8" y="376.2" font-size="18.3" font-weight="bold" text-anchor="middle" fill="#000" >Wavelength / nm</text>
<text transform="translate(537.0,174.5) rotate(-90)" font-size="17.8" font-weight="bold" text-anchor="middle">Intensity</text>
<line x1="651" y1="44.0" x2="680.5" y2="44.0" stroke="#0b5a2a" stroke-width="1.2"/>
<text x="683.3" y="48.6" font-size="12.95" font-weight="normal" text-anchor="start" fill="#000" >0.01 GPa</text>
<line x1="651" y1="60.0" x2="680.5" y2="60.0" stroke="#9db526" stroke-width="1.2"/>
<text x="683.3" y="64.6" font-size="12.95" font-weight="normal" text-anchor="start" fill="#000" >1.07 GPa</text>
<line x1="651" y1="76.0" x2="680.5" y2="76.0" stroke="#f0c419" stroke-width="1.2"/>
<text x="683.3" y="80.6" font-size="12.95" font-weight="normal" text-anchor="start" fill="#000" >1.52 GPa</text>
<line x1="651" y1="92.0" x2="680.5" y2="92.0" stroke="#f5a31f" stroke-width="1.2"/>
<text x="683.3" y="96.6" font-size="12.95" font-weight="normal" text-anchor="start" fill="#000" >2.06 GPa</text>
<line x1="651" y1="108.0" x2="680.5" y2="108.0" stroke="#ff7a1a" stroke-width="1.2"/>
<text x="683.3" y="112.6" font-size="12.95" font-weight="normal" text-anchor="start" fill="#000" >2.57 GPa</text>
<line x1="651" y1="124.0" x2="680.5" y2="124.0" stroke="#ff3a2f" stroke-width="1.2"/>
<text x="683.3" y="128.6" font-size="12.95" font-weight="normal" text-anchor="start" fill="#000" >3.20 GPa</text>
<path d="M553.2,700.3 L553.7,700.4 L554.2,700.3 L554.7,700.2 L555.2,700.2 L555.7,700.1 L556.2,700.0 L556.7,699.9 L557.2,699.9 L557.7,700.0 L558.2,699.9 L558.7,699.9 L559.2,699.9 L559.7,699.9 L560.2,699.7 L560.7,699.5 L561.2,699.4 L561.7,699.3 L562.2,699.1 L562.7,698.9 L563.2,698.6 L563.7,698.5 L564.2,698.3 L564.7,698.2 L565.2,698.0 L565.7,697.7 L566.2,697.4 L566.7,697.0 L567.2,696.6 L567.7,696.2 L568.2,695.8 L568.7,695.5 L569.2,695.2 L569.7,694.9 L570.2,694.3 L570.7,693.8 L571.2,693.4 L571.7,693.1 L572.2,692.7 L572.7,692.4 L573.2,691.9 L573.7,691.6 L574.2,691.3 L574.7,691.0 L575.2,690.7 L575.7,690.6 L576.2,690.4 L576.7,690.2 L577.2,689.8 L577.7,689.4 L578.2,688.8 L578.7,687.8 L579.2,686.0 L579.7,683.5 L580.2,680.3 L580.7,676.7 L581.2,670.6 L581.7,661.0 L582.2,649.0 L582.7,635.7 L583.2,622.7 L583.7,609.0 L584.2,594.3 L584.7,578.6 L585.2,562.9 L585.7,547.7 L586.2,531.9 L586.7,515.7 L587.2,499.9 L587.7,485.5 L588.2,473.4 L588.7,462.3 L589.2,451.9 L589.7,442.5 L590.2,435.2 L590.7,429.9 L591.2,425.4 L591.7,421.4 L592.2,418.8 L592.7,418.2 L593.2,419.8 L593.7,421.5 L594.2,423.2 L594.7,424.9 L595.2,426.7 L595.7,428.5 L596.2,430.4 L596.7,432.5 L597.2,434.7 L597.7,436.8 L598.2,438.9 L598.7,441.0 L599.2,443.1 L599.7,444.9 L600.2,446.6 L600.7,448.1 L601.2,449.7 L601.7,451.3 L602.2,453.1 L602.7,455.2 L603.2,457.6 L603.7,460.4 L604.2,463.7 L604.7,467.1 L605.2,470.9 L605.7,475.0 L606.2,479.1 L606.7,483.4 L607.2,488.1 L607.7,493.6 L608.2,499.3 L608.7,505.2 L609.2,511.1 L609.7,516.9 L610.2,522.2 L610.7,527.1 L611.2,531.9 L611.7,536.7 L612.2,541.3 L612.7,545.8 L613.2,550.2 L613.7,554.5 L614.2,558.7 L614.7,562.6 L615.2,566.3 L615.7,570.1 L616.2,573.7 L616.7,577.3 L617.2,580.9 L617.7,584.3 L618.2,587.7 L618.7,590.9 L619.2,594.1 L619.7,597.0 L620.2,600.0 L620.7,602.7 L621.2,605.5 L621.7,608.1 L622.2,610.5 L622.7,612.8 L623.2,615.1 L623.7,617.3 L624.2,619.5 L624.7,621.7 L625.2,623.8 L625.7,625.8 L626.2,627.8 L626.7,629.7 L627.2,631.7 L627.7,633.5 L628.2,635.4 L628.7,637.3 L629.2,639.0 L629.7,640.6 L630.2,642.3 L630.7,644.0 L631.2,645.8 L631.7,647.4 L632.2,649.1 L632.7,650.6 L633.2,652.1 L633.7,653.6 L634.2,655.2 L634.7,656.8 L635.2,658.3 L635.7,659.6 L636.2,661.1 L636.7,662.5 L637.2,663.7 L637.7,665.0 L638.2,666.3 L638.7,667.5 L639.2,668.7 L639.7,669.8 L640.2,670.9 L640.7,672.0 L641.2,673.1 L641.7,674.2 L642.2,675.3 L642.7,676.3 L643.2,677.3 L643.7,678.3 L644.2,679.0 L644.7,679.8 L645.2,680.4 L645.7,681.0 L646.2,681.5 L646.7,682.1 L647.2,682.7 L647.7,683.2 L648.2,683.5 L648.7,683.9 L649.2,684.3 L649.7,684.8 L650.2,685.5 L650.7,685.5 L651.2,685.6 L651.7,685.9 L652.2,686.1 L652.7,686.8 L653.2,687.1 L653.7,687.4 L654.2,687.4 L654.7,687.4 L655.2,687.5 L655.7,687.8 L656.2,687.9 L656.7,688.2 L657.2,688.0 L657.7,688.3 L658.2,688.3 L658.7,688.4 L659.2,688.3 L659.7,688.2 L660.2,688.5 L660.7,688.6 L661.2,689.0 L661.7,689.4 L662.2,689.7 L662.7,689.4 L663.2,689.1 L663.7,689.3 L664.2,689.7 L664.7,690.0 L665.2,690.0 L665.7,690.3 L666.2,690.1 L666.7,690.0 L667.2,690.0 L667.7,690.2 L668.2,690.4 L668.7,690.7 L669.2,690.9 L669.7,691.0 L670.2,691.0 L670.7,690.8 L671.2,690.7 L671.7,690.6 L672.2,690.9 L672.7,690.9 L673.2,691.2 L673.7,691.3 L674.2,691.7 L674.7,691.7 L675.2,691.6 L675.7,691.5 L676.2,691.3 L676.7,691.9 L677.2,692.0 L677.7,692.0 L678.2,691.8 L678.7,691.9 L679.2,691.9 L679.7,692.3 L680.2,692.3 L680.7,692.4 L681.2,692.3 L681.7,692.1 L682.2,692.4 L682.7,692.3 L683.2,692.6 L683.7,692.2 L684.2,692.3 L684.7,692.4 L685.2,692.4 L685.7,692.7 L686.2,692.7 L686.7,692.8 L687.2,692.4 L687.7,692.6 L688.2,692.9 L688.7,693.0 L689.2,693.2 L689.7,693.3 L690.2,693.0 L690.7,692.6 L691.2,692.2 L691.7,692.6 L692.2,693.0 L692.7,693.2 L693.2,693.2 L693.7,693.0 L694.2,693.2 L694.7,693.2 L695.2,693.2 L695.7,693.2 L696.2,693.1 L696.7,693.3 L697.2,693.4 L697.7,693.8 L698.2,693.7 L698.7,693.4 L699.2,693.2 L699.7,693.5 L700.2,693.7 L700.7,694.0 L701.2,694.2 L701.7,694.6 L702.2,694.4 L702.7,694.1 L703.2,694.2 L703.7,694.4 L704.2,694.8 L704.7,695.0 L705.2,695.0 L705.7,694.8 L706.2,694.5 L706.7,694.6 L707.2,694.6 L707.7,694.7 L708.2,694.9 L708.7,695.1 L709.2,695.1 L709.7,695.0 L710.2,694.9 L710.7,695.1 L711.2,694.8 L711.7,695.0 L712.2,695.0 L712.7,695.2 L713.2,695.4 L713.7,695.7 L714.2,696.0 L714.7,695.9 L715.2,695.6 L715.7,695.8 L716.2,695.9 L716.7,696.2 L717.2,696.4 L717.7,696.7 L718.2,697.0 L718.7,696.7 L719.2,696.4 L719.7,696.3 L720.2,696.4 L720.7,696.5 L721.2,696.8 L721.7,696.8 L722.2,697.1 L722.7,696.7 L723.2,696.8 L723.7,696.8 L724.2,697.0 L724.7,697.1 L725.2,696.8 L725.7,697.1 L726.2,696.9 L726.7,696.9 L727.2,696.6 L727.7,696.8 L728.2,697.3 L728.7,697.4 L729.2,697.6 L729.7,697.4 L730.2,698.1 L730.7,698.2 L731.2,698.7 L731.7,698.1 L732.2,698.1 L732.7,697.6 L733.2,698.0 L733.7,698.1 L734.2,698.1 L734.7,697.8 L735.2,697.5 L735.7,697.6 L736.2,697.7 L736.7,697.8 L737.2,697.9 L737.7,698.0 L738.2,698.2 L738.7,698.3 L739.2,698.4 L739.7,698.4 L740.2,698.6 L740.7,698.4 L741.2,698.6 L741.7,698.9 L742.2,699.1 L742.7,699.0 L743.2,699.2 L743.7,699.5 L744.2,699.5 L744.7,699.1 L745.2,699.0 L745.7,699.1 L746.2,699.2 L746.7,699.0 L747.2,699.1 L747.7,699.1 L748.2,698.8 L748.7,698.9 L749.2,698.6 L749.7,699.3 L750.2,699.6 L750.7,700.1 L751.2,699.8 L751.7,699.6" fill="none" stroke="#ff1f8f" stroke-width="1.15" stroke-linejoin="round"/>
<path d="M553.2,700.2 L553.7,700.2 L554.2,700.2 L554.7,700.2 L555.2,700.0 L555.7,699.8 L556.2,699.7 L556.7,699.8 L557.2,699.8 L557.7,699.8 L558.2,699.7 L558.7,699.7 L559.2,699.5 L559.7,699.3 L560.2,699.2 L560.7,699.1 L561.2,698.9 L561.7,698.7 L562.2,698.5 L562.7,698.3 L563.2,698.1 L563.7,698.0 L564.2,697.7 L564.7,697.5 L565.2,697.2 L565.7,696.9 L566.2,696.5 L566.7,696.2 L567.2,695.9 L567.7,695.5 L568.2,695.0 L568.7,694.8 L569.2,694.4 L569.7,694.0 L570.2,693.5 L570.7,693.2 L571.2,692.8 L571.7,692.4 L572.2,692.2 L572.7,691.9 L573.2,691.6 L573.7,691.3 L574.2,691.0 L574.7,690.8 L575.2,690.6 L575.7,690.5 L576.2,690.3 L576.7,690.0 L577.2,689.5 L577.7,689.0 L578.2,688.2 L578.7,686.8 L579.2,684.6 L579.7,682.0 L580.2,678.7 L580.7,674.6 L581.2,667.2 L581.7,657.3 L582.2,645.6 L582.7,633.4 L583.2,621.6 L583.7,608.9 L584.2,595.3 L584.7,580.9 L585.2,566.5 L585.7,552.2 L586.2,538.0 L586.7,523.1 L587.2,508.4 L587.7,494.5 L588.2,482.3 L588.7,471.8 L589.2,461.8 L589.7,452.4 L590.2,444.2 L590.7,437.5 L591.2,432.8 L591.7,428.8 L592.2,425.4 L592.7,422.8 L593.2,421.6 L593.7,423.2 L594.2,424.8 L594.7,426.3 L595.2,427.9 L595.7,429.6 L596.2,431.3 L596.7,433.2 L597.2,435.2 L597.7,437.2 L598.2,439.2 L598.7,441.3 L599.2,443.4 L599.7,445.4 L600.2,447.3 L600.7,449.0 L601.2,450.5 L601.7,452.0 L602.2,453.6 L602.7,455.3 L603.2,457.1 L603.7,459.2 L604.2,461.6 L604.7,464.7 L605.2,467.8 L605.7,471.4 L606.2,475.1 L606.7,479.1 L607.2,483.1 L607.7,487.4 L608.2,492.2 L608.7,497.7 L609.2,503.3 L609.7,509.2 L610.2,514.9 L610.7,520.3 L611.2,525.3 L611.7,530.0 L612.2,534.8 L612.7,539.5 L613.2,544.0 L613.7,548.4 L614.2,552.5 L614.7,556.6 L615.2,560.6 L615.7,564.4 L616.2,568.1 L616.7,571.7 L617.2,575.3 L617.7,578.6 L618.2,582.0 L618.7,585.4 L619.2,588.8 L619.7,592.0 L620.2,595.0 L620.7,598.0 L621.2,600.9 L621.7,603.5 L622.2,606.2 L622.7,608.6 L623.2,611.1 L623.7,613.4 L624.2,615.7 L624.7,617.8 L625.2,620.0 L625.7,622.0 L626.2,624.0 L626.7,625.9 L627.2,627.9 L627.7,629.9 L628.2,631.7 L628.7,633.6 L629.2,635.3 L629.7,637.2 L630.2,638.9 L630.7,640.6 L631.2,642.1 L631.7,643.8 L632.2,645.5 L632.7,647.1 L633.2,648.8 L633.7,650.4 L634.2,651.9 L634.7,653.4 L635.2,654.9 L635.7,656.4 L636.2,657.8 L636.7,659.2 L637.2,660.6 L637.7,661.8 L638.2,663.0 L638.7,664.2 L639.2,665.4 L639.7,666.6 L640.2,667.8 L640.7,669.0 L641.2,670.1 L641.7,671.3 L642.2,672.5 L642.7,673.6 L643.2,674.7 L643.7,675.7 L644.2,676.6 L644.7,677.6 L645.2,678.3 L645.7,679.2 L646.2,679.7 L646.7,680.4 L647.2,681.0 L647.7,681.5 L648.2,682.1 L648.7,682.7 L649.2,683.1 L649.7,683.6 L650.2,684.0 L650.7,684.4 L651.2,684.3 L651.7,684.4 L652.2,684.4 L652.7,685.2 L653.2,685.6 L653.7,686.2 L654.2,686.4 L654.7,686.8 L655.2,687.2 L655.7,687.5 L656.2,687.8 L656.7,688.1 L657.2,688.1 L657.7,688.0 L658.2,687.9 L658.7,687.8 L659.2,687.8 L659.7,687.6 L660.2,688.0 L660.7,688.3 L661.2,688.6 L661.7,688.3 L662.2,688.5 L662.7,688.6 L663.2,688.8 L663.7,688.7 L664.2,688.6 L664.7,688.6 L665.2,688.9 L665.7,689.6 L666.2,690.1 L666.7,690.6 L667.2,690.5 L667.7,690.4 L668.2,690.0 L668.7,689.9 L669.2,689.7 L669.7,689.9 L670.2,690.3 L670.7,690.9 L671.2,691.1 L671.7,691.0 L672.2,690.7 L672.7,690.7 L673.2,690.7 L673.7,691.2 L674.2,691.7 L674.7,691.7 L675.2,691.5 L675.7,691.3 L676.2,691.4 L676.7,691.4 L677.2,691.5 L677.7,691.7 L678.2,691.9 L678.7,691.8 L679.2,691.8 L679.7,691.5 L680.2,691.8 L680.7,691.6 L681.2,691.9 L681.7,691.7 L682.2,691.9 L682.7,691.9 L683.2,691.7 L683.7,692.1 L684.2,692.2 L684.7,692.5 L685.2,692.5 L685.7,692.5 L686.2,692.7 L686.7,692.3 L687.2,692.6 L687.7,692.7 L688.2,692.8 L688.7,692.7 L689.2,692.7 L689.7,693.0 L690.2,692.7 L690.7,692.6 L691.2,692.5 L691.7,692.7 L692.2,692.4 L692.7,692.6 L693.2,692.6 L693.7,693.1 L694.2,692.8 L694.7,692.8 L695.2,692.7 L695.7,692.7 L696.2,692.9 L696.7,693.0 L697.2,693.5 L697.7,693.6 L698.2,693.7 L698.7,694.0 L699.2,694.2 L699.7,694.0 L700.2,693.6 L700.7,693.4 L701.2,693.6 L701.7,693.7 L702.2,693.7 L702.7,694.1 L703.2,694.2 L703.7,694.6 L704.2,694.4 L704.7,694.5 L705.2,694.8 L705.7,694.9 L706.2,695.2 L706.7,694.5 L707.2,694.6 L707.7,694.6 L708.2,695.5 L708.7,695.5 L709.2,695.1 L709.7,694.8 L710.2,694.8 L710.7,694.9 L711.2,694.8 L711.7,695.1 L712.2,695.7 L712.7,696.0 L713.2,695.8 L713.7,696.0 L714.2,695.7 L714.7,695.9 L715.2,695.4 L715.7,695.8 L716.2,695.9 L716.7,696.4 L717.2,696.3 L717.7,696.3 L718.2,696.3 L718.7,696.1 L719.2,696.2 L719.7,696.4 L720.2,696.8 L720.7,696.7 L721.2,696.6 L721.7,696.9 L722.2,697.1 L722.7,697.2 L723.2,696.9 L723.7,696.6 L724.2,696.6 L724.7,696.7 L725.2,697.1 L725.7,697.2 L726.2,697.3 L726.7,697.4 L727.2,697.6 L727.7,697.7 L728.2,697.7 L728.7,697.7 L729.2,697.7 L729.7,697.4 L730.2,697.7 L730.7,697.4 L731.2,697.8 L731.7,697.7 L732.2,698.2 L732.7,698.2 L733.2,698.0 L733.7,698.0 L734.2,698.1 L734.7,698.4 L735.2,698.1 L735.7,698.3 L736.2,698.5 L736.7,698.6 L737.2,698.4 L737.7,698.3 L738.2,698.3 L738.7,698.9 L739.2,699.0 L739.7,699.0 L740.2,698.9 L740.7,698.8 L741.2,698.9 L741.7,698.8 L742.2,698.5 L742.7,698.7 L743.2,698.8 L743.7,699.1 L744.2,698.8 L744.7,698.8 L745.2,699.0 L745.7,699.1 L746.2,698.9 L746.7,698.8 L747.2,698.7 L747.7,698.7 L748.2,698.7 L748.7,698.7 L749.2,699.0 L749.7,698.9 L750.2,699.1 L750.7,699.2 L751.2,699.3 L751.7,699.3" fill="none" stroke="#ff2d2d" stroke-width="1.15" stroke-linejoin="round"/>
<path d="M553.2,700.1 L553.7,700.0 L554.2,699.9 L554.7,699.8 L555.2,699.9 L555.7,699.9 L556.2,699.9 L556.7,699.6 L557.2,699.5 L557.7,699.4 L558.2,699.4 L558.7,699.2 L559.2,699.0 L559.7,698.9 L560.2,698.8 L560.7,698.6 L561.2,698.4 L561.7,698.2 L562.2,697.9 L562.7,697.7 L563.2,697.4 L563.7,697.1 L564.2,696.9 L564.7,696.5 L565.2,696.3 L565.7,696.0 L566.2,695.7 L566.7,695.4 L567.2,695.2 L567.7,694.9 L568.2,694.5 L568.7,694.1 L569.2,693.7 L569.7,693.4 L570.2,693.0 L570.7,692.7 L571.2,692.4 L571.7,692.2 L572.2,691.9 L572.7,691.5 L573.2,691.2 L573.7,691.1 L574.2,691.0 L574.7,690.8 L575.2,690.6 L575.7,690.3 L576.2,690.0 L576.7,689.6 L577.2,689.2 L577.7,688.5 L578.2,687.3 L578.7,685.6 L579.2,683.4 L579.7,680.8 L580.2,677.6 L580.7,672.8 L581.2,665.3 L581.7,655.8 L582.2,645.1 L582.7,634.0 L583.2,623.3 L583.7,611.9 L584.2,599.5 L584.7,586.5 L585.2,573.4 L585.7,560.3 L586.2,547.5 L586.7,534.3 L587.2,520.8 L587.7,507.5 L588.2,495.2 L588.7,484.5 L589.2,475.1 L589.7,466.1 L590.2,457.5 L590.7,450.1 L591.2,443.8 L591.7,439.2 L592.2,435.3 L592.7,432.0 L593.2,429.3 L593.7,427.5 L594.2,427.6 L594.7,429.0 L595.2,430.6 L595.7,432.2 L596.2,433.8 L596.7,435.4 L597.2,437.2 L597.7,439.1 L598.2,441.0 L598.7,442.9 L599.2,445.0 L599.7,447.1 L600.2,449.1 L600.7,450.8 L601.2,452.5 L601.7,454.1 L602.2,455.6 L602.7,457.2 L603.2,458.8 L603.7,460.5 L604.2,462.2 L604.7,464.3 L605.2,466.8 L605.7,469.7 L606.2,472.9 L606.7,476.4 L607.2,480.1 L607.7,484.1 L608.2,488.2 L608.7,492.4 L609.2,497.1 L609.7,502.3 L610.2,507.9 L610.7,513.5 L611.2,519.0 L611.7,524.2 L612.2,529.2 L612.7,533.8 L613.2,538.3 L613.7,542.8 L614.2,547.2 L614.7,551.5 L615.2,555.7 L615.7,559.6 L616.2,563.4 L616.7,567.0 L617.2,570.6 L617.7,574.1 L618.2,577.5 L618.7,580.8 L619.2,584.2 L619.7,587.4 L620.2,590.6 L620.7,593.7 L621.2,596.7 L621.7,599.6 L622.2,602.4 L622.7,605.0 L623.2,607.6 L623.7,610.0 L624.2,612.4 L624.7,614.6 L625.2,616.8 L625.7,618.9 L626.2,621.0 L626.7,623.1 L627.2,625.1 L627.7,627.1 L628.2,629.0 L628.7,630.9 L629.2,632.6 L629.7,634.5 L630.2,636.3 L630.7,638.0 L631.2,639.6 L631.7,641.2 L632.2,642.8 L632.7,644.4 L633.2,646.0 L633.7,647.6 L634.2,649.1 L634.7,650.6 L635.2,652.2 L635.7,653.6 L636.2,655.0 L636.7,656.5 L637.2,658.0 L637.7,659.3 L638.2,660.5 L638.7,661.9 L639.2,663.1 L639.7,664.3 L640.2,665.4 L640.7,666.8 L641.2,667.9 L641.7,669.0 L642.2,670.0 L642.7,671.1 L643.2,672.4 L643.7,673.3 L644.2,674.3 L644.7,675.2 L645.2,676.2 L645.7,677.2 L646.2,678.2 L646.7,678.9 L647.2,679.6 L647.7,680.2 L648.2,680.9 L648.7,681.5 L649.2,682.0 L649.7,682.4 L650.2,682.9 L650.7,683.5 L651.2,684.2 L651.7,684.2 L652.2,684.3 L652.7,684.6 L653.2,685.2 L653.7,685.3 L654.2,685.5 L654.7,685.9 L655.2,686.3 L655.7,686.6 L656.2,686.6 L656.7,686.8 L657.2,686.8 L657.7,687.1 L658.2,687.0 L658.7,687.2 L659.2,687.2 L659.7,687.8 L660.2,688.2 L660.7,688.9 L661.2,688.9 L661.7,688.7 L662.2,688.7 L662.7,688.8 L663.2,689.0 L663.7,688.6 L664.2,688.6 L664.7,688.7 L665.2,689.4 L665.7,689.6 L666.2,689.9 L666.7,690.2 L667.2,690.1 L667.7,689.9 L668.2,689.4 L668.7,689.6 L669.2,689.6 L669.7,689.8 L670.2,690.1 L670.7,690.4 L671.2,690.5 L671.7,690.5 L672.2,690.6 L672.7,690.7 L673.2,690.9 L673.7,691.0 L674.2,691.1 L674.7,690.9 L675.2,691.0 L675.7,691.4 L676.2,691.8 L676.7,691.5 L677.2,691.5 L677.7,691.6 L678.2,691.5 L678.7,691.3 L679.2,691.5 L679.7,692.1 L680.2,692.5 L680.7,692.5 L681.2,692.3 L681.7,691.9 L682.2,691.5 L682.7,691.6 L683.2,692.1 L683.7,692.2 L684.2,692.2 L684.7,692.2 L685.2,692.1 L685.7,691.8 L686.2,691.6 L686.7,692.0 L687.2,692.4 L687.7,692.1 L688.2,692.1 L688.7,692.0 L689.2,692.6 L689.7,692.7 L690.2,693.1 L690.7,693.1 L691.2,692.9 L691.7,692.9 L692.2,693.0 L692.7,693.3 L693.2,693.4 L693.7,693.2 L694.2,693.3 L694.7,693.2 L695.2,693.3 L695.7,693.2 L696.2,693.1 L696.7,693.3 L697.2,693.4 L697.7,693.7 L698.2,693.7 L698.7,693.8 L699.2,693.4 L699.7,693.6 L700.2,693.9 L700.7,694.3 L701.2,694.4 L701.7,694.1 L702.2,694.0 L702.7,693.9 L703.2,693.8 L703.7,693.8 L704.2,694.0 L704.7,694.1 L705.2,694.7 L705.7,694.5 L706.2,694.7 L706.7,694.3 L707.2,694.6 L707.7,694.4 L708.2,694.7 L708.7,694.6 L709.2,694.8 L709.7,694.9 L710.2,695.3 L710.7,695.5 L711.2,695.6 L711.7,695.5 L712.2,695.7 L712.7,696.1 L713.2,695.8 L713.7,695.7 L714.2,695.0 L714.7,695.3 L715.2,695.5 L715.7,696.5 L716.2,696.7 L716.7,696.9 L717.2,696.6 L717.7,696.6 L718.2,696.4 L718.7,696.5 L719.2,696.7 L719.7,696.8 L720.2,696.7 L720.7,696.5 L721.2,696.3 L721.7,696.3 L722.2,696.7 L722.7,696.8 L723.2,696.9 L723.7,696.7 L724.2,696.9 L724.7,697.0 L725.2,697.3 L725.7,697.5 L726.2,697.1 L726.7,696.9 L727.2,696.9 L727.7,697.0 L728.2,697.2 L728.7,697.2 L729.2,697.4 L729.7,697.6 L730.2,697.5 L730.7,697.4 L731.2,697.3 L731.7,697.5 L732.2,698.2 L732.7,697.9 L733.2,698.1 L733.7,697.7 L734.2,698.2 L734.7,698.2 L735.2,697.8 L735.7,697.9 L736.2,697.9 L736.7,698.3 L737.2,698.0 L737.7,697.9 L738.2,698.0 L738.7,698.3 L739.2,698.8 L739.7,698.8 L740.2,698.8 L740.7,698.7 L741.2,698.8 L741.7,698.7 L742.2,698.9 L742.7,698.8 L743.2,698.7 L743.7,698.7 L744.2,698.8 L744.7,698.8 L745.2,699.1 L745.7,698.9 L746.2,699.3 L746.7,699.1 L747.2,699.6 L747.7,699.1 L748.2,699.3 L748.7,699.0 L749.2,699.2 L749.7,699.0 L750.2,699.3 L750.7,699.7 L751.2,699.5 L751.7,699.2" fill="none" stroke="#ff7a1f" stroke-width="1.15" stroke-linejoin="round"/>
<path d="M553.2,699.9 L553.7,700.0 L554.2,699.9 L554.7,699.8 L555.2,699.7 L555.7,699.7 L556.2,699.6 L556.7,699.5 L557.2,699.4 L557.7,699.3 L558.2,699.1 L558.7,699.0 L559.2,698.8 L559.7,698.7 L560.2,698.6 L560.7,698.3 L561.2,698.2 L561.7,697.9 L562.2,697.7 L562.7,697.5 L563.2,697.3 L563.7,697.0 L564.2,696.7 L564.7,696.5 L565.2,696.1 L565.7,695.9 L566.2,695.5 L566.7,695.3 L567.2,695.0 L567.7,694.8 L568.2,694.4 L568.7,694.1 L569.2,693.6 L569.7,693.3 L570.2,693.1 L570.7,692.8 L571.2,692.4 L571.7,692.1 L572.2,691.8 L572.7,691.5 L573.2,691.2 L573.7,690.8 L574.2,690.5 L574.7,690.3 L575.2,690.2 L575.7,689.8 L576.2,689.3 L576.7,688.7 L577.2,688.3 L577.7,687.6 L578.2,686.5 L578.7,684.8 L579.2,682.7 L579.7,680.3 L580.2,677.5 L580.7,674.1 L581.2,668.6 L581.7,661.0 L582.2,652.3 L582.7,642.6 L583.2,632.7 L583.7,622.9 L584.2,612.5 L584.7,601.5 L585.2,589.8 L585.7,577.9 L586.2,566.1 L586.7,554.6 L587.2,542.5 L587.7,530.2 L588.2,518.2 L588.7,506.7 L589.2,496.2 L589.7,487.1 L590.2,478.5 L590.7,470.3 L591.2,462.6 L591.7,455.9 L592.2,450.5 L592.7,446.5 L593.2,443.0 L593.7,439.9 L594.2,437.4 L594.7,435.9 L595.2,436.0 L595.7,437.5 L596.2,438.8 L596.7,440.4 L597.2,441.8 L597.7,443.5 L598.2,445.2 L598.7,447.0 L599.2,448.9 L599.7,450.8 L600.2,452.9 L600.7,454.9 L601.2,456.9 L601.7,458.9 L602.2,460.7 L602.7,462.4 L603.2,464.1 L603.7,465.8 L604.2,467.5 L604.7,469.4 L605.2,471.6 L605.7,474.0 L606.2,476.7 L606.7,479.7 L607.2,483.2 L607.7,486.7 L608.2,490.6 L608.7,494.6 L609.2,498.7 L609.7,503.3 L610.2,508.3 L610.7,513.6 L611.2,518.9 L611.7,524.3 L612.2,529.4 L612.7,534.3 L613.2,538.8 L613.7,543.4 L614.2,547.7 L614.7,552.0 L615.2,556.0 L615.7,560.1 L616.2,563.9 L616.7,567.8 L617.2,571.5 L617.7,575.1 L618.2,578.6 L618.7,582.1 L619.2,585.5 L619.7,588.6 L620.2,591.7 L620.7,594.8 L621.2,597.9 L621.7,600.8 L622.2,603.6 L622.7,606.3 L623.2,609.0 L623.7,611.5 L624.2,613.9 L624.7,616.2 L625.2,618.4 L625.7,620.7 L626.2,622.8 L626.7,625.0 L627.2,626.9 L627.7,628.8 L628.2,630.6 L628.7,632.6 L629.2,634.4 L629.7,636.3 L630.2,637.9 L630.7,639.6 L631.2,641.4 L631.7,643.0 L632.2,644.6 L632.7,646.0 L633.2,647.7 L633.7,649.3 L634.2,651.0 L634.7,652.4 L635.2,653.9 L635.7,655.2 L636.2,656.6 L636.7,658.0 L637.2,659.4 L637.7,660.7 L638.2,662.0 L638.7,663.1 L639.2,664.4 L639.7,665.7 L640.2,666.8 L640.7,667.9 L641.2,669.0 L641.7,670.0 L642.2,671.0 L642.7,671.9 L643.2,673.0 L643.7,674.0 L644.2,675.0 L644.7,675.9 L645.2,676.7 L645.7,677.5 L646.2,678.3 L646.7,679.1 L647.2,679.8 L647.7,680.4 L648.2,681.0 L648.7,681.5 L649.2,682.0 L649.7,682.4 L650.2,683.0 L650.7,683.3 L651.2,683.5 L651.7,683.7 L652.2,683.9 L652.7,684.6 L653.2,684.7 L653.7,685.1 L654.2,685.2 L654.7,685.6 L655.2,685.8 L655.7,685.9 L656.2,686.1 L656.7,686.3 L657.2,686.5 L657.7,686.6 L658.2,686.4 L658.7,686.6 L659.2,687.1 L659.7,687.7 L660.2,687.9 L660.7,687.9 L661.2,687.9 L661.7,687.8 L662.2,688.0 L662.7,688.1 L663.2,688.4 L663.7,688.4 L664.2,688.5 L664.7,688.5 L665.2,688.6 L665.7,688.6 L666.2,688.7 L666.7,688.7 L667.2,688.6 L667.7,688.8 L668.2,689.0 L668.7,689.0 L669.2,689.0 L669.7,688.7 L670.2,689.5 L670.7,689.7 L671.2,690.4 L671.7,690.2 L672.2,689.9 L672.7,689.8 L673.2,690.0 L673.7,690.2 L674.2,690.4 L674.7,690.4 L675.2,690.7 L675.7,690.5 L676.2,690.3 L676.7,690.3 L677.2,690.5 L677.7,690.9 L678.2,691.4 L678.7,691.9 L679.2,691.9 L679.7,691.7 L680.2,691.6 L680.7,691.6 L681.2,691.5 L681.7,691.6 L682.2,691.8 L682.7,691.7 L683.2,691.3 L683.7,691.3 L684.2,691.4 L684.7,691.6 L685.2,691.5 L685.7,691.9 L686.2,692.1 L686.7,692.2 L687.2,692.1 L687.7,691.9 L688.2,692.3 L688.7,692.3 L689.2,692.4 L689.7,692.4 L690.2,692.2 L690.7,692.3 L691.2,692.2 L691.7,692.3 L692.2,692.4 L692.7,692.3 L693.2,692.6 L693.7,692.3 L694.2,692.6 L694.7,692.6 L695.2,693.0 L695.7,692.7 L696.2,693.2 L696.7,693.2 L697.2,693.5 L697.7,692.9 L698.2,693.1 L698.7,693.1 L699.2,693.5 L699.7,693.3 L700.2,693.5 L700.7,693.3 L701.2,693.6 L701.7,693.6 L702.2,693.5 L702.7,693.5 L703.2,693.5 L703.7,693.6 L704.2,693.7 L704.7,693.7 L705.2,694.1 L705.7,693.9 L706.2,694.2 L706.7,694.1 L707.2,694.5 L707.7,694.5 L708.2,694.5 L708.7,694.5 L709.2,695.0 L709.7,694.9 L710.2,694.7 L710.7,694.4 L711.2,694.5 L711.7,694.9 L712.2,695.2 L712.7,695.5 L713.2,695.6 L713.7,695.5 L714.2,695.3 L714.7,695.1 L715.2,695.6 L715.7,695.5 L716.2,695.7 L716.7,695.6 L717.2,695.8 L717.7,696.1 L718.2,696.2 L718.7,696.5 L719.2,696.2 L719.7,696.1 L720.2,696.0 L720.7,696.3 L721.2,696.4 L721.7,696.4 L722.2,696.4 L722.7,696.8 L723.2,697.1 L723.7,697.2 L724.2,696.6 L724.7,696.8 L725.2,696.9 L725.7,697.2 L726.2,697.0 L726.7,697.1 L727.2,697.0 L727.7,697.2 L728.2,697.0 L728.7,697.0 L729.2,697.0 L729.7,696.9 L730.2,697.2 L730.7,697.2 L731.2,697.3 L731.7,697.5 L732.2,697.4 L732.7,697.8 L733.2,697.7 L733.7,697.8 L734.2,697.6 L734.7,697.4 L735.2,697.4 L735.7,697.5 L736.2,697.9 L736.7,698.3 L737.2,698.2 L737.7,698.2 L738.2,698.2 L738.7,698.5 L739.2,698.5 L739.7,698.6 L740.2,698.5 L740.7,698.4 L741.2,698.4 L741.7,698.5 L742.2,698.6 L742.7,698.5 L743.2,698.5 L743.7,698.4 L744.2,698.6 L744.7,698.8 L745.2,699.0 L745.7,698.8 L746.2,698.9 L746.7,698.9 L747.2,699.2 L747.7,699.3 L748.2,699.2 L748.7,699.0 L749.2,698.8 L749.7,698.8 L750.2,699.1 L750.7,699.4 L751.2,699.2 L751.7,699.0" fill="none" stroke="#ffa63d" stroke-width="1.15" stroke-linejoin="round"/>
<path d="M553.2,699.8 L553.7,699.7 L554.2,699.7 L554.7,699.6 L555.2,699.5 L555.7,699.3 L556.2,699.3 L556.7,699.2 L557.2,699.2 L557.7,699.1 L558.2,699.0 L558.7,698.8 L559.2,698.8 L559.7,698.6 L560.2,698.5 L560.7,698.3 L561.2,698.1 L561.7,697.9 L562.2,697.6 L562.7,697.4 L563.2,697.2 L563.7,696.9 L564.2,696.7 L564.7,696.5 L565.2,696.3 L565.7,696.0 L566.2,695.7 L566.7,695.6 L567.2,695.3 L567.7,695.0 L568.2,694.6 L568.7,694.1 L569.2,693.9 L569.7,693.6 L570.2,693.3 L570.7,693.0 L571.2,692.6 L571.7,692.2 L572.2,692.0 L572.7,691.8 L573.2,691.5 L573.7,691.0 L574.2,690.6 L574.7,690.2 L575.2,689.8 L575.7,689.4 L576.2,688.9 L576.7,688.3 L577.2,687.5 L577.7,686.8 L578.2,686.0 L578.7,684.9 L579.2,683.5 L579.7,681.7 L580.2,679.7 L580.7,677.1 L581.2,674.4 L581.7,671.4 L582.2,667.2 L582.7,661.4 L583.2,654.6 L583.7,647.1 L584.2,639.2 L584.7,631.3 L585.2,623.2 L585.7,614.6 L586.2,605.4 L586.7,596.0 L587.2,586.3 L587.7,576.6 L588.2,567.0 L588.7,557.3 L589.2,547.5 L589.7,537.4 L590.2,527.6 L590.7,518.1 L591.2,509.3 L591.7,501.4 L592.2,493.9 L592.7,486.8 L593.2,480.1 L593.7,474.1 L594.2,468.9 L594.7,464.8 L595.2,461.4 L595.7,458.4 L596.2,455.7 L596.7,453.8 L597.2,452.6 L597.7,452.7 L598.2,453.8 L598.7,455.1 L599.2,456.5 L599.7,458.0 L600.2,459.6 L600.7,461.2 L601.2,463.1 L601.7,465.1 L602.2,467.0 L602.7,469.0 L603.2,471.1 L603.7,473.3 L604.2,475.5 L604.7,477.5 L605.2,479.4 L605.7,481.4 L606.2,483.4 L606.7,485.7 L607.2,488.2 L607.7,491.1 L608.2,494.3 L608.7,497.7 L609.2,501.3 L609.7,505.1 L610.2,509.1 L610.7,513.2 L611.2,517.6 L611.7,522.3 L612.2,527.4 L612.7,532.5 L613.2,537.6 L613.7,542.5 L614.2,547.0 L614.7,551.4 L615.2,555.7 L615.7,559.9 L616.2,564.1 L616.7,568.0 L617.2,571.9 L617.7,575.6 L618.2,579.2 L618.7,582.8 L619.2,586.4 L619.7,589.8 L620.2,593.2 L620.7,596.4 L621.2,599.7 L621.7,602.9 L622.2,605.8 L622.7,608.7 L623.2,611.4 L623.7,614.1 L624.2,616.7 L624.7,619.1 L625.2,621.4 L625.7,623.7 L626.2,625.9 L626.7,628.2 L627.2,630.4 L627.7,632.5 L628.2,634.4 L628.7,636.4 L629.2,638.2 L629.7,640.0 L630.2,641.8 L630.7,643.4 L631.2,645.1 L631.7,646.8 L632.2,648.4 L632.7,650.0 L633.2,651.5 L633.7,653.2 L634.2,654.6 L634.7,656.1 L635.2,657.4 L635.7,658.7 L636.2,660.1 L636.7,661.5 L637.2,662.9 L637.7,664.1 L638.2,665.1 L638.7,666.2 L639.2,667.4 L639.7,668.4 L640.2,669.4 L640.7,670.4 L641.2,671.5 L641.7,672.4 L642.2,673.2 L642.7,674.0 L643.2,675.0 L643.7,675.9 L644.2,676.8 L644.7,677.5 L645.2,678.2 L645.7,678.9 L646.2,679.6 L646.7,680.1 L647.2,680.6 L647.7,681.1 L648.2,681.5 L648.7,681.9 L649.2,682.2 L649.7,682.7 L650.2,683.0 L650.7,683.6 L651.2,683.9 L651.7,684.1 L652.2,684.1 L652.7,683.9 L653.2,684.4 L653.7,684.5 L654.2,685.1 L654.7,685.2 L655.2,685.6 L655.7,685.8 L656.2,685.7 L656.7,686.0 L657.2,686.2 L657.7,686.3 L658.2,686.6 L658.7,686.7 L659.2,686.8 L659.7,686.6 L660.2,686.7 L660.7,686.9 L661.2,687.3 L661.7,687.6 L662.2,688.2 L662.7,688.0 L663.2,688.0 L663.7,687.4 L664.2,687.6 L664.7,687.6 L665.2,688.0 L665.7,688.2 L666.2,688.2 L666.7,688.1 L667.2,688.0 L667.7,688.2 L668.2,688.5 L668.7,688.8 L669.2,689.1 L669.7,689.2 L670.2,689.0 L670.7,688.7 L671.2,688.6 L671.7,688.8 L672.2,689.3 L672.7,689.5 L673.2,689.7 L673.7,689.6 L674.2,689.8 L674.7,689.9 L675.2,689.9 L675.7,689.8 L676.2,689.9 L676.7,690.1 L677.2,690.2 L677.7,690.2 L678.2,690.0 L678.7,689.8 L679.2,689.8 L679.7,689.6 L680.2,689.9 L680.7,690.2 L681.2,690.6 L681.7,690.6 L682.2,690.5 L682.7,690.5 L683.2,690.8 L683.7,691.1 L684.2,691.2 L684.7,691.2 L685.2,690.9 L685.7,690.9 L686.2,690.8 L686.7,690.8 L687.2,691.1 L687.7,691.0 L688.2,691.1 L688.7,691.0 L689.2,691.1 L689.7,691.3 L690.2,691.1 L690.7,691.3 L691.2,691.5 L691.7,691.9 L692.2,692.1 L692.7,691.9 L693.2,691.7 L693.7,691.6 L694.2,692.1 L694.7,691.9 L695.2,691.9 L695.7,691.5 L696.2,691.9 L696.7,691.9 L697.2,692.3 L697.7,692.4 L698.2,692.6 L698.7,692.4 L699.2,692.4 L699.7,692.6 L700.2,692.8 L700.7,692.8 L701.2,692.6 L701.7,692.9 L702.2,692.9 L702.7,693.0 L703.2,692.9 L703.7,692.9 L704.2,693.2 L704.7,693.4 L705.2,693.8 L705.7,694.2 L706.2,694.3 L706.7,694.1 L707.2,693.9 L707.7,693.9 L708.2,694.5 L708.7,694.3 L709.2,693.9 L709.7,693.7 L710.2,694.0 L710.7,694.1 L711.2,694.1 L711.7,694.1 L712.2,694.0 L712.7,694.1 L713.2,694.3 L713.7,694.8 L714.2,695.1 L714.7,695.1 L715.2,694.9 L715.7,694.7 L716.2,694.7 L716.7,694.7 L717.2,695.1 L717.7,695.4 L718.2,695.9 L718.7,695.8 L719.2,695.4 L719.7,695.2 L720.2,695.5 L720.7,695.7 L721.2,695.5 L721.7,695.5 L722.2,695.9 L722.7,695.9 L723.2,695.9 L723.7,695.7 L724.2,695.8 L724.7,695.7 L725.2,695.9 L725.7,696.2 L726.2,696.3 L726.7,695.8 L727.2,696.2 L727.7,696.3 L728.2,696.7 L728.7,696.4 L729.2,696.6 L729.7,696.5 L730.2,696.6 L730.7,696.7 L731.2,697.1 L731.7,697.1 L732.2,697.2 L732.7,697.0 L733.2,697.5 L733.7,697.4 L734.2,697.6 L734.7,697.2 L735.2,697.5 L735.7,697.6 L736.2,697.9 L736.7,697.9 L737.2,697.9 L737.7,697.8 L738.2,697.7 L738.7,697.3 L739.2,697.4 L739.7,697.4 L740.2,697.8 L740.7,697.9 L741.2,698.3 L741.7,698.4 L742.2,698.7 L742.7,698.2 L743.2,698.1 L743.7,697.9 L744.2,698.3 L744.7,698.1 L745.2,698.2 L745.7,698.3 L746.2,698.9 L746.7,698.8 L747.2,698.7 L747.7,698.7 L748.2,699.0 L748.7,699.2 L749.2,699.1 L749.7,699.1 L750.2,699.0 L750.7,699.0 L751.2,698.8 L751.7,698.8" fill="none" stroke="#f2e23c" stroke-width="1.15" stroke-linejoin="round"/>
<path d="M553.2,699.6 L553.7,699.5 L554.2,699.3 L554.7,699.3 L555.2,699.2 L555.7,699.2 L556.2,699.0 L556.7,698.8 L557.2,698.8 L557.7,698.7 L558.2,698.6 L558.7,698.4 L559.2,698.3 L559.7,698.2 L560.2,698.0 L560.7,697.9 L561.2,697.7 L561.7,697.4 L562.2,697.2 L562.7,697.0 L563.2,696.8 L563.7,696.6 L564.2,696.3 L564.7,696.1 L565.2,695.9 L565.7,695.7 L566.2,695.4 L566.7,695.1 L567.2,694.9 L567.7,694.7 L568.2,694.4 L568.7,694.0 L569.2,693.8 L569.7,693.5 L570.2,693.3 L570.7,693.0 L571.2,692.6 L571.7,692.2 L572.2,691.8 L572.7,691.5 L573.2,691.2 L573.7,690.9 L574.2,690.4 L574.7,689.9 L575.2,689.3 L575.7,688.7 L576.2,688.0 L576.7,687.4 L577.2,686.5 L577.7,685.5 L578.2,684.5 L578.7,683.1 L579.2,681.6 L579.7,679.8 L580.2,677.8 L580.7,675.4 L581.2,672.9 L581.7,670.2 L582.2,666.8 L582.7,662.4 L583.2,657.4 L583.7,651.8 L584.2,645.8 L584.7,639.7 L585.2,633.4 L585.7,626.9 L586.2,620.0 L586.7,612.9 L587.2,605.4 L587.7,597.7 L588.2,589.9 L588.7,582.2 L589.2,574.4 L589.7,566.3 L590.2,558.2 L590.7,550.2 L591.2,542.4 L591.7,534.9 L592.2,527.9 L592.7,521.3 L593.2,514.9 L593.7,508.9 L594.2,503.3 L594.7,498.0 L595.2,493.4 L595.7,489.3 L596.2,486.0 L596.7,483.1 L597.2,480.5 L597.7,478.4 L598.2,476.9 L598.7,476.1 L599.2,476.3 L599.7,477.1 L600.2,478.2 L600.7,479.3 L601.2,480.6 L601.7,482.1 L602.2,483.9 L602.7,485.6 L603.2,487.6 L603.7,489.5 L604.2,491.7 L604.7,493.9 L605.2,496.1 L605.7,498.3 L606.2,500.7 L606.7,503.1 L607.2,505.7 L607.7,508.3 L608.2,511.1 L608.7,514.2 L609.2,517.5 L609.7,521.0 L610.2,524.7 L610.7,528.5 L611.2,532.4 L611.7,536.5 L612.2,541.1 L612.7,545.7 L613.2,550.2 L613.7,554.8 L614.2,559.3 L614.7,563.5 L615.2,567.6 L615.7,571.7 L616.2,575.7 L616.7,579.7 L617.2,583.5 L617.7,587.2 L618.2,590.6 L618.7,594.2 L619.2,597.6 L619.7,600.8 L620.2,603.9 L620.7,607.0 L621.2,610.1 L621.7,613.1 L622.2,616.0 L622.7,618.8 L623.2,621.5 L623.7,624.1 L624.2,626.5 L624.7,628.9 L625.2,631.2 L625.7,633.5 L626.2,635.5 L626.7,637.7 L627.2,639.6 L627.7,641.6 L628.2,643.5 L628.7,645.3 L629.2,647.1 L629.7,648.7 L630.2,650.4 L630.7,652.0 L631.2,653.7 L631.7,655.2 L632.2,656.7 L632.7,658.1 L633.2,659.5 L633.7,660.8 L634.2,662.1 L634.7,663.4 L635.2,664.7 L635.7,665.8 L636.2,667.0 L636.7,668.0 L637.2,669.1 L637.7,670.0 L638.2,671.0 L638.7,671.9 L639.2,672.7 L639.7,673.6 L640.2,674.4 L640.7,675.3 L641.2,676.1 L641.7,676.8 L642.2,677.5 L642.7,678.1 L643.2,678.8 L643.7,679.5 L644.2,680.1 L644.7,680.7 L645.2,681.0 L645.7,681.4 L646.2,681.8 L646.7,682.1 L647.2,682.5 L647.7,682.8 L648.2,683.2 L648.7,683.4 L649.2,683.6 L649.7,683.9 L650.2,684.4 L650.7,684.9 L651.2,685.0 L651.7,685.2 L652.2,684.8 L652.7,684.9 L653.2,684.7 L653.7,685.3 L654.2,685.8 L654.7,686.3 L655.2,686.2 L655.7,686.0 L656.2,685.9 L656.7,686.3 L657.2,686.5 L657.7,686.8 L658.2,686.4 L658.7,686.7 L659.2,686.5 L659.7,686.8 L660.2,686.8 L660.7,686.9 L661.2,687.0 L661.7,686.6 L662.2,686.8 L662.7,687.2 L663.2,687.9 L663.7,687.9 L664.2,687.8 L664.7,687.9 L665.2,688.0 L665.7,688.4 L666.2,688.1 L666.7,688.4 L667.2,688.3 L667.7,688.2 L668.2,688.2 L668.7,688.0 L669.2,688.2 L669.7,688.2 L670.2,688.5 L670.7,688.6 L671.2,688.7 L671.7,688.7 L672.2,688.7 L672.7,689.0 L673.2,689.1 L673.7,689.1 L674.2,688.9 L674.7,689.2 L675.2,689.2 L675.7,689.2 L676.2,689.0 L676.7,689.2 L677.2,689.4 L677.7,689.6 L678.2,689.3 L678.7,689.1 L679.2,688.6 L679.7,689.0 L680.2,689.3 L680.7,689.9 L681.2,689.9 L681.7,690.1 L682.2,690.0 L682.7,690.0 L683.2,689.5 L683.7,689.5 L684.2,689.5 L684.7,690.0 L685.2,690.5 L685.7,690.5 L686.2,690.5 L686.7,690.3 L687.2,690.3 L687.7,690.1 L688.2,690.0 L688.7,690.0 L689.2,690.2 L689.7,690.3 L690.2,690.6 L690.7,690.7 L691.2,690.9 L691.7,690.8 L692.2,691.0 L692.7,690.8 L693.2,691.1 L693.7,691.1 L694.2,691.3 L694.7,691.0 L695.2,691.0 L695.7,691.1 L696.2,691.6 L696.7,691.7 L697.2,692.0 L697.7,692.0 L698.2,692.0 L698.7,692.1 L699.2,692.0 L699.7,692.0 L700.2,692.1 L700.7,692.5 L701.2,692.6 L701.7,692.6 L702.2,692.5 L702.7,692.5 L703.2,692.2 L703.7,692.6 L704.2,692.7 L704.7,693.0 L705.2,692.6 L705.7,692.9 L706.2,692.8 L706.7,693.8 L707.2,693.7 L707.7,693.6 L708.2,693.2 L708.7,693.5 L709.2,693.5 L709.7,693.5 L710.2,693.6 L710.7,693.8 L711.2,693.9 L711.7,693.8 L712.2,694.1 L712.7,694.0 L713.2,694.1 L713.7,694.1 L714.2,694.6 L714.7,694.6 L715.2,694.7 L715.7,694.6 L716.2,694.8 L716.7,695.3 L717.2,695.2 L717.7,695.2 L718.2,695.0 L718.7,695.1 L719.2,695.1 L719.7,695.3 L720.2,695.5 L720.7,695.4 L721.2,695.4 L721.7,695.2 L722.2,695.6 L722.7,695.7 L723.2,696.1 L723.7,695.9 L724.2,696.0 L724.7,695.9 L725.2,696.1 L725.7,696.1 L726.2,696.0 L726.7,696.2 L727.2,696.2 L727.7,696.2 L728.2,696.1 L728.7,696.4 L729.2,696.7 L729.7,696.9 L730.2,696.7 L730.7,696.7 L731.2,696.5 L731.7,696.5 L732.2,697.0 L732.7,697.2 L733.2,697.3 L733.7,697.3 L734.2,697.3 L734.7,697.3 L735.2,697.3 L735.7,697.2 L736.2,697.1 L736.7,697.3 L737.2,697.0 L737.7,697.4 L738.2,697.0 L738.7,697.4 L739.2,697.5 L739.7,697.6 L740.2,697.3 L740.7,697.3 L741.2,697.6 L741.7,697.9 L742.2,697.8 L742.7,697.9 L743.2,698.0 L743.7,698.1 L744.2,697.9 L744.7,698.1 L745.2,698.3 L745.7,698.8 L746.2,698.9 L746.7,698.9 L747.2,698.7 L747.7,698.5 L748.2,698.6 L748.7,698.3 L749.2,698.4 L749.7,698.4 L750.2,698.5 L750.7,699.0 L751.2,698.6 L751.7,698.6" fill="none" stroke="#9fe01f" stroke-width="1.15" stroke-linejoin="round"/>
<path d="M553.2,699.7 L553.7,699.6 L554.2,699.5 L554.7,699.3 L555.2,699.2 L555.7,699.0 L556.2,699.0 L556.7,698.9 L557.2,699.0 L557.7,698.9 L558.2,698.7 L558.7,698.5 L559.2,698.4 L559.7,698.3 L560.2,698.2 L560.7,698.0 L561.2,697.8 L561.7,697.5 L562.2,697.5 L562.7,697.2 L563.2,697.1 L563.7,696.8 L564.2,696.7 L564.7,696.6 L565.2,696.4 L565.7,696.2 L566.2,696.0 L566.7,695.7 L567.2,695.3 L567.7,695.0 L568.2,694.6 L568.7,694.4 L569.2,694.3 L569.7,694.1 L570.2,693.9 L570.7,693.6 L571.2,693.2 L571.7,692.8 L572.2,692.4 L572.7,692.1 L573.2,691.9 L573.7,691.5 L574.2,690.9 L574.7,690.4 L575.2,690.1 L575.7,689.5 L576.2,688.8 L576.7,688.1 L577.2,687.2 L577.7,686.3 L578.2,685.2 L578.7,684.2 L579.2,683.1 L579.7,681.6 L580.2,680.0 L580.7,678.0 L581.2,676.0 L581.7,673.7 L582.2,671.3 L582.7,668.4 L583.2,664.9 L583.7,660.9 L584.2,656.6 L584.7,652.1 L585.2,647.1 L585.7,642.0 L586.2,636.7 L586.7,631.1 L587.2,625.4 L587.7,619.4 L588.2,613.1 L588.7,606.6 L589.2,600.2 L589.7,593.7 L590.2,587.1 L590.7,580.3 L591.2,573.5 L591.7,566.8 L592.2,560.2 L592.7,553.6 L593.2,547.4 L593.7,541.5 L594.2,536.0 L594.7,530.6 L595.2,525.6 L595.7,520.8 L596.2,516.5 L596.7,512.8 L597.2,509.4 L597.7,506.5 L598.2,503.9 L598.7,501.8 L599.2,500.3 L599.7,499.1 L600.2,498.6 L600.7,498.8 L601.2,499.5 L601.7,500.3 L602.2,501.4 L602.7,502.8 L603.2,504.2 L603.7,505.8 L604.2,507.6 L604.7,509.6 L605.2,511.8 L605.7,513.9 L606.2,516.3 L606.7,518.6 L607.2,520.9 L607.7,523.4 L608.2,526.0 L608.7,528.8 L609.2,531.8 L609.7,535.0 L610.2,538.3 L610.7,541.7 L611.2,545.2 L611.7,548.9 L612.2,552.6 L612.7,556.7 L613.2,560.9 L613.7,565.3 L614.2,569.4 L614.7,573.5 L615.2,577.4 L615.7,581.2 L616.2,585.0 L616.7,588.6 L617.2,592.3 L617.7,595.9 L618.2,599.3 L618.7,602.5 L619.2,605.9 L619.7,609.1 L620.2,612.2 L620.7,615.2 L621.2,618.2 L621.7,621.1 L622.2,623.9 L622.7,626.4 L623.2,629.0 L623.7,631.6 L624.2,634.1 L624.7,636.3 L625.2,638.6 L625.7,640.7 L626.2,642.7 L626.7,644.7 L627.2,646.6 L627.7,648.4 L628.2,650.2 L628.7,651.9 L629.2,653.6 L629.7,655.1 L630.2,656.7 L630.7,658.2 L631.2,659.7 L631.7,661.1 L632.2,662.5 L632.7,663.7 L633.2,665.0 L633.7,666.1 L634.2,667.2 L634.7,668.3 L635.2,669.2 L635.7,670.2 L636.2,671.2 L636.7,672.2 L637.2,673.2 L637.7,674.0 L638.2,674.8 L638.7,675.5 L639.2,676.3 L639.7,676.9 L640.2,677.6 L640.7,678.3 L641.2,678.9 L641.7,679.7 L642.2,680.2 L642.7,680.5 L643.2,680.9 L643.7,681.4 L644.2,681.9 L644.7,682.3 L645.2,682.7 L645.7,683.0 L646.2,683.2 L646.7,683.3 L647.2,683.6 L647.7,683.9 L648.2,684.3 L648.7,684.4 L649.2,684.5 L649.7,684.6 L650.2,684.6 L650.7,684.9 L651.2,685.1 L651.7,685.6 L652.2,685.4 L652.7,685.8 L653.2,686.1 L653.7,686.5 L654.2,686.2 L654.7,686.0 L655.2,686.0 L655.7,686.4 L656.2,686.4 L656.7,686.6 L657.2,686.5 L657.7,686.7 L658.2,686.6 L658.7,686.7 L659.2,687.0 L659.7,687.0 L660.2,687.3 L660.7,687.1 L661.2,687.2 L661.7,687.1 L662.2,687.4 L662.7,687.4 L663.2,687.8 L663.7,687.6 L664.2,687.7 L664.7,687.8 L665.2,688.0 L665.7,688.1 L666.2,687.7 L666.7,687.9 L667.2,687.9 L667.7,688.2 L668.2,688.0 L668.7,688.3 L669.2,688.7 L669.7,689.0 L670.2,689.2 L670.7,688.4 L671.2,688.3 L671.7,688.2 L672.2,688.6 L672.7,689.0 L673.2,688.8 L673.7,688.8 L674.2,688.5 L674.7,688.6 L675.2,689.0 L675.7,688.9 L676.2,689.1 L676.7,688.9 L677.2,688.8 L677.7,688.4 L678.2,688.2 L678.7,688.7 L679.2,689.3 L679.7,689.8 L680.2,689.7 L680.7,689.2 L681.2,689.2 L681.7,689.2 L682.2,689.8 L682.7,690.0 L683.2,690.5 L683.7,690.5 L684.2,690.6 L684.7,690.0 L685.2,689.9 L685.7,689.5 L686.2,689.8 L686.7,689.7 L687.2,690.0 L687.7,689.9 L688.2,690.2 L688.7,690.4 L689.2,690.6 L689.7,690.6 L690.2,690.5 L690.7,690.7 L691.2,690.7 L691.7,691.1 L692.2,691.3 L692.7,691.1 L693.2,690.8 L693.7,690.5 L694.2,691.1 L694.7,691.3 L695.2,691.5 L695.7,691.3 L696.2,691.5 L696.7,691.3 L697.2,691.7 L697.7,691.1 L698.2,691.2 L698.7,691.3 L699.2,692.0 L699.7,692.2 L700.2,692.5 L700.7,692.6 L701.2,693.1 L701.7,692.7 L702.2,692.7 L702.7,692.7 L703.2,692.6 L703.7,692.7 L704.2,692.7 L704.7,693.3 L705.2,693.4 L705.7,693.5 L706.2,693.2 L706.7,693.0 L707.2,693.3 L707.7,693.4 L708.2,693.6 L708.7,693.6 L709.2,693.8 L709.7,694.0 L710.2,694.0 L710.7,693.9 L711.2,693.4 L711.7,693.7 L712.2,694.0 L712.7,694.3 L713.2,694.1 L713.7,693.9 L714.2,694.0 L714.7,693.8 L715.2,694.0 L715.7,693.9 L716.2,694.7 L716.7,694.9 L717.2,695.3 L717.7,695.0 L718.2,695.2 L718.7,695.0 L719.2,695.0 L719.7,694.9 L720.2,695.5 L720.7,695.7 L721.2,695.5 L721.7,695.4 L722.2,695.9 L722.7,696.1 L723.2,696.5 L723.7,696.2 L724.2,696.6 L724.7,696.0 L725.2,696.0 L725.7,695.8 L726.2,695.7 L726.7,695.5 L727.2,695.9 L727.7,695.9 L728.2,696.4 L728.7,696.5 L729.2,696.6 L729.7,696.6 L730.2,696.6 L730.7,696.7 L731.2,696.7 L731.7,696.8 L732.2,696.7 L732.7,696.5 L733.2,696.3 L733.7,696.7 L734.2,697.2 L734.7,697.7 L735.2,697.7 L735.7,697.7 L736.2,697.7 L736.7,697.9 L737.2,697.8 L737.7,697.8 L738.2,697.6 L738.7,697.6 L739.2,697.9 L739.7,697.8 L740.2,697.8 L740.7,697.5 L741.2,697.9 L741.7,698.3 L742.2,698.5 L742.7,697.8 L743.2,697.5 L743.7,697.7 L744.2,698.0 L744.7,698.0 L745.2,697.8 L745.7,697.7 L746.2,697.8 L746.7,698.1 L747.2,698.6 L747.7,698.3 L748.2,698.0 L748.7,697.9 L749.2,698.2 L749.7,698.2 L750.2,698.6 L750.7,698.7 L751.2,698.4 L751.7,698.2" fill="none" stroke="#1fd11f" stroke-width="1.15" stroke-linejoin="round"/>
<path d="M553.2,699.6 L553.7,699.6 L554.2,699.6 L554.7,699.6 L555.2,699.4 L555.7,699.3 L556.2,699.1 L556.7,699.0 L557.2,698.9 L557.7,698.8 L558.2,698.8 L558.7,698.7 L559.2,698.6 L559.7,698.4 L560.2,698.3 L560.7,698.2 L561.2,698.2 L561.7,698.0 L562.2,697.8 L562.7,697.6 L563.2,697.5 L563.7,697.3 L564.2,697.1 L564.7,696.9 L565.2,696.7 L565.7,696.7 L566.2,696.5 L566.7,696.3 L567.2,696.0 L567.7,695.9 L568.2,695.7 L568.7,695.5 L569.2,695.3 L569.7,695.0 L570.2,694.7 L570.7,694.3 L571.2,694.0 L571.7,693.7 L572.2,693.4 L572.7,693.2 L573.2,693.0 L573.7,692.7 L574.2,692.3 L574.7,691.8 L575.2,691.4 L575.7,690.9 L576.2,690.4 L576.7,689.9 L577.2,689.2 L577.7,688.5 L578.2,687.8 L578.7,687.0 L579.2,686.1 L579.7,685.1 L580.2,684.1 L580.7,682.7 L581.2,681.3 L581.7,679.8 L582.2,678.2 L582.7,676.4 L583.2,674.5 L583.7,672.3 L584.2,670.0 L584.7,667.2 L585.2,664.3 L585.7,661.0 L586.2,657.5 L586.7,653.6 L587.2,649.7 L587.7,645.5 L588.2,641.4 L588.7,637.0 L589.2,632.4 L589.7,627.6 L590.2,622.6 L590.7,617.5 L591.2,612.3 L591.7,606.9 L592.2,601.6 L592.7,596.1 L593.2,590.7 L593.7,585.3 L594.2,579.8 L594.7,574.3 L595.2,568.9 L595.7,563.7 L596.2,558.9 L596.7,554.3 L597.2,549.8 L597.7,545.3 L598.2,541.2 L598.7,537.4 L599.2,533.9 L599.7,530.7 L600.2,527.9 L600.7,525.6 L601.2,523.5 L601.7,521.8 L602.2,520.5 L602.7,519.5 L603.2,519.0 L603.7,519.1 L604.2,519.5 L604.7,520.3 L605.2,521.1 L605.7,522.4 L606.2,523.8 L606.7,525.4 L607.2,527.1 L607.7,529.0 L608.2,531.1 L608.7,533.3 L609.2,535.6 L609.7,538.2 L610.2,540.7 L610.7,543.4 L611.2,546.1 L611.7,549.1 L612.2,552.3 L612.7,555.6 L613.2,559.0 L613.7,562.4 L614.2,566.0 L614.7,569.6 L615.2,573.3 L615.7,577.2 L616.2,580.9 L616.7,584.8 L617.2,588.4 L617.7,592.0 L618.2,595.4 L618.7,599.0 L619.2,602.4 L619.7,605.8 L620.2,609.0 L620.7,612.2 L621.2,615.5 L621.7,618.5 L622.2,621.5 L622.7,624.3 L623.2,627.1 L623.7,629.7 L624.2,632.3 L624.7,634.8 L625.2,637.3 L625.7,639.7 L626.2,641.8 L626.7,644.1 L627.2,646.2 L627.7,648.2 L628.2,650.1 L628.7,652.0 L629.2,653.9 L629.7,655.5 L630.2,657.0 L630.7,658.6 L631.2,660.3 L631.7,661.7 L632.2,663.0 L632.7,664.2 L633.2,665.5 L633.7,666.7 L634.2,667.9 L634.7,669.0 L635.2,670.1 L635.7,671.1 L636.2,672.1 L636.7,673.0 L637.2,673.8 L637.7,674.6 L638.2,675.4 L638.7,676.1 L639.2,676.8 L639.7,677.5 L640.2,678.2 L640.7,678.7 L641.2,679.3 L641.7,679.7 L642.2,680.2 L642.7,680.7 L643.2,681.3 L643.7,681.7 L644.2,682.0 L644.7,682.3 L645.2,682.6 L645.7,682.9 L646.2,683.3 L646.7,683.6 L647.2,683.8 L647.7,683.9 L648.2,684.1 L648.7,684.4 L649.2,684.4 L649.7,684.6 L650.2,684.8 L650.7,684.9 L651.2,685.2 L651.7,685.3 L652.2,685.3 L652.7,685.6 L653.2,685.8 L653.7,685.8 L654.2,685.2 L654.7,684.9 L655.2,685.1 L655.7,685.8 L656.2,686.0 L656.7,686.3 L657.2,685.9 L657.7,686.3 L658.2,686.5 L658.7,686.9 L659.2,687.3 L659.7,687.6 L660.2,687.8 L660.7,687.4 L661.2,686.9 L661.7,686.6 L662.2,686.5 L662.7,687.1 L663.2,687.4 L663.7,687.7 L664.2,687.5 L664.7,687.9 L665.2,687.9 L665.7,688.2 L666.2,688.0 L666.7,688.0 L667.2,687.5 L667.7,687.7 L668.2,687.7 L668.7,688.1 L669.2,688.0 L669.7,688.1 L670.2,688.5 L670.7,688.4 L671.2,688.5 L671.7,688.4 L672.2,688.4 L672.7,688.5 L673.2,688.4 L673.7,688.8 L674.2,688.5 L674.7,688.4 L675.2,688.3 L675.7,688.7 L676.2,688.9 L676.7,688.9 L677.2,688.6 L677.7,688.8 L678.2,688.8 L678.7,689.1 L679.2,688.8 L679.7,689.1 L680.2,689.2 L680.7,689.4 L681.2,689.5 L681.7,689.5 L682.2,690.1 L682.7,689.6 L683.2,689.9 L683.7,689.7 L684.2,689.7 L684.7,689.5 L685.2,689.5 L685.7,689.7 L686.2,689.7 L686.7,689.4 L687.2,689.7 L687.7,689.8 L688.2,690.2 L688.7,690.5 L689.2,690.6 L689.7,690.6 L690.2,690.0 L690.7,690.1 L691.2,690.4 L691.7,690.8 L692.2,690.8 L692.7,690.8 L693.2,691.0 L693.7,691.3 L694.2,691.6 L694.7,691.4 L695.2,691.5 L695.7,690.9 L696.2,691.0 L696.7,691.1 L697.2,691.7 L697.7,691.7 L698.2,691.8 L698.7,691.9 L699.2,692.1 L699.7,692.6 L700.2,692.4 L700.7,692.4 L701.2,692.1 L701.7,691.9 L702.2,692.3 L702.7,692.5 L703.2,692.8 L703.7,692.7 L704.2,692.9 L704.7,693.4 L705.2,693.2 L705.7,692.9 L706.2,692.2 L706.7,692.3 L707.2,692.4 L707.7,693.0 L708.2,693.3 L708.7,693.5 L709.2,693.4 L709.7,693.7 L710.2,693.7 L710.7,693.9 L711.2,694.0 L711.7,694.0 L712.2,693.9 L712.7,694.2 L713.2,694.4 L713.7,694.4 L714.2,694.0 L714.7,693.9 L715.2,694.0 L715.7,694.1 L716.2,694.3 L716.7,694.7 L717.2,695.0 L717.7,694.8 L718.2,694.5 L718.7,694.5 L719.2,694.9 L719.7,695.4 L720.2,695.5 L720.7,695.4 L721.2,695.4 L721.7,695.2 L722.2,695.5 L722.7,695.7 L723.2,696.4 L723.7,696.5 L724.2,696.4 L724.7,696.1 L725.2,696.2 L725.7,695.8 L726.2,695.7 L726.7,695.7 L727.2,696.3 L727.7,696.4 L728.2,696.5 L728.7,696.5 L729.2,696.7 L729.7,696.6 L730.2,696.4 L730.7,696.5 L731.2,696.9 L731.7,697.2 L732.2,697.1 L732.7,696.8 L733.2,696.5 L733.7,696.9 L734.2,697.2 L734.7,697.4 L735.2,697.4 L735.7,697.5 L736.2,697.4 L736.7,697.2 L737.2,697.0 L737.7,697.2 L738.2,697.5 L738.7,697.6 L739.2,697.6 L739.7,697.7 L740.2,697.7 L740.7,697.7 L741.2,697.7 L741.7,697.7 L742.2,697.5 L742.7,697.3 L743.2,697.4 L743.7,697.9 L744.2,697.9 L744.7,697.9 L745.2,697.9 L745.7,698.1 L746.2,698.5 L746.7,698.6 L747.2,698.2 L747.7,698.0 L748.2,697.8 L748.7,698.4 L749.2,698.5 L749.7,698.7 L750.2,698.9 L750.7,698.9 L751.2,698.8 L751.7,698.5" fill="none" stroke="#12d68c" stroke-width="1.15" stroke-linejoin="round"/>
<path d="M553.2,699.6 L553.7,699.5 L554.2,699.3 L554.7,699.3 L555.2,699.3 L555.7,699.2 L556.2,699.1 L556.7,698.9 L557.2,698.9 L557.7,698.8 L558.2,698.8 L558.7,698.7 L559.2,698.7 L559.7,698.4 L560.2,698.3 L560.7,698.3 L561.2,698.3 L561.7,698.2 L562.2,697.9 L562.7,697.8 L563.2,697.5 L563.7,697.5 L564.2,697.4 L564.7,697.2 L565.2,696.9 L565.7,696.7 L566.2,696.7 L566.7,696.6 L567.2,696.4 L567.7,696.4 L568.2,696.2 L568.7,695.9 L569.2,695.6 L569.7,695.3 L570.2,695.2 L570.7,695.0 L571.2,694.8 L571.7,694.6 L572.2,694.3 L572.7,694.0 L573.2,693.8 L573.7,693.5 L574.2,693.2 L574.7,692.8 L575.2,692.5 L575.7,692.0 L576.2,691.6 L576.7,691.0 L577.2,690.5 L577.7,689.8 L578.2,689.4 L578.7,688.6 L579.2,688.0 L579.7,687.0 L580.2,686.1 L580.7,685.1 L581.2,684.1 L581.7,682.9 L582.2,681.5 L582.7,680.1 L583.2,678.6 L583.7,677.1 L584.2,675.4 L584.7,673.5 L585.2,671.4 L585.7,669.3 L586.2,666.8 L586.7,664.2 L587.2,661.3 L587.7,658.6 L588.2,655.5 L588.7,652.3 L589.2,648.9 L589.7,645.6 L590.2,642.2 L590.7,638.6 L591.2,634.7 L591.7,630.8 L592.2,626.8 L592.7,622.7 L593.2,618.6 L593.7,614.3 L594.2,610.1 L594.7,605.8 L595.2,601.6 L595.7,597.3 L596.2,593.1 L596.7,589.0 L597.2,585.0 L597.7,581.0 L598.2,577.2 L598.7,573.6 L599.2,570.1 L599.7,566.6 L600.2,563.3 L600.7,560.3 L601.2,557.7 L601.7,555.2 L602.2,553.1 L602.7,551.3 L603.2,549.8 L603.7,548.5 L604.2,547.4 L604.7,546.6 L605.2,546.1 L605.7,546.0 L606.2,546.2 L606.7,546.8 L607.2,547.6 L607.7,548.6 L608.2,549.7 L608.7,551.0 L609.2,552.6 L609.7,554.5 L610.2,556.4 L610.7,558.5 L611.2,560.6 L611.7,562.9 L612.2,565.2 L612.7,567.9 L613.2,570.7 L613.7,573.6 L614.2,576.5 L614.7,579.5 L615.2,582.6 L615.7,585.5 L616.2,588.6 L616.7,591.6 L617.2,594.9 L617.7,598.1 L618.2,601.5 L618.7,604.8 L619.2,607.9 L619.7,611.0 L620.2,614.0 L620.7,617.0 L621.2,620.0 L621.7,622.7 L622.2,625.5 L622.7,628.3 L623.2,631.0 L623.7,633.6 L624.2,636.0 L624.7,638.5 L625.2,640.9 L625.7,643.2 L626.2,645.4 L626.7,647.5 L627.2,649.5 L627.7,651.6 L628.2,653.5 L628.7,655.3 L629.2,656.9 L629.7,658.6 L630.2,660.2 L630.7,661.6 L631.2,663.1 L631.7,664.4 L632.2,665.8 L632.7,667.1 L633.2,668.3 L633.7,669.5 L634.2,670.4 L634.7,671.4 L635.2,672.3 L635.7,673.2 L636.2,674.2 L636.7,675.1 L637.2,676.0 L637.7,676.6 L638.2,677.2 L638.7,677.9 L639.2,678.6 L639.7,679.2 L640.2,679.7 L640.7,680.3 L641.2,680.8 L641.7,681.4 L642.2,681.8 L642.7,682.2 L643.2,682.4 L643.7,682.8 L644.2,683.1 L644.7,683.4 L645.2,683.8 L645.7,684.0 L646.2,684.2 L646.7,684.4 L647.2,684.7 L647.7,684.9 L648.2,685.2 L648.7,685.3 L649.2,685.5 L649.7,685.6 L650.2,685.6 L650.7,685.5 L651.2,685.5 L651.7,685.9 L652.2,686.4 L652.7,686.6 L653.2,686.7 L653.7,686.5 L654.2,686.6 L654.7,686.6 L655.2,686.5 L655.7,686.3 L656.2,686.5 L656.7,686.8 L657.2,687.2 L657.7,687.0 L658.2,687.1 L658.7,686.9 L659.2,687.1 L659.7,687.2 L660.2,687.2 L660.7,687.2 L661.2,687.5 L661.7,687.4 L662.2,687.8 L662.7,687.6 L663.2,687.8 L663.7,687.4 L664.2,687.4 L664.7,687.3 L665.2,687.6 L665.7,687.5 L666.2,687.8 L666.7,687.9 L667.2,688.5 L667.7,688.2 L668.2,687.9 L668.7,687.6 L669.2,687.7 L669.7,688.0 L670.2,688.1 L670.7,688.2 L671.2,688.4 L671.7,688.2 L672.2,688.5 L672.7,688.2 L673.2,688.7 L673.7,688.5 L674.2,688.6 L674.7,688.7 L675.2,688.9 L675.7,689.2 L676.2,689.4 L676.7,689.1 L677.2,689.3 L677.7,689.3 L678.2,689.4 L678.7,689.3 L679.2,689.4 L679.7,689.4 L680.2,689.7 L680.7,689.5 L681.2,689.5 L681.7,689.6 L682.2,690.0 L682.7,689.9 L683.2,689.8 L683.7,689.6 L684.2,689.8 L684.7,690.1 L685.2,690.2 L685.7,690.5 L686.2,690.3 L686.7,690.6 L687.2,690.1 L687.7,690.3 L688.2,690.1 L688.7,690.4 L689.2,690.6 L689.7,690.5 L690.2,690.5 L690.7,690.4 L691.2,690.4 L691.7,690.5 L692.2,690.5 L692.7,690.9 L693.2,691.2 L693.7,691.3 L694.2,691.4 L694.7,691.3 L695.2,691.4 L695.7,691.4 L696.2,691.7 L696.7,691.8 L697.2,692.0 L697.7,691.8 L698.2,692.1 L698.7,691.9 L699.2,692.1 L699.7,691.8 L700.2,692.0 L700.7,692.2 L701.2,692.3 L701.7,692.5 L702.2,692.5 L702.7,692.5 L703.2,692.2 L703.7,692.4 L704.2,692.6 L704.7,693.3 L705.2,693.2 L705.7,693.1 L706.2,693.0 L706.7,693.1 L707.2,693.3 L707.7,693.2 L708.2,693.4 L708.7,693.7 L709.2,693.9 L709.7,694.2 L710.2,694.1 L710.7,694.2 L711.2,693.7 L711.7,693.4 L712.2,693.8 L712.7,694.3 L713.2,694.9 L713.7,694.5 L714.2,694.3 L714.7,694.4 L715.2,694.7 L715.7,694.9 L716.2,694.8 L716.7,694.8 L717.2,694.6 L717.7,694.8 L718.2,694.9 L718.7,695.0 L719.2,694.9 L719.7,694.9 L720.2,695.2 L720.7,695.5 L721.2,695.6 L721.7,695.8 L722.2,695.6 L722.7,695.6 L723.2,695.7 L723.7,695.8 L724.2,695.9 L724.7,695.7 L725.2,696.0 L725.7,696.0 L726.2,696.2 L726.7,696.2 L727.2,696.5 L727.7,696.6 L728.2,696.6 L728.7,696.6 L729.2,696.6 L729.7,696.5 L730.2,696.7 L730.7,696.7 L731.2,696.8 L731.7,696.9 L732.2,697.0 L732.7,697.0 L733.2,697.0 L733.7,697.0 L734.2,696.8 L734.7,696.7 L735.2,696.6 L735.7,696.9 L736.2,696.9 L736.7,697.0 L737.2,696.9 L737.7,697.3 L738.2,697.5 L738.7,697.9 L739.2,697.8 L739.7,697.9 L740.2,697.8 L740.7,697.8 L741.2,697.9 L741.7,697.8 L742.2,697.7 L742.7,697.4 L743.2,697.6 L743.7,697.7 L744.2,698.2 L744.7,698.6 L745.2,698.7 L745.7,698.7 L746.2,698.6 L746.7,698.9 L747.2,699.2 L747.7,699.5 L748.2,699.3 L748.7,699.0 L749.2,698.9 L749.7,698.9 L750.2,698.8 L750.7,698.4 L751.2,698.6 L751.7,698.6" fill="none" stroke="#1fcfd9" stroke-width="1.15" stroke-linejoin="round"/>
<path d="M553.2,700.0 L553.7,700.1 L554.2,699.9 L554.7,699.8 L555.2,699.7 L555.7,699.8 L556.2,699.8 L556.7,699.7 L557.2,699.8 L557.7,699.8 L558.2,699.8 L558.7,699.7 L559.2,699.7 L559.7,699.6 L560.2,699.5 L560.7,699.3 L561.2,699.4 L561.7,699.3 L562.2,699.3 L562.7,699.1 L563.2,699.0 L563.7,699.1 L564.2,699.1 L564.7,699.2 L565.2,699.1 L565.7,699.1 L566.2,698.9 L566.7,698.8 L567.2,698.6 L567.7,698.5 L568.2,698.5 L568.7,698.3 L569.2,698.3 L569.7,698.3 L570.2,698.2 L570.7,697.9 L571.2,697.8 L571.7,697.7 L572.2,697.7 L572.7,697.4 L573.2,697.2 L573.7,697.1 L574.2,696.9 L574.7,696.7 L575.2,696.3 L575.7,696.2 L576.2,696.0 L576.7,695.8 L577.2,695.5 L577.7,695.0 L578.2,694.7 L578.7,694.3 L579.2,694.0 L579.7,693.4 L580.2,692.7 L580.7,692.1 L581.2,691.5 L581.7,690.8 L582.2,690.1 L582.7,689.1 L583.2,688.1 L583.7,687.1 L584.2,686.0 L584.7,684.9 L585.2,683.5 L585.7,682.1 L586.2,680.6 L586.7,679.0 L587.2,677.4 L587.7,675.6 L588.2,673.8 L588.7,671.7 L589.2,669.5 L589.7,667.2 L590.2,664.8 L590.7,662.3 L591.2,659.6 L591.7,656.8 L592.2,653.8 L592.7,650.7 L593.2,647.6 L593.7,644.4 L594.2,641.0 L594.7,637.7 L595.2,634.2 L595.7,630.6 L596.2,626.8 L596.7,623.1 L597.2,619.5 L597.7,615.8 L598.2,612.1 L598.7,608.4 L599.2,604.6 L599.7,601.0 L600.2,597.4 L600.7,593.9 L601.2,590.4 L601.7,587.0 L602.2,583.8 L602.7,580.6 L603.2,577.7 L603.7,575.0 L604.2,572.4 L604.7,570.1 L605.2,567.9 L605.7,566.0 L606.2,564.3 L606.7,563.0 L607.2,561.9 L607.7,561.1 L608.2,560.4 L608.7,560.0 L609.2,559.9 L609.7,560.2 L610.2,560.6 L610.7,561.3 L611.2,562.2 L611.7,563.3 L612.2,564.5 L612.7,565.9 L613.2,567.4 L613.7,569.3 L614.2,571.2 L614.7,573.5 L615.2,575.7 L615.7,578.0 L616.2,580.3 L616.7,583.0 L617.2,585.5 L617.7,588.2 L618.2,591.0 L618.7,594.0 L619.2,596.8 L619.7,599.5 L620.2,602.4 L620.7,605.3 L621.2,608.2 L621.7,610.9 L622.2,613.8 L622.7,616.5 L623.2,619.4 L623.7,622.1 L624.2,624.7 L624.7,627.4 L625.2,629.9 L625.7,632.5 L626.2,634.8 L626.7,637.2 L627.2,639.5 L627.7,641.8 L628.2,644.0 L628.7,646.2 L629.2,648.4 L629.7,650.5 L630.2,652.3 L630.7,654.2 L631.2,655.9 L631.7,657.7 L632.2,659.2 L632.7,660.8 L633.2,662.2 L633.7,663.8 L634.2,665.0 L634.7,666.4 L635.2,667.6 L635.7,668.7 L636.2,669.7 L636.7,670.8 L637.2,671.9 L637.7,672.8 L638.2,673.7 L638.7,674.5 L639.2,675.4 L639.7,676.2 L640.2,676.9 L640.7,677.5 L641.2,678.2 L641.7,678.8 L642.2,679.5 L642.7,680.0 L643.2,680.5 L643.7,680.9 L644.2,681.3 L644.7,681.7 L645.2,682.2 L645.7,682.5 L646.2,682.8 L646.7,683.0 L647.2,683.4 L647.7,683.7 L648.2,684.1 L648.7,684.4 L649.2,684.6 L649.7,684.7 L650.2,684.9 L650.7,684.8 L651.2,684.7 L651.7,684.8 L652.2,685.2 L652.7,685.7 L653.2,686.4 L653.7,686.5 L654.2,686.5 L654.7,686.4 L655.2,686.2 L655.7,686.4 L656.2,686.5 L656.7,686.9 L657.2,686.9 L657.7,686.8 L658.2,686.6 L658.7,686.7 L659.2,686.7 L659.7,687.0 L660.2,687.1 L660.7,687.4 L661.2,687.1 L661.7,687.5 L662.2,687.2 L662.7,687.4 L663.2,686.9 L663.7,687.0 L664.2,687.4 L664.7,687.9 L665.2,687.8 L665.7,687.8 L666.2,687.8 L666.7,687.8 L667.2,687.6 L667.7,687.3 L668.2,687.5 L668.7,687.2 L669.2,687.5 L669.7,687.5 L670.2,688.0 L670.7,688.0 L671.2,688.4 L671.7,688.5 L672.2,688.8 L672.7,688.8 L673.2,689.0 L673.7,689.1 L674.2,688.9 L674.7,688.7 L675.2,688.6 L675.7,688.6 L676.2,688.7 L676.7,688.9 L677.2,689.3 L677.7,689.3 L678.2,689.6 L678.7,689.6 L679.2,689.6 L679.7,689.6 L680.2,688.9 L680.7,689.3 L681.2,689.2 L681.7,689.9 L682.2,689.5 L682.7,690.0 L683.2,690.0 L683.7,690.4 L684.2,690.1 L684.7,690.1 L685.2,689.9 L685.7,690.0 L686.2,689.9 L686.7,690.3 L687.2,690.3 L687.7,690.7 L688.2,690.6 L688.7,690.8 L689.2,690.9 L689.7,691.4 L690.2,691.2 L690.7,691.5 L691.2,691.4 L691.7,691.6 L692.2,691.3 L692.7,691.2 L693.2,691.3 L693.7,691.4 L694.2,691.1 L694.7,691.0 L695.2,691.5 L695.7,691.8 L696.2,692.2 L696.7,692.0 L697.2,692.0 L697.7,691.9 L698.2,691.9 L698.7,692.3 L699.2,692.4 L699.7,692.7 L700.2,692.2 L700.7,692.5 L701.2,692.3 L701.7,692.6 L702.2,692.6 L702.7,692.6 L703.2,692.7 L703.7,692.6 L704.2,693.2 L704.7,693.3 L705.2,693.4 L705.7,693.2 L706.2,693.2 L706.7,692.8 L707.2,692.5 L707.7,693.0 L708.2,693.5 L708.7,693.6 L709.2,693.4 L709.7,693.4 L710.2,693.7 L710.7,693.9 L711.2,694.3 L711.7,694.4 L712.2,694.6 L712.7,694.1 L713.2,694.2 L713.7,694.1 L714.2,694.3 L714.7,694.5 L715.2,694.8 L715.7,694.8 L716.2,694.7 L716.7,695.0 L717.2,694.9 L717.7,695.3 L718.2,695.4 L718.7,695.7 L719.2,695.9 L719.7,695.9 L720.2,696.0 L720.7,695.5 L721.2,695.5 L721.7,695.6 L722.2,696.0 L722.7,696.0 L723.2,695.9 L723.7,696.3 L724.2,696.1 L724.7,696.3 L725.2,695.9 L725.7,695.9 L726.2,695.9 L726.7,696.0 L727.2,696.1 L727.7,696.3 L728.2,696.5 L728.7,696.9 L729.2,696.9 L729.7,696.7 L730.2,696.5 L730.7,696.6 L731.2,697.1 L731.7,697.4 L732.2,697.5 L732.7,697.3 L733.2,697.3 L733.7,696.9 L734.2,697.3 L734.7,697.3 L735.2,697.7 L735.7,697.5 L736.2,697.4 L736.7,697.3 L737.2,697.5 L737.7,697.3 L738.2,697.6 L738.7,697.6 L739.2,698.3 L739.7,698.2 L740.2,698.2 L740.7,697.9 L741.2,698.0 L741.7,698.1 L742.2,697.8 L742.7,697.7 L743.2,697.5 L743.7,697.7 L744.2,697.7 L744.7,697.7 L745.2,697.7 L745.7,698.1 L746.2,698.4 L746.7,698.8 L747.2,698.6 L747.7,698.8 L748.2,698.6 L748.7,698.3 L749.2,697.9 L749.7,697.8 L750.2,698.2 L750.7,698.4 L751.2,698.8 L751.7,698.7" fill="none" stroke="#1fa6f0" stroke-width="1.15" stroke-linejoin="round"/>
<path d="M553.2,700.0 L553.7,699.9 L554.2,700.0 L554.7,699.9 L555.2,700.0 L555.7,700.0 L556.2,700.0 L556.7,699.9 L557.2,699.8 L557.7,699.8 L558.2,699.9 L558.7,699.9 L559.2,699.8 L559.7,699.7 L560.2,699.5 L560.7,699.5 L561.2,699.5 L561.7,699.6 L562.2,699.6 L562.7,699.5 L563.2,699.5 L563.7,699.4 L564.2,699.4 L564.7,699.2 L565.2,699.3 L565.7,699.2 L566.2,699.2 L566.7,699.2 L567.2,699.0 L567.7,699.0 L568.2,698.9 L568.7,699.0 L569.2,699.0 L569.7,698.9 L570.2,698.8 L570.7,698.5 L571.2,698.4 L571.7,698.5 L572.2,698.3 L572.7,698.3 L573.2,698.2 L573.7,698.1 L574.2,697.9 L574.7,697.7 L575.2,697.7 L575.7,697.5 L576.2,697.4 L576.7,697.2 L577.2,697.0 L577.7,696.7 L578.2,696.5 L578.7,696.3 L579.2,696.2 L579.7,696.0 L580.2,695.7 L580.7,695.3 L581.2,694.9 L581.7,694.5 L582.2,694.2 L582.7,693.6 L583.2,693.2 L583.7,692.4 L584.2,692.0 L584.7,691.3 L585.2,690.8 L585.7,690.0 L586.2,689.3 L586.7,688.3 L587.2,687.4 L587.7,686.3 L588.2,685.1 L588.7,683.8 L589.2,682.4 L589.7,681.2 L590.2,679.8 L590.7,678.3 L591.2,676.6 L591.7,674.8 L592.2,672.9 L592.7,671.0 L593.2,668.9 L593.7,666.7 L594.2,664.2 L594.7,661.8 L595.2,659.3 L595.7,656.7 L596.2,654.0 L596.7,651.2 L597.2,648.2 L597.7,645.3 L598.2,642.1 L598.7,639.0 L599.2,635.8 L599.7,632.6 L600.2,629.4 L600.7,626.1 L601.2,622.6 L601.7,619.2 L602.2,615.9 L602.7,612.7 L603.2,609.3 L603.7,606.0 L604.2,602.7 L604.7,599.7 L605.2,596.6 L605.7,593.7 L606.2,590.8 L606.7,588.1 L607.2,585.5 L607.7,583.2 L608.2,580.9 L608.7,578.9 L609.2,577.1 L609.7,575.5 L610.2,574.0 L610.7,572.7 L611.2,571.7 L611.7,571.0 L612.2,570.4 L612.7,570.0 L613.2,569.9 L613.7,570.1 L614.2,570.7 L614.7,571.3 L615.2,572.1 L615.7,573.1 L616.2,574.3 L616.7,575.6 L617.2,577.2 L617.7,578.9 L618.2,580.8 L618.7,582.9 L619.2,585.0 L619.7,587.3 L620.2,589.5 L620.7,592.1 L621.2,594.7 L621.7,597.4 L622.2,599.8 L622.7,602.5 L623.2,605.2 L623.7,608.0 L624.2,610.7 L624.7,613.2 L625.2,615.8 L625.7,618.5 L626.2,621.2 L626.7,623.8 L627.2,626.4 L627.7,628.9 L628.2,631.4 L628.7,633.9 L629.2,636.3 L629.7,638.6 L630.2,640.8 L630.7,643.1 L631.2,645.3 L631.7,647.4 L632.2,649.4 L632.7,651.4 L633.2,653.3 L633.7,655.1 L634.2,656.8 L634.7,658.5 L635.2,660.2 L635.7,661.7 L636.2,663.1 L636.7,664.5 L637.2,665.9 L637.7,667.3 L638.2,668.5 L638.7,669.6 L639.2,670.7 L639.7,671.9 L640.2,672.9 L640.7,673.9 L641.2,674.7 L641.7,675.6 L642.2,676.3 L642.7,677.0 L643.2,677.7 L643.7,678.4 L644.2,679.1 L644.7,679.6 L645.2,680.2 L645.7,680.6 L646.2,681.1 L646.7,681.6 L647.2,682.1 L647.7,682.3 L648.2,682.7 L648.7,683.1 L649.2,683.6 L649.7,683.9 L650.2,684.0 L650.7,683.8 L651.2,684.2 L651.7,684.6 L652.2,685.3 L652.7,685.5 L653.2,685.8 L653.7,685.8 L654.2,685.7 L654.7,685.7 L655.2,685.7 L655.7,686.1 L656.2,686.1 L656.7,686.3 L657.2,686.3 L657.7,686.7 L658.2,686.5 L658.7,686.3 L659.2,686.3 L659.7,686.7 L660.2,687.1 L660.7,687.4 L661.2,688.0 L661.7,688.1 L662.2,688.2 L662.7,687.9 L663.2,688.0 L663.7,688.0 L664.2,688.2 L664.7,688.1 L665.2,688.3 L665.7,688.6 L666.2,688.6 L666.7,688.1 L667.2,688.0 L667.7,688.2 L668.2,688.6 L668.7,688.6 L669.2,689.0 L669.7,689.0 L670.2,688.9 L670.7,688.3 L671.2,688.7 L671.7,688.8 L672.2,688.8 L672.7,688.7 L673.2,688.9 L673.7,689.1 L674.2,689.1 L674.7,688.9 L675.2,689.0 L675.7,688.8 L676.2,689.2 L676.7,689.0 L677.2,689.3 L677.7,689.0 L678.2,689.2 L678.7,689.2 L679.2,689.8 L679.7,689.9 L680.2,690.2 L680.7,689.6 L681.2,689.5 L681.7,689.5 L682.2,689.6 L682.7,690.1 L683.2,690.1 L683.7,690.4 L684.2,690.3 L684.7,690.4 L685.2,690.5 L685.7,690.5 L686.2,690.6 L686.7,690.8 L687.2,691.0 L687.7,691.1 L688.2,690.8 L688.7,690.9 L689.2,691.0 L689.7,691.1 L690.2,690.9 L690.7,691.0 L691.2,691.0 L691.7,691.4 L692.2,691.4 L692.7,691.9 L693.2,691.7 L693.7,691.5 L694.2,691.4 L694.7,691.5 L695.2,691.7 L695.7,691.7 L696.2,691.7 L696.7,692.0 L697.2,692.3 L697.7,692.7 L698.2,692.4 L698.7,692.3 L699.2,692.2 L699.7,692.5 L700.2,692.3 L700.7,692.5 L701.2,692.4 L701.7,692.6 L702.2,692.7 L702.7,692.9 L703.2,692.8 L703.7,693.0 L704.2,693.1 L704.7,693.2 L705.2,693.1 L705.7,693.3 L706.2,693.5 L706.7,693.7 L707.2,693.4 L707.7,693.4 L708.2,693.3 L708.7,693.6 L709.2,694.0 L709.7,694.4 L710.2,694.5 L710.7,694.5 L711.2,694.4 L711.7,694.6 L712.2,694.6 L712.7,694.7 L713.2,694.5 L713.7,694.6 L714.2,694.7 L714.7,695.3 L715.2,695.4 L715.7,695.3 L716.2,695.1 L716.7,695.0 L717.2,695.4 L717.7,695.5 L718.2,696.2 L718.7,695.8 L719.2,695.7 L719.7,695.3 L720.2,695.7 L720.7,695.9 L721.2,695.9 L721.7,695.8 L722.2,695.8 L722.7,696.1 L723.2,696.0 L723.7,695.8 L724.2,695.9 L724.7,696.2 L725.2,696.8 L725.7,696.6 L726.2,696.6 L726.7,696.5 L727.2,696.8 L727.7,696.8 L728.2,696.8 L728.7,696.9 L729.2,696.9 L729.7,696.8 L730.2,696.5 L730.7,696.7 L731.2,696.9 L731.7,697.1 L732.2,697.1 L732.7,697.3 L733.2,697.5 L733.7,697.7 L734.2,697.8 L734.7,697.6 L735.2,697.6 L735.7,697.4 L736.2,697.4 L736.7,697.3 L737.2,697.4 L737.7,697.4 L738.2,697.5 L738.7,697.5 L739.2,697.7 L739.7,697.8 L740.2,698.3 L740.7,698.5 L741.2,698.5 L741.7,698.1 L742.2,698.0 L742.7,698.1 L743.2,698.1 L743.7,698.5 L744.2,698.2 L744.7,698.4 L745.2,698.3 L745.7,698.4 L746.2,698.4 L746.7,698.4 L747.2,698.6 L747.7,698.9 L748.2,698.9 L748.7,698.9 L749.2,698.6 L749.7,698.4 L750.2,698.5 L750.7,698.6 L751.2,698.5 L751.7,698.5" fill="none" stroke="#1f5df0" stroke-width="1.15" stroke-linejoin="round"/>
<path d="M553.2,700.1 L553.7,700.1 L554.2,700.1 L554.7,700.1 L555.2,700.1 L555.7,700.1 L556.2,700.0 L556.7,700.0 L557.2,700.0 L557.7,700.0 L558.2,699.9 L558.7,700.0 L559.2,699.9 L559.7,699.9 L560.2,700.0 L560.7,699.9 L561.2,699.9 L561.7,699.8 L562.2,699.8 L562.7,699.8 L563.2,699.7 L563.7,699.7 L564.2,699.7 L564.7,699.5 L565.2,699.5 L565.7,699.4 L566.2,699.4 L566.7,699.3 L567.2,699.2 L567.7,699.2 L568.2,699.3 L568.7,699.2 L569.2,699.2 L569.7,699.0 L570.2,699.1 L570.7,698.9 L571.2,699.0 L571.7,698.9 L572.2,698.9 L572.7,698.7 L573.2,698.6 L573.7,698.6 L574.2,698.6 L574.7,698.5 L575.2,698.4 L575.7,698.3 L576.2,698.2 L576.7,698.1 L577.2,698.2 L577.7,698.1 L578.2,698.0 L578.7,697.7 L579.2,697.5 L579.7,697.3 L580.2,697.1 L580.7,697.0 L581.2,696.9 L581.7,696.6 L582.2,696.4 L582.7,696.3 L583.2,696.0 L583.7,695.7 L584.2,695.3 L584.7,695.1 L585.2,694.6 L585.7,694.2 L586.2,693.7 L586.7,693.3 L587.2,692.9 L587.7,692.4 L588.2,691.9 L588.7,691.1 L589.2,690.4 L589.7,689.5 L590.2,688.8 L590.7,687.8 L591.2,686.9 L591.7,685.8 L592.2,684.7 L592.7,683.5 L593.2,682.3 L593.7,680.9 L594.2,679.4 L594.7,678.0 L595.2,676.4 L595.7,674.9 L596.2,673.0 L596.7,671.0 L597.2,669.0 L597.7,667.0 L598.2,665.0 L598.7,662.8 L599.2,660.6 L599.7,658.2 L600.2,655.7 L600.7,653.1 L601.2,650.4 L601.7,647.7 L602.2,644.9 L602.7,642.1 L603.2,639.2 L603.7,636.4 L604.2,633.5 L604.7,630.5 L605.2,627.6 L605.7,624.6 L606.2,621.7 L606.7,618.7 L607.2,615.8 L607.7,612.9 L608.2,610.2 L608.7,607.4 L609.2,604.9 L609.7,602.3 L610.2,599.9 L610.7,597.5 L611.2,595.3 L611.7,593.3 L612.2,591.4 L612.7,589.7 L613.2,588.0 L613.7,586.4 L614.2,585.3 L614.7,584.3 L615.2,583.4 L615.7,582.7 L616.2,582.2 L616.7,582.1 L617.2,582.0 L617.7,582.3 L618.2,582.6 L618.7,583.1 L619.2,583.7 L619.7,584.6 L620.2,585.7 L620.7,587.1 L621.2,588.5 L621.7,590.1 L622.2,591.7 L622.7,593.5 L623.2,595.4 L623.7,597.6 L624.2,599.8 L624.7,602.0 L625.2,604.3 L625.7,606.5 L626.2,608.9 L626.7,611.2 L627.2,613.7 L627.7,616.1 L628.2,618.5 L628.7,621.0 L629.2,623.4 L629.7,625.9 L630.2,628.2 L630.7,630.5 L631.2,632.9 L631.7,635.2 L632.2,637.5 L632.7,639.7 L633.2,642.0 L633.7,644.1 L634.2,646.1 L634.7,647.9 L635.2,649.8 L635.7,651.7 L636.2,653.5 L636.7,655.3 L637.2,657.1 L637.7,658.8 L638.2,660.4 L638.7,661.8 L639.2,663.3 L639.7,664.7 L640.2,666.1 L640.7,667.3 L641.2,668.6 L641.7,669.8 L642.2,670.9 L642.7,672.0 L643.2,673.0 L643.7,673.9 L644.2,674.8 L644.7,675.6 L645.2,676.4 L645.7,677.2 L646.2,678.0 L646.7,678.7 L647.2,679.3 L647.7,679.8 L648.2,680.4 L648.7,680.9 L649.2,681.4 L649.7,681.9 L650.2,682.1 L650.7,682.7 L651.2,682.8 L651.7,683.5 L652.2,683.2 L652.7,683.8 L653.2,684.3 L653.7,685.1 L654.2,685.4 L654.7,685.3 L655.2,685.5 L655.7,685.7 L656.2,686.0 L656.7,686.2 L657.2,686.4 L657.7,686.5 L658.2,686.6 L658.7,686.7 L659.2,686.9 L659.7,687.4 L660.2,687.4 L660.7,687.9 L661.2,688.0 L661.7,687.8 L662.2,687.5 L662.7,687.5 L663.2,688.0 L663.7,688.1 L664.2,688.1 L664.7,687.9 L665.2,688.0 L665.7,688.0 L666.2,688.2 L666.7,688.8 L667.2,688.9 L667.7,689.2 L668.2,688.7 L668.7,688.6 L669.2,688.5 L669.7,689.0 L670.2,689.0 L670.7,688.9 L671.2,688.6 L671.7,689.0 L672.2,689.1 L672.7,689.1 L673.2,688.8 L673.7,689.3 L674.2,689.5 L674.7,689.9 L675.2,689.8 L675.7,689.7 L676.2,689.7 L676.7,689.6 L677.2,689.5 L677.7,689.4 L678.2,689.7 L678.7,689.9 L679.2,690.4 L679.7,690.0 L680.2,690.1 L680.7,690.0 L681.2,690.6 L681.7,690.7 L682.2,690.4 L682.7,690.2 L683.2,690.4 L683.7,690.7 L684.2,690.8 L684.7,690.6 L685.2,690.6 L685.7,690.8 L686.2,690.6 L686.7,690.7 L687.2,691.0 L687.7,691.6 L688.2,691.8 L688.7,691.6 L689.2,691.5 L689.7,691.5 L690.2,691.4 L690.7,691.3 L691.2,691.5 L691.7,692.1 L692.2,692.2 L692.7,692.3 L693.2,692.0 L693.7,692.2 L694.2,692.3 L694.7,692.5 L695.2,692.1 L695.7,692.1 L696.2,692.0 L696.7,691.7 L697.2,692.0 L697.7,692.2 L698.2,692.8 L698.7,692.6 L699.2,692.7 L699.7,693.0 L700.2,693.0 L700.7,693.1 L701.2,693.0 L701.7,693.3 L702.2,693.1 L702.7,693.2 L703.2,693.0 L703.7,693.3 L704.2,693.6 L704.7,694.0 L705.2,694.1 L705.7,693.9 L706.2,693.8 L706.7,693.8 L707.2,693.8 L707.7,693.8 L708.2,693.5 L708.7,693.5 L709.2,693.5 L709.7,694.0 L710.2,694.5 L710.7,694.4 L711.2,694.3 L711.7,694.2 L712.2,694.4 L712.7,694.7 L713.2,694.7 L713.7,695.0 L714.2,695.0 L714.7,695.2 L715.2,695.5 L715.7,695.6 L716.2,695.5 L716.7,695.6 L717.2,695.7 L717.7,695.6 L718.2,695.5 L718.7,695.7 L719.2,695.8 L719.7,695.9 L720.2,696.0 L720.7,696.0 L721.2,696.1 L721.7,696.1 L722.2,696.5 L722.7,696.7 L723.2,696.4 L723.7,696.4 L724.2,696.4 L724.7,696.8 L725.2,696.7 L725.7,696.8 L726.2,696.9 L726.7,696.7 L727.2,697.0 L727.7,696.8 L728.2,696.9 L728.7,696.7 L729.2,696.7 L729.7,697.0 L730.2,697.0 L730.7,697.3 L731.2,697.5 L731.7,697.6 L732.2,697.6 L732.7,697.7 L733.2,697.5 L733.7,697.6 L734.2,697.5 L734.7,697.7 L735.2,697.8 L735.7,698.1 L736.2,698.4 L736.7,697.9 L737.2,697.7 L737.7,697.5 L738.2,697.8 L738.7,697.9 L739.2,697.9 L739.7,698.2 L740.2,698.2 L740.7,698.4 L741.2,698.3 L741.7,698.4 L742.2,698.6 L742.7,698.7 L743.2,698.6 L743.7,698.5 L744.2,698.0 L744.7,697.8 L745.2,697.9 L745.7,698.1 L746.2,698.6 L746.7,698.9 L747.2,699.0 L747.7,698.8 L748.2,699.0 L748.7,699.1 L749.2,699.1 L749.7,698.7 L750.2,698.8 L750.7,698.6 L751.2,698.7 L751.7,698.7" fill="none" stroke="#3d1fe0" stroke-width="1.15" stroke-linejoin="round"/>
<path d="M553.2,700.2 L553.7,700.1 L554.2,700.1 L554.7,700.2 L555.2,700.2 L555.7,700.2 L556.2,700.2 L556.7,700.3 L557.2,700.1 L557.7,700.0 L558.2,699.9 L558.7,699.9 L559.2,700.0 L559.7,699.9 L560.2,699.9 L560.7,699.8 L561.2,699.9 L561.7,699.8 L562.2,699.8 L562.7,699.8 L563.2,699.9 L563.7,699.9 L564.2,699.9 L564.7,699.9 L565.2,699.8 L565.7,699.8 L566.2,699.7 L566.7,699.7 L567.2,699.7 L567.7,699.6 L568.2,699.5 L568.7,699.4 L569.2,699.3 L569.7,699.4 L570.2,699.4 L570.7,699.4 L571.2,699.3 L571.7,699.4 L572.2,699.4 L572.7,699.3 L573.2,699.2 L573.7,699.2 L574.2,699.1 L574.7,699.0 L575.2,698.9 L575.7,698.9 L576.2,698.8 L576.7,698.7 L577.2,698.6 L577.7,698.5 L578.2,698.5 L578.7,698.4 L579.2,698.4 L579.7,698.3 L580.2,698.2 L580.7,698.1 L581.2,698.1 L581.7,698.0 L582.2,697.8 L582.7,697.8 L583.2,697.7 L583.7,697.5 L584.2,697.3 L584.7,697.0 L585.2,696.9 L585.7,696.7 L586.2,696.4 L586.7,696.1 L587.2,696.0 L587.7,695.7 L588.2,695.4 L588.7,695.0 L589.2,694.6 L589.7,694.4 L590.2,694.0 L590.7,693.6 L591.2,693.1 L591.7,692.6 L592.2,692.1 L592.7,691.5 L593.2,690.8 L593.7,690.2 L594.2,689.6 L594.7,688.9 L595.2,688.0 L595.7,687.3 L596.2,686.4 L596.7,685.5 L597.2,684.5 L597.7,683.4 L598.2,682.3 L598.7,681.0 L599.2,679.8 L599.7,678.6 L600.2,677.2 L600.7,675.9 L601.2,674.6 L601.7,673.0 L602.2,671.4 L602.7,669.7 L603.2,668.1 L603.7,666.6 L604.2,664.9 L604.7,663.2 L605.2,661.3 L605.7,659.5 L606.2,657.5 L606.7,655.5 L607.2,653.5 L607.7,651.5 L608.2,649.6 L608.7,647.6 L609.2,645.5 L609.7,643.5 L610.2,641.5 L610.7,639.5 L611.2,637.5 L611.7,635.7 L612.2,633.8 L612.7,632.1 L613.2,630.2 L613.7,628.4 L614.2,626.6 L614.7,624.9 L615.2,623.4 L615.7,621.9 L616.2,620.4 L616.7,619.1 L617.2,617.9 L617.7,616.8 L618.2,615.8 L618.7,614.9 L619.2,614.2 L619.7,613.6 L620.2,613.0 L620.7,612.6 L621.2,612.4 L621.7,612.2 L622.2,612.0 L622.7,612.1 L623.2,612.4 L623.7,612.8 L624.2,613.2 L624.7,613.8 L625.2,614.6 L625.7,615.5 L626.2,616.5 L626.7,617.5 L627.2,618.8 L627.7,620.2 L628.2,621.7 L628.7,623.1 L629.2,624.5 L629.7,626.0 L630.2,627.7 L630.7,629.3 L631.2,630.9 L631.7,632.6 L632.2,634.4 L632.7,636.1 L633.2,638.0 L633.7,639.8 L634.2,641.5 L634.7,643.3 L635.2,645.0 L635.7,646.6 L636.2,648.3 L636.7,649.9 L637.2,651.6 L637.7,653.3 L638.2,654.9 L638.7,656.4 L639.2,657.9 L639.7,659.4 L640.2,660.9 L640.7,662.3 L641.2,663.5 L641.7,664.8 L642.2,665.9 L642.7,667.3 L643.2,668.6 L643.7,669.8 L644.2,670.7 L644.7,671.8 L645.2,672.8 L645.7,673.9 L646.2,674.7 L646.7,675.6 L647.2,676.5 L647.7,677.3 L648.2,678.1 L648.7,678.8 L649.2,679.5 L649.7,680.2 L650.2,680.9 L650.7,681.5 L651.2,682.0 L651.7,682.6 L652.2,682.8 L652.7,683.2 L653.2,683.4 L653.7,684.3 L654.2,684.8 L654.7,685.6 L655.2,685.3 L655.7,685.5 L656.2,685.5 L656.7,686.4 L657.2,687.0 L657.7,687.2 L658.2,687.2 L658.7,687.3 L659.2,687.8 L659.7,687.8 L660.2,688.1 L660.7,688.0 L661.2,688.5 L661.7,688.5 L662.2,688.6 L662.7,688.9 L663.2,689.0 L663.7,688.8 L664.2,688.9 L664.7,689.0 L665.2,689.3 L665.7,689.3 L666.2,689.5 L666.7,689.7 L667.2,690.0 L667.7,690.0 L668.2,689.8 L668.7,690.0 L669.2,690.2 L669.7,690.4 L670.2,690.3 L670.7,689.9 L671.2,690.0 L671.7,690.0 L672.2,690.1 L672.7,690.2 L673.2,690.3 L673.7,690.8 L674.2,690.9 L674.7,691.1 L675.2,691.1 L675.7,691.0 L676.2,691.1 L676.7,691.1 L677.2,690.9 L677.7,690.9 L678.2,690.9 L678.7,691.2 L679.2,691.6 L679.7,691.9 L680.2,691.9 L680.7,691.4 L681.2,691.4 L681.7,691.7 L682.2,691.8 L682.7,691.5 L683.2,691.6 L683.7,691.9 L684.2,692.2 L684.7,692.1 L685.2,692.3 L685.7,692.5 L686.2,692.9 L686.7,692.8 L687.2,693.1 L687.7,692.6 L688.2,692.4 L688.7,692.0 L689.2,692.8 L689.7,693.0 L690.2,693.2 L690.7,692.8 L691.2,692.5 L691.7,692.1 L692.2,692.7 L692.7,693.0 L693.2,693.6 L693.7,693.1 L694.2,693.1 L694.7,693.0 L695.2,693.3 L695.7,693.5 L696.2,693.5 L696.7,693.5 L697.2,693.5 L697.7,693.8 L698.2,694.0 L698.7,694.0 L699.2,693.7 L699.7,693.9 L700.2,693.8 L700.7,693.9 L701.2,694.0 L701.7,694.0 L702.2,694.1 L702.7,694.2 L703.2,694.6 L703.7,694.7 L704.2,694.7 L704.7,694.7 L705.2,694.9 L705.7,694.8 L706.2,694.8 L706.7,694.9 L707.2,695.1 L707.7,695.2 L708.2,695.3 L708.7,695.3 L709.2,695.2 L709.7,695.6 L710.2,695.5 L710.7,695.5 L711.2,695.2 L711.7,695.5 L712.2,695.5 L712.7,695.8 L713.2,695.8 L713.7,695.9 L714.2,695.7 L714.7,695.3 L715.2,695.6 L715.7,695.6 L716.2,695.8 L716.7,695.7 L717.2,695.9 L717.7,696.2 L718.2,696.6 L718.7,696.4 L719.2,696.3 L719.7,696.1 L720.2,696.3 L720.7,696.3 L721.2,696.4 L721.7,696.9 L722.2,697.3 L722.7,697.3 L723.2,697.1 L723.7,696.8 L724.2,697.0 L724.7,696.8 L725.2,696.6 L725.7,696.6 L726.2,697.0 L726.7,697.4 L727.2,697.2 L727.7,697.1 L728.2,697.0 L728.7,697.4 L729.2,697.2 L729.7,697.5 L730.2,697.5 L730.7,697.9 L731.2,697.9 L731.7,697.6 L732.2,697.4 L732.7,697.5 L733.2,698.0 L733.7,698.3 L734.2,698.2 L734.7,698.1 L735.2,697.9 L735.7,698.1 L736.2,698.5 L736.7,698.8 L737.2,698.5 L737.7,698.5 L738.2,698.1 L738.7,698.3 L739.2,698.0 L739.7,698.3 L740.2,698.5 L740.7,698.8 L741.2,698.7 L741.7,698.8 L742.2,698.6 L742.7,698.7 L743.2,698.5 L743.7,698.6 L744.2,698.7 L744.7,698.9 L745.2,698.9 L745.7,698.8 L746.2,698.8 L746.7,699.0 L747.2,699.1 L747.7,699.4 L748.2,699.2 L748.7,699.5 L749.2,698.6 L749.7,698.9 L750.2,698.5 L750.7,699.4 L751.2,699.1 L751.7,699.2" fill="none" stroke="#a01fe0" stroke-width="1.15" stroke-linejoin="round"/>
<path d="M553.2,700.2 L553.7,700.2 L554.2,700.2 L554.7,700.2 L555.2,700.2 L555.7,700.2 L556.2,700.1 L556.7,700.1 L557.2,700.2 L557.7,700.2 L558.2,700.1 L558.7,700.0 L559.2,700.0 L559.7,699.9 L560.2,700.0 L560.7,700.1 L561.2,700.1 L561.7,700.0 L562.2,700.0 L562.7,699.9 L563.2,699.9 L563.7,699.9 L564.2,699.9 L564.7,699.7 L565.2,699.8 L565.7,699.8 L566.2,699.9 L566.7,699.9 L567.2,699.8 L567.7,699.8 L568.2,699.8 L568.7,699.7 L569.2,699.6 L569.7,699.4 L570.2,699.5 L570.7,699.5 L571.2,699.6 L571.7,699.6 L572.2,699.5 L572.7,699.5 L573.2,699.4 L573.7,699.3 L574.2,699.3 L574.7,699.3 L575.2,699.3 L575.7,699.2 L576.2,699.3 L576.7,699.2 L577.2,699.1 L577.7,699.1 L578.2,699.0 L578.7,699.0 L579.2,698.8 L579.7,698.6 L580.2,698.6 L580.7,698.5 L581.2,698.5 L581.7,698.4 L582.2,698.3 L582.7,698.2 L583.2,698.1 L583.7,697.9 L584.2,697.8 L584.7,697.7 L585.2,697.5 L585.7,697.5 L586.2,697.4 L586.7,697.1 L587.2,696.9 L587.7,696.9 L588.2,696.8 L588.7,696.6 L589.2,696.2 L589.7,696.0 L590.2,695.8 L590.7,695.5 L591.2,695.2 L591.7,694.8 L592.2,694.4 L592.7,693.9 L593.2,693.6 L593.7,693.1 L594.2,692.7 L594.7,692.1 L595.2,691.6 L595.7,691.0 L596.2,690.5 L596.7,689.8 L597.2,689.0 L597.7,688.3 L598.2,687.6 L598.7,686.8 L599.2,686.0 L599.7,685.1 L600.2,684.1 L600.7,683.1 L601.2,682.0 L601.7,681.0 L602.2,679.8 L602.7,678.6 L603.2,677.4 L603.7,676.1 L604.2,674.7 L604.7,673.2 L605.2,671.9 L605.7,670.5 L606.2,668.9 L606.7,667.3 L607.2,665.6 L607.7,664.0 L608.2,662.3 L608.7,660.6 L609.2,658.8 L609.7,657.1 L610.2,655.3 L610.7,653.5 L611.2,651.8 L611.7,650.1 L612.2,648.2 L612.7,646.3 L613.2,644.3 L613.7,642.5 L614.2,640.8 L614.7,639.1 L615.2,637.3 L615.7,635.6 L616.2,634.0 L616.7,632.5 L617.2,630.9 L617.7,629.4 L618.2,628.0 L618.7,626.8 L619.2,625.4 L619.7,624.4 L620.2,623.3 L620.7,622.3 L621.2,621.3 L621.7,620.5 L622.2,619.8 L622.7,619.3 L623.2,618.8 L623.7,618.4 L624.2,618.2 L624.7,618.0 L625.2,618.0 L625.7,618.1 L626.2,618.3 L626.7,618.6 L627.2,619.1 L627.7,619.6 L628.2,620.2 L628.7,620.8 L629.2,621.6 L629.7,622.5 L630.2,623.6 L630.7,624.8 L631.2,625.8 L631.7,627.2 L632.2,628.4 L632.7,629.7 L633.2,631.0 L633.7,632.5 L634.2,633.9 L634.7,635.3 L635.2,636.8 L635.7,638.4 L636.2,640.1 L636.7,641.7 L637.2,643.2 L637.7,644.7 L638.2,646.1 L638.7,647.7 L639.2,649.2 L639.7,650.8 L640.2,652.3 L640.7,653.8 L641.2,655.2 L641.7,656.5 L642.2,657.8 L642.7,659.2 L643.2,660.5 L643.7,661.9 L644.2,663.2 L644.7,664.4 L645.2,665.6 L645.7,666.7 L646.2,667.9 L646.7,669.0 L647.2,670.0 L647.7,671.0 L648.2,671.8 L648.7,672.8 L649.2,673.7 L649.7,674.7 L650.2,675.5 L650.7,676.3 L651.2,676.9 L651.7,678.0 L652.2,678.7 L652.7,679.1 L653.2,679.5 L653.7,680.7 L654.2,681.6 L654.7,682.0 L655.2,682.2 L655.7,682.4 L656.2,683.3 L656.7,683.7 L657.2,684.5 L657.7,684.6 L658.2,685.3 L658.7,685.6 L659.2,685.9 L659.7,685.7 L660.2,685.8 L660.7,686.2 L661.2,686.6 L661.7,687.3 L662.2,687.6 L662.7,687.8 L663.2,687.7 L663.7,687.7 L664.2,688.1 L664.7,688.2 L665.2,688.3 L665.7,688.7 L666.2,688.9 L666.7,689.3 L667.2,689.2 L667.7,689.0 L668.2,689.0 L668.7,689.0 L669.2,689.3 L669.7,689.6 L670.2,690.0 L670.7,689.9 L671.2,690.0 L671.7,689.7 L672.2,689.9 L672.7,690.3 L673.2,690.9 L673.7,690.9 L674.2,691.0 L674.7,690.9 L675.2,691.3 L675.7,691.4 L676.2,691.3 L676.7,691.2 L677.2,690.8 L677.7,691.0 L678.2,691.0 L678.7,691.2 L679.2,691.2 L679.7,691.2 L680.2,691.4 L680.7,691.8 L681.2,691.8 L681.7,692.0 L682.2,691.6 L682.7,691.7 L683.2,691.6 L683.7,691.9 L684.2,692.0 L684.7,691.9 L685.2,691.8 L685.7,691.9 L686.2,692.1 L686.7,692.1 L687.2,692.2 L687.7,692.3 L688.2,692.4 L688.7,692.7 L689.2,692.7 L689.7,692.8 L690.2,692.9 L690.7,693.2 L691.2,693.4 L691.7,693.3 L692.2,693.2 L692.7,693.2 L693.2,693.2 L693.7,693.3 L694.2,693.7 L694.7,693.3 L695.2,693.5 L695.7,693.3 L696.2,693.6 L696.7,693.4 L697.2,693.4 L697.7,693.4 L698.2,693.4 L698.7,693.7 L699.2,693.6 L699.7,693.8 L700.2,693.4 L700.7,693.7 L701.2,693.9 L701.7,694.4 L702.2,694.5 L702.7,694.3 L703.2,694.4 L703.7,694.3 L704.2,694.8 L704.7,694.8 L705.2,695.0 L705.7,695.0 L706.2,695.0 L706.7,695.3 L707.2,695.1 L707.7,695.2 L708.2,695.2 L708.7,695.3 L709.2,695.5 L709.7,695.5 L710.2,695.5 L710.7,695.6 L711.2,695.5 L711.7,695.4 L712.2,694.9 L712.7,695.0 L713.2,695.2 L713.7,695.9 L714.2,696.2 L714.7,696.4 L715.2,696.6 L715.7,696.6 L716.2,696.3 L716.7,696.1 L717.2,696.0 L717.7,696.3 L718.2,696.5 L718.7,696.7 L719.2,697.1 L719.7,696.6 L720.2,696.6 L720.7,696.5 L721.2,696.6 L721.7,696.7 L722.2,696.6 L722.7,696.5 L723.2,696.8 L723.7,696.6 L724.2,697.0 L724.7,697.1 L725.2,697.0 L725.7,697.2 L726.2,696.9 L726.7,697.4 L727.2,697.2 L727.7,697.5 L728.2,697.2 L728.7,697.5 L729.2,697.4 L729.7,697.7 L730.2,697.5 L730.7,697.5 L731.2,697.7 L731.7,697.9 L732.2,697.9 L732.7,697.6 L733.2,697.6 L733.7,697.8 L734.2,698.2 L734.7,698.3 L735.2,697.9 L735.7,698.3 L736.2,698.1 L736.7,698.4 L737.2,697.6 L737.7,697.9 L738.2,698.0 L738.7,698.3 L739.2,698.1 L739.7,698.2 L740.2,698.2 L740.7,698.5 L741.2,698.5 L741.7,698.6 L742.2,698.2 L742.7,698.3 L743.2,698.3 L743.7,698.5 L744.2,698.4 L744.7,698.6 L745.2,698.6 L745.7,698.2 L746.2,698.1 L746.7,698.2 L747.2,698.4 L747.7,699.0 L748.2,699.7 L748.7,699.7 L749.2,699.4 L749.7,699.1 L750.2,699.1 L750.7,698.8 L751.2,698.9 L751.7,699.0" fill="none" stroke="#f01fb0" stroke-width="1.15" stroke-linejoin="round"/>
<path d="M553.2,700.2 L553.7,700.0 L554.2,699.4 L554.7,699.7 L555.2,700.0 L555.7,700.3 L556.2,700.2 L556.7,700.3 L557.2,700.0 L557.7,700.0 L558.2,699.9 L558.7,699.9 L559.2,699.9 L559.7,699.9 L560.2,700.1 L560.7,700.1 L561.2,700.1 L561.7,700.0 L562.2,700.3 L562.7,699.9 L563.2,699.7 L563.7,699.3 L564.2,699.7 L564.7,699.4 L565.2,699.4 L565.7,699.1 L566.2,699.5 L566.7,699.3 L567.2,699.2 L567.7,699.0 L568.2,699.5 L568.7,699.2 L569.2,699.1 L569.7,699.1 L570.2,699.6 L570.7,699.6 L571.2,699.3 L571.7,698.8 L572.2,699.0 L572.7,698.9 L573.2,699.5 L573.7,699.3 L574.2,699.2 L574.7,698.8 L575.2,698.8 L575.7,698.9 L576.2,699.1 L576.7,699.1 L577.2,699.0 L577.7,698.8 L578.2,698.6 L578.7,698.4 L579.2,698.3 L579.7,698.2 L580.2,698.1 L580.7,697.9 L581.2,697.7 L581.7,697.7 L582.2,697.7 L582.7,697.6 L583.2,697.4 L583.7,697.2 L584.2,697.2 L584.7,697.2 L585.2,696.6 L585.7,696.3 L586.2,696.0 L586.7,695.9 L587.2,695.6 L587.7,695.4 L588.2,695.4 L588.7,695.5 L589.2,695.4 L589.7,695.2 L590.2,694.8 L590.7,694.1 L591.2,693.5 L591.7,693.1 L592.2,693.2 L592.7,692.7 L593.2,692.6 L593.7,691.9 L594.2,691.6 L594.7,690.6 L595.2,690.4 L595.7,690.1 L596.2,689.9 L596.7,688.8 L597.2,688.2 L597.7,687.4 L598.2,687.3 L598.7,686.7 L599.2,686.3 L599.7,685.4 L600.2,684.7 L600.7,683.6 L601.2,683.3 L601.7,682.8 L602.2,682.2 L602.7,681.3 L603.2,680.5 L603.7,679.7 L604.2,678.6 L604.7,677.8 L605.2,677.0 L605.7,676.4 L606.2,675.5 L606.7,674.8 L607.2,674.3 L607.7,673.3 L608.2,672.4 L608.7,671.0 L609.2,670.4 L609.7,669.3 L610.2,668.6 L610.7,667.7 L611.2,666.9 L611.7,666.2 L612.2,665.2 L612.7,664.3 L613.2,663.4 L613.7,662.6 L614.2,661.8 L614.7,660.8 L615.2,659.9 L615.7,659.2 L616.2,658.4 L616.7,658.0 L617.2,657.4 L617.7,656.8 L618.2,655.8 L618.7,654.7 L619.2,654.1 L619.7,653.4 L620.2,653.1 L620.7,652.7 L621.2,652.8 L621.7,652.1 L622.2,651.6 L622.7,650.9 L623.2,650.6 L623.7,650.3 L624.2,650.0 L624.7,649.8 L625.2,649.5 L625.7,649.0 L626.2,648.8 L626.7,648.6 L627.2,649.0 L627.7,649.3 L628.2,649.6 L628.7,649.6 L629.2,649.5 L629.7,649.9 L630.2,650.0 L630.7,650.2 L631.2,650.4 L631.7,651.1 L632.2,651.8 L632.7,652.2 L633.2,652.8 L633.7,653.6 L634.2,654.3 L634.7,654.9 L635.2,655.4 L635.7,656.3 L636.2,656.7 L636.7,657.5 L637.2,657.9 L637.7,658.8 L638.2,659.2 L638.7,660.1 L639.2,660.8 L639.7,661.8 L640.2,662.3 L640.7,663.1 L641.2,664.0 L641.7,664.8 L642.2,665.5 L642.7,666.4 L643.2,667.3 L643.7,668.6 L644.2,669.2 L644.7,670.0 L645.2,670.7 L645.7,671.5 L646.2,672.4 L646.7,673.0 L647.2,673.7 L647.7,674.4 L648.2,674.9 L648.7,675.4 L649.2,675.6 L649.7,676.3 L650.2,677.3 L650.7,678.1 L651.2,678.7 L651.7,679.1 L652.2,680.1 L652.7,680.5 L653.2,681.0 L653.7,681.3 L654.2,681.6 L654.7,682.6 L655.2,682.7 L655.7,683.8 L656.2,684.0 L656.7,684.4 L657.2,684.5 L657.7,684.9 L658.2,685.4 L658.7,685.8 L659.2,686.5 L659.7,686.6 L660.2,687.2 L660.7,687.3 L661.2,687.6 L661.7,687.2 L662.2,687.6 L662.7,688.3 L663.2,689.0 L663.7,689.0 L664.2,689.3 L664.7,689.6 L665.2,689.9 L665.7,690.1 L666.2,690.4 L666.7,690.3 L667.2,690.7 L667.7,690.3 L668.2,690.5 L668.7,690.1 L669.2,690.6 L669.7,690.8 L670.2,691.1 L670.7,691.1 L671.2,691.5 L671.7,691.7 L672.2,692.0 L672.7,691.7 L673.2,691.9 L673.7,691.9 L674.2,692.5 L674.7,692.2 L675.2,692.6 L675.7,692.7 L676.2,692.5 L676.7,692.1 L677.2,691.6 L677.7,691.9 L678.2,692.3 L678.7,692.8 L679.2,693.1 L679.7,692.8 L680.2,693.0 L680.7,693.1 L681.2,693.2 L681.7,692.9 L682.2,692.6 L682.7,693.0 L683.2,692.9 L683.7,693.7 L684.2,693.5 L684.7,694.1 L685.2,694.1 L685.7,694.0 L686.2,693.8 L686.7,693.4 L687.2,693.7 L687.7,693.7 L688.2,693.8 L688.7,693.9 L689.2,693.6 L689.7,693.6 L690.2,693.4 L690.7,693.4 L691.2,693.7 L691.7,693.9 L692.2,694.2 L692.7,694.4 L693.2,694.6 L693.7,695.0 L694.2,695.1 L694.7,695.3 L695.2,695.0 L695.7,694.3 L696.2,694.0 L696.7,694.2 L697.2,694.6 L697.7,694.9 L698.2,694.7 L698.7,695.0 L699.2,694.6 L699.7,695.0 L700.2,694.9 L700.7,695.3 L701.2,695.1 L701.7,695.5 L702.2,695.7 L702.7,695.7 L703.2,695.1 L703.7,694.9 L704.2,695.1 L704.7,695.4 L705.2,695.9 L705.7,695.8 L706.2,696.2 L706.7,696.3 L707.2,696.7 L707.7,696.5 L708.2,696.2 L708.7,695.7 L709.2,695.8 L709.7,696.0 L710.2,696.2 L710.7,695.9 L711.2,695.6 L711.7,695.7 L712.2,696.1 L712.7,696.1 L713.2,696.5 L713.7,696.4 L714.2,696.6 L714.7,696.3 L715.2,696.7 L715.7,697.3 L716.2,697.2 L716.7,696.9 L717.2,696.5 L717.7,697.0 L718.2,697.4 L718.7,697.5 L719.2,697.4 L719.7,697.4 L720.2,697.2 L720.7,697.6 L721.2,697.4 L721.7,697.5 L722.2,697.4 L722.7,697.7 L723.2,698.3 L723.7,698.5 L724.2,698.3 L724.7,697.6 L725.2,697.1 L725.7,697.2 L726.2,697.4 L726.7,697.7 L727.2,698.0 L727.7,698.2 L728.2,698.0 L728.7,697.7 L729.2,697.4 L729.7,697.3 L730.2,697.4 L730.7,697.8 L731.2,698.0 L731.7,697.6 L732.2,697.4 L732.7,697.7 L733.2,697.9 L733.7,697.9 L734.2,698.0 L734.7,698.0 L735.2,698.1 L735.7,697.8 L736.2,698.2 L736.7,698.4 L737.2,698.9 L737.7,698.9 L738.2,699.2 L738.7,698.6 L739.2,698.5 L739.7,698.5 L740.2,698.8 L740.7,699.2 L741.2,699.3 L741.7,699.3 L742.2,699.0 L742.7,699.2 L743.2,699.5 L743.7,699.3 L744.2,698.8 L744.7,698.5 L745.2,698.7 L745.7,698.9 L746.2,699.0 L746.7,699.3 L747.2,699.8 L747.7,699.7 L748.2,699.1 L748.7,698.6 L749.2,698.8 L749.7,699.5 L750.2,699.4 L750.7,699.2 L751.2,698.9 L751.7,699.2" fill="none" stroke="#ff3636" stroke-width="1.15" stroke-linejoin="round"/>
<path d="M553.2,700.1 L553.7,700.2 L554.2,700.5 L554.7,700.3 L555.2,700.1 L555.7,700.2 L556.2,700.3 L556.7,700.4 L557.2,700.2 L557.7,700.0 L558.2,699.9 L558.7,700.0 L559.2,699.9 L559.7,699.9 L560.2,699.8 L560.7,700.0 L561.2,699.8 L561.7,700.0 L562.2,700.1 L562.7,700.2 L563.2,699.8 L563.7,699.5 L564.2,699.5 L564.7,699.6 L565.2,699.8 L565.7,699.4 L566.2,699.2 L566.7,699.2 L567.2,699.4 L567.7,699.5 L568.2,699.4 L568.7,699.5 L569.2,699.5 L569.7,699.6 L570.2,699.8 L570.7,700.0 L571.2,699.9 L571.7,699.5 L572.2,699.6 L572.7,699.3 L573.2,699.2 L573.7,698.8 L574.2,698.9 L574.7,699.2 L575.2,699.2 L575.7,699.5 L576.2,699.1 L576.7,699.2 L577.2,699.0 L577.7,698.8 L578.2,698.5 L578.7,698.4 L579.2,699.0 L579.7,699.3 L580.2,699.4 L580.7,698.8 L581.2,698.7 L581.7,698.8 L582.2,699.0 L582.7,699.2 L583.2,698.6 L583.7,698.2 L584.2,697.6 L584.7,697.5 L585.2,697.7 L585.7,697.7 L586.2,697.9 L586.7,697.7 L587.2,697.5 L587.7,697.5 L588.2,697.4 L588.7,697.1 L589.2,697.0 L589.7,696.9 L590.2,696.8 L590.7,696.6 L591.2,696.4 L591.7,696.5 L592.2,696.4 L592.7,696.2 L593.2,696.1 L593.7,695.8 L594.2,695.4 L594.7,695.3 L595.2,695.2 L595.7,695.0 L596.2,694.4 L596.7,694.2 L597.2,694.2 L597.7,694.1 L598.2,693.7 L598.7,693.4 L599.2,693.6 L599.7,693.4 L600.2,693.4 L600.7,692.8 L601.2,692.6 L601.7,692.5 L602.2,692.4 L602.7,692.3 L603.2,691.9 L603.7,691.9 L604.2,691.6 L604.7,691.4 L605.2,691.2 L605.7,690.9 L606.2,690.8 L606.7,690.2 L607.2,689.6 L607.7,689.2 L608.2,689.1 L608.7,689.2 L609.2,689.0 L609.7,689.0 L610.2,688.7 L610.7,688.2 L611.2,687.9 L611.7,687.5 L612.2,687.3 L612.7,686.9 L613.2,686.8 L613.7,686.8 L614.2,687.0 L614.7,686.7 L615.2,686.5 L615.7,685.9 L616.2,685.6 L616.7,685.2 L617.2,684.9 L617.7,684.8 L618.2,684.8 L618.7,684.5 L619.2,684.0 L619.7,683.9 L620.2,683.7 L620.7,683.6 L621.2,683.1 L621.7,683.0 L622.2,683.1 L622.7,683.2 L623.2,682.7 L623.7,682.3 L624.2,682.2 L624.7,682.6 L625.2,682.4 L625.7,682.0 L626.2,681.3 L626.7,681.1 L627.2,680.9 L627.7,681.1 L628.2,680.9 L628.7,681.2 L629.2,681.2 L629.7,681.3 L630.2,681.2 L630.7,681.0 L631.2,680.8 L631.7,680.6 L632.2,681.1 L632.7,681.2 L633.2,681.4 L633.7,681.1 L634.2,681.1 L634.7,681.2 L635.2,681.0 L635.7,680.9 L636.2,680.7 L636.7,681.1 L637.2,681.7 L637.7,682.4 L638.2,682.6 L638.7,682.5 L639.2,682.3 L639.7,682.7 L640.2,682.7 L640.7,682.8 L641.2,682.9 L641.7,683.3 L642.2,683.2 L642.7,683.4 L643.2,683.3 L643.7,683.9 L644.2,684.1 L644.7,684.3 L645.2,684.6 L645.7,684.8 L646.2,685.1 L646.7,685.4 L647.2,685.8 L647.7,686.2 L648.2,686.1 L648.7,685.8 L649.2,685.8 L649.7,685.9 L650.2,687.1 L650.7,687.4 L651.2,687.7 L651.7,687.6 L652.2,687.5 L652.7,688.2 L653.2,687.8 L653.7,688.1 L654.2,687.8 L654.7,688.1 L655.2,688.8 L655.7,689.0 L656.2,689.5 L656.7,689.7 L657.2,689.7 L657.7,690.1 L658.2,690.1 L658.7,690.9 L659.2,691.0 L659.7,691.1 L660.2,690.8 L660.7,690.6 L661.2,690.9 L661.7,691.1 L662.2,691.5 L662.7,691.2 L663.2,691.9 L663.7,691.4 L664.2,692.2 L664.7,692.1 L665.2,693.0 L665.7,692.7 L666.2,693.1 L666.7,692.9 L667.2,693.2 L667.7,693.1 L668.2,693.5 L668.7,693.3 L669.2,693.4 L669.7,693.4 L670.2,693.9 L670.7,693.5 L671.2,693.5 L671.7,693.3 L672.2,693.7 L672.7,693.5 L673.2,693.7 L673.7,693.7 L674.2,694.4 L674.7,694.6 L675.2,694.9 L675.7,694.5 L676.2,694.5 L676.7,694.5 L677.2,694.5 L677.7,694.6 L678.2,694.5 L678.7,694.7 L679.2,695.0 L679.7,695.7 L680.2,695.8 L680.7,695.9 L681.2,695.7 L681.7,695.7 L682.2,695.2 L682.7,695.1 L683.2,695.3 L683.7,695.8 L684.2,695.8 L684.7,695.2 L685.2,695.5 L685.7,695.6 L686.2,696.2 L686.7,696.0 L687.2,696.2 L687.7,696.3 L688.2,695.8 L688.7,695.8 L689.2,696.1 L689.7,696.4 L690.2,696.1 L690.7,695.6 L691.2,695.5 L691.7,695.2 L692.2,695.3 L692.7,695.1 L693.2,696.0 L693.7,696.0 L694.2,696.5 L694.7,696.6 L695.2,696.7 L695.7,696.4 L696.2,696.1 L696.7,696.2 L697.2,696.3 L697.7,696.4 L698.2,696.2 L698.7,696.1 L699.2,695.9 L699.7,695.9 L700.2,696.1 L700.7,696.4 L701.2,696.6 L701.7,696.8 L702.2,696.5 L702.7,696.4 L703.2,696.4 L703.7,696.7 L704.2,697.4 L704.7,697.7 L705.2,697.6 L705.7,696.8 L706.2,696.5 L706.7,696.7 L707.2,697.3 L707.7,697.5 L708.2,697.1 L708.7,697.3 L709.2,696.9 L709.7,697.1 L710.2,697.0 L710.7,697.5 L711.2,697.6 L711.7,697.6 L712.2,697.4 L712.7,697.8 L713.2,698.0 L713.7,698.0 L714.2,698.1 L714.7,697.9 L715.2,698.1 L715.7,697.9 L716.2,698.1 L716.7,698.3 L717.2,698.3 L717.7,698.2 L718.2,697.7 L718.7,697.8 L719.2,697.7 L719.7,698.1 L720.2,697.9 L720.7,698.2 L721.2,698.5 L721.7,698.7 L722.2,699.0 L722.7,698.8 L723.2,699.3 L723.7,698.8 L724.2,699.0 L724.7,698.5 L725.2,698.5 L725.7,698.1 L726.2,698.2 L726.7,698.1 L727.2,698.2 L727.7,698.6 L728.2,699.0 L728.7,698.6 L729.2,698.1 L729.7,698.2 L730.2,698.5 L730.7,698.7 L731.2,698.6 L731.7,698.4 L732.2,698.9 L732.7,698.8 L733.2,699.0 L733.7,698.7 L734.2,698.8 L734.7,699.0 L735.2,699.0 L735.7,699.3 L736.2,699.1 L736.7,699.1 L737.2,699.0 L737.7,699.5 L738.2,699.5 L738.7,699.2 L739.2,699.1 L739.7,699.2 L740.2,699.1 L740.7,698.7 L741.2,699.2 L741.7,699.2 L742.2,699.4 L742.7,699.0 L743.2,699.4 L743.7,699.3 L744.2,699.9 L744.7,699.7 L745.2,699.9 L745.7,698.8 L746.2,698.9 L746.7,698.8 L747.2,699.2 L747.7,699.0 L748.2,699.0 L748.7,699.2 L749.2,700.0 L749.7,699.9 L750.2,700.1 L750.7,699.4 L751.2,699.7 L751.7,699.5" fill="none" stroke="#ff801f" stroke-width="1.15" stroke-linejoin="round"/>
<defs><linearGradient id="agc" x1="0" y1="0" x2="0" y2="1"><stop offset="0" stop-color="#111"/><stop offset="0.4" stop-color="#333"/><stop offset="0.75" stop-color="#999"/><stop offset="1" stop-color="#d0d0d0"/></linearGradient></defs>
<path d="M604.6,422.3 L609.0,421.0 L653.5,640 L649.5,641 Z" fill="url(#agc)"/>
<path d="M655.6,656 L644,640.6 L651.5,641.5 L659.6,636.4 Z" fill="#d2d2d2"/>
<rect x="552.7" y="391.6" width="199.5" height="311.4" fill="none" stroke="#000" stroke-width="1.7"/>
<line x1="552.7" y1="703.0" x2="552.7" y2="705.8" stroke="#000" stroke-width="1.4"/>
<line x1="574.9" y1="703.0" x2="574.9" y2="707.5" stroke="#000" stroke-width="1.4"/>
<line x1="597.0" y1="703.0" x2="597.0" y2="705.8" stroke="#000" stroke-width="1.4"/>
<line x1="619.2" y1="703.0" x2="619.2" y2="707.5" stroke="#000" stroke-width="1.4"/>
<line x1="641.4" y1="703.0" x2="641.4" y2="705.8" stroke="#000" stroke-width="1.4"/>
<line x1="663.5" y1="703.0" x2="663.5" y2="707.5" stroke="#000" stroke-width="1.4"/>
<line x1="685.7" y1="703.0" x2="685.7" y2="705.8" stroke="#000" stroke-width="1.4"/>
<line x1="707.9" y1="703.0" x2="707.9" y2="707.5" stroke="#000" stroke-width="1.4"/>
<line x1="730.0" y1="703.0" x2="730.0" y2="705.8" stroke="#000" stroke-width="1.4"/>
<line x1="752.2" y1="703.0" x2="752.2" y2="707.5" stroke="#000" stroke-width="1.4"/>
<text x="574.9" y="724.2" font-size="13.7" font-weight="normal" text-anchor="middle" fill="#000" >400</text>
<text x="619.2" y="724.2" font-size="13.7" font-weight="normal" text-anchor="middle" fill="#000" >500</text>
<text x="663.5" y="724.2" font-size="13.7" font-weight="normal" text-anchor="middle" fill="#000" >600</text>
<text x="707.9" y="724.2" font-size="13.7" font-weight="normal" text-anchor="middle" fill="#000" >700</text>
<text x="752.2" y="724.2" font-size="13.7" font-weight="normal" text-anchor="middle" fill="#000" >800</text>
<text x="652.3" y="746.5" font-size="18.3" font-weight="bold" text-anchor="middle" fill="#000" >Wavelength / nm</text>
<text transform="translate(540.3,543.5) rotate(-90)" font-size="17.8" font-weight="bold" text-anchor="middle">Intensity</text>
<line x1="649.5" y1="410.6" x2="678.8" y2="410.6" stroke="#ff1f8f" stroke-width="1.2"/>
<text x="682.2" y="415.2" font-size="12.95" font-weight="normal" text-anchor="start" fill="#000" >3.62 GPa</text>
<line x1="649.5" y1="426.0" x2="678.8" y2="426.0" stroke="#ff2d2d" stroke-width="1.2"/>
<text x="682.2" y="430.6" font-size="12.95" font-weight="normal" text-anchor="start" fill="#000" >4.05 GPa</text>
<line x1="649.5" y1="441.3" x2="678.8" y2="441.3" stroke="#ff7a1f" stroke-width="1.2"/>
<text x="682.2" y="445.9" font-size="12.95" font-weight="normal" text-anchor="start" fill="#000" >4.48 GPa</text>
<line x1="649.5" y1="456.7" x2="678.8" y2="456.7" stroke="#ffa63d" stroke-width="1.2"/>
<text x="682.2" y="461.3" font-size="12.95" font-weight="normal" text-anchor="start" fill="#000" >5.00 GPa</text>
<line x1="649.5" y1="472.1" x2="678.8" y2="472.1" stroke="#f2e23c" stroke-width="1.2"/>
<text x="682.2" y="476.7" font-size="12.95" font-weight="normal" text-anchor="start" fill="#000" >6.10 GPa</text>
<line x1="649.5" y1="487.5" x2="678.8" y2="487.5" stroke="#9fe01f" stroke-width="1.2"/>
<text x="682.2" y="492.1" font-size="12.95" font-weight="normal" text-anchor="start" fill="#000" >7.04 GPa</text>
<line x1="649.5" y1="502.8" x2="678.8" y2="502.8" stroke="#1fd11f" stroke-width="1.2"/>
<text x="682.2" y="507.4" font-size="12.95" font-weight="normal" text-anchor="start" fill="#000" >7.99 GPa</text>
<line x1="649.5" y1="518.2" x2="678.8" y2="518.2" stroke="#12d68c" stroke-width="1.2"/>
<text x="682.2" y="522.8" font-size="12.95" font-weight="normal" text-anchor="start" fill="#000" >9.07 GPa</text>
<line x1="649.5" y1="533.6" x2="678.8" y2="533.6" stroke="#1fcfd9" stroke-width="1.2"/>
<text x="682.2" y="538.2" font-size="12.95" font-weight="normal" text-anchor="start" fill="#000" >10.00 GPa</text>
<line x1="649.5" y1="548.9" x2="678.8" y2="548.9" stroke="#1fa6f0" stroke-width="1.2"/>
<text x="682.2" y="553.5" font-size="12.95" font-weight="normal" text-anchor="start" fill="#000" >12.13 GPa</text>
<line x1="649.5" y1="564.3" x2="678.8" y2="564.3" stroke="#1f5df0" stroke-width="1.2"/>
<text x="682.2" y="568.9" font-size="12.95" font-weight="normal" text-anchor="start" fill="#000" >13.09 GPa</text>
<line x1="649.5" y1="579.7" x2="678.8" y2="579.7" stroke="#3d1fe0" stroke-width="1.2"/>
<text x="682.2" y="584.3" font-size="12.95" font-weight="normal" text-anchor="start" fill="#000" >14.23 GPa</text>
<line x1="649.5" y1="595.0" x2="678.8" y2="595.0" stroke="#a01fe0" stroke-width="1.2"/>
<text x="682.2" y="599.6" font-size="12.95" font-weight="normal" text-anchor="start" fill="#000" >15.03 GPa</text>
<line x1="649.5" y1="610.4" x2="678.8" y2="610.4" stroke="#f01fb0" stroke-width="1.2"/>
<text x="682.2" y="615.0" font-size="12.95" font-weight="normal" text-anchor="start" fill="#000" >15.90 GPa</text>
<line x1="649.5" y1="625.8" x2="678.8" y2="625.8" stroke="#ff3636" stroke-width="1.2"/>
<text x="682.2" y="630.4" font-size="12.95" font-weight="normal" text-anchor="start" fill="#000" >16.92 GPa</text>
<line x1="649.5" y1="641.1" x2="678.8" y2="641.1" stroke="#ff801f" stroke-width="1.2"/>
<text x="682.2" y="645.8" font-size="12.95" font-weight="normal" text-anchor="start" fill="#000" >17.96 GPa</text>
<rect x="17" y="783" width="747" height="160.5" fill="#010103"/>
<defs><filter id="bl1" x="-30%" y="-30%" width="160%" height="160%"><feGaussianBlur stdDeviation="1.1"/></filter><filter id="bl2" x="-30%" y="-30%" width="160%" height="160%"><feGaussianBlur stdDeviation="2.4"/></filter><filter id="bl3" x="-40%" y="-40%" width="180%" height="180%"><feGaussianBlur stdDeviation="4"/></filter></defs>
<defs><clipPath id="dc0"><circle cx="79.5" cy="831" r="28.5"/></clipPath><linearGradient id="db0" x1="0" y1="0" x2="1" y2="0"><stop offset="0" stop-color="#4b3cf5" stop-opacity="0.55"/><stop offset="0.3" stop-color="#4b3cf5" stop-opacity="0.95"/><stop offset="0.75" stop-color="#4b3cf5" stop-opacity="0.8"/><stop offset="1" stop-color="#4b3cf5" stop-opacity="0.35"/></linearGradient></defs>
<circle cx="79.5" cy="831" r="29.0" fill="none" stroke="#4b3cf5" stroke-width="3" opacity="0.28" filter="url(#bl3)"/>
<circle cx="79.5" cy="831" r="28.5" fill="#04041a"/>
<g clip-path="url(#dc0)">
<polygon points="53.5,805 111.5,799 111.5,861" fill="#3a2bd0" opacity="0.20" filter="url(#bl2)"/>
<g transform="translate(84.0,827.5) rotate(45)"><polygon points="-19,-4 -12,-9 28,-9 28,9 -22,9" fill="url(#db0)" opacity="0.88" filter="url(#bl1)"/><rect x="-15" y="-7.5" width="28" height="14" fill="#e9b8ff" opacity="0.55" filter="url(#bl2)"/><rect x="-30" y="-13.5" width="34" height="2.6" fill="#03030c" opacity="0.7" filter="url(#bl1)"/><rect x="-24" y="11.4" width="48" height="1.0" fill="#4b3cf5" opacity="0.32"/></g>
<ellipse cx="83.5" cy="825" rx="5.5" ry="7" fill="#e9b8ff" opacity="0.75" filter="url(#bl2)" transform="rotate(45 83.5 825)"/>
<polygon points="39.5,802.5 103.5,866.5 39.5,871" fill="#03030e" opacity="0.93" filter="url(#bl1)"/>
<circle cx="59.0" cy="837" r="3.8" fill="#3a2bd0" opacity="0.50" filter="url(#bl1)"/>
</g>
<circle cx="79.5" cy="831" r="27.9" fill="none" stroke="#4b3cf5" stroke-width="2.5" opacity="0.95" filter="url(#bl1)"/>
<path d="M56.7,814.8 A27.9,27.9 0 0 1 97.2,809.3" fill="none" stroke="#e9b8ff" stroke-width="1.4" opacity="0.55" filter="url(#bl1)"/>
<defs><clipPath id="dc1"><circle cx="156" cy="829.5" r="28"/></clipPath><linearGradient id="db1" x1="0" y1="0" x2="1" y2="0"><stop offset="0" stop-color="#3d46ff" stop-opacity="0.55"/><stop offset="0.3" stop-color="#3d46ff" stop-opacity="0.95"/><stop offset="0.75" stop-color="#3d46ff" stop-opacity="0.8"/><stop offset="1" stop-color="#3d46ff" stop-opacity="0.35"/></linearGradient></defs>
<circle cx="156" cy="829.5" r="28.5" fill="none" stroke="#3d46ff" stroke-width="3" opacity="0.28" filter="url(#bl3)"/>
<circle cx="156" cy="829.5" r="28" fill="#04041a"/>
<g clip-path="url(#dc1)">
<polygon points="130,803.5 188,797.5 188,859.5" fill="#2c36d8" opacity="0.20" filter="url(#bl2)"/>
<g transform="translate(160.5,826.0) rotate(45)"><polygon points="-19,-4 -12,-9 28,-9 28,9 -22,9" fill="url(#db1)" opacity="0.88" filter="url(#bl1)"/><rect x="-15" y="-7.5" width="28" height="14" fill="#dfe0ff" opacity="0.55" filter="url(#bl2)"/><rect x="-30" y="-13.5" width="34" height="2.6" fill="#03030c" opacity="0.7" filter="url(#bl1)"/><rect x="-24" y="11.4" width="48" height="1.0" fill="#3d46ff" opacity="0.32"/></g>
<ellipse cx="160" cy="823.5" rx="5.5" ry="7" fill="#dfe0ff" opacity="0.75" filter="url(#bl2)" transform="rotate(45 160 823.5)"/>
<polygon points="116,801.0 180,865.0 116,869.5" fill="#03030e" opacity="0.93" filter="url(#bl1)"/>
<circle cx="135.5" cy="835.5" r="3.8" fill="#2c36d8" opacity="0.50" filter="url(#bl1)"/>
</g>
<circle cx="156" cy="829.5" r="27.4" fill="none" stroke="#3d46ff" stroke-width="2.5" opacity="0.95" filter="url(#bl1)"/>
<path d="M133.6,813.5 A27.4,27.4 0 0 1 173.4,808.2" fill="none" stroke="#dfe0ff" stroke-width="1.4" opacity="0.55" filter="url(#bl1)"/>
<defs><clipPath id="dc2"><circle cx="243.5" cy="829.5" r="28.5"/></clipPath><linearGradient id="db2" x1="0" y1="0" x2="1" y2="0"><stop offset="0" stop-color="#2b5cff" stop-opacity="0.55"/><stop offset="0.3" stop-color="#2b5cff" stop-opacity="0.95"/><stop offset="0.75" stop-color="#2b5cff" stop-opacity="0.8"/><stop offset="1" stop-color="#2b5cff" stop-opacity="0.35"/></linearGradient></defs>
<circle cx="243.5" cy="829.5" r="29.0" fill="none" stroke="#2b5cff" stroke-width="3" opacity="0.28" filter="url(#bl3)"/>
<circle cx="243.5" cy="829.5" r="28.5" fill="#04041a"/>
<g clip-path="url(#dc2)">
<polygon points="217.5,803.5 275.5,797.5 275.5,859.5" fill="#1f49d8" opacity="0.20" filter="url(#bl2)"/>
<g transform="translate(248.0,826.0) rotate(45)"><polygon points="-19,-4 -12,-9 28,-9 28,9 -22,9" fill="url(#db2)" opacity="0.88" filter="url(#bl1)"/><rect x="-15" y="-7.5" width="28" height="14" fill="#c9e4ff" opacity="0.55" filter="url(#bl2)"/><rect x="-30" y="-13.5" width="34" height="2.6" fill="#03030c" opacity="0.7" filter="url(#bl1)"/><rect x="-24" y="11.4" width="48" height="1.0" fill="#2b5cff" opacity="0.32"/></g>
<ellipse cx="247.5" cy="823.5" rx="5.5" ry="7" fill="#c9e4ff" opacity="0.75" filter="url(#bl2)" transform="rotate(45 247.5 823.5)"/>
<polygon points="203.5,801.0 267.5,865.0 203.5,869.5" fill="#03030e" opacity="0.93" filter="url(#bl1)"/>
<circle cx="223.0" cy="835.5" r="3.8" fill="#1f49d8" opacity="0.50" filter="url(#bl1)"/>
</g>
<circle cx="243.5" cy="829.5" r="27.9" fill="none" stroke="#2b5cff" stroke-width="2.5" opacity="0.95" filter="url(#bl1)"/>
<path d="M220.7,813.3 A27.9,27.9 0 0 1 261.2,807.8" fill="none" stroke="#c9e4ff" stroke-width="1.4" opacity="0.55" filter="url(#bl1)"/>
<defs><clipPath id="dc3"><circle cx="329" cy="829.5" r="28.5"/></clipPath><linearGradient id="db3" x1="0" y1="0" x2="1" y2="0"><stop offset="0" stop-color="#2f6bff" stop-opacity="0.55"/><stop offset="0.3" stop-color="#2f6bff" stop-opacity="0.95"/><stop offset="0.75" stop-color="#2f6bff" stop-opacity="0.8"/><stop offset="1" stop-color="#2f6bff" stop-opacity="0.35"/></linearGradient></defs>
<circle cx="329" cy="829.5" r="29.0" fill="none" stroke="#2f6bff" stroke-width="3" opacity="0.28" filter="url(#bl3)"/>
<circle cx="329" cy="829.5" r="28.5" fill="#04041a"/>
<g clip-path="url(#dc3)">
<polygon points="303,803.5 361,797.5 361,859.5" fill="#2052d8" opacity="0.20" filter="url(#bl2)"/>
<g transform="translate(333.5,826.0) rotate(45)"><polygon points="-19,-4 -12,-9 28,-9 28,9 -22,9" fill="url(#db3)" opacity="0.88" filter="url(#bl1)"/><rect x="-15" y="-7.5" width="28" height="14" fill="#c6e6ff" opacity="0.55" filter="url(#bl2)"/><rect x="-30" y="-13.5" width="34" height="2.6" fill="#03030c" opacity="0.7" filter="url(#bl1)"/><rect x="-24" y="11.4" width="48" height="1.0" fill="#2f6bff" opacity="0.32"/></g>
<ellipse cx="333" cy="823.5" rx="5.5" ry="7" fill="#c6e6ff" opacity="0.75" filter="url(#bl2)" transform="rotate(45 333 823.5)"/>
<polygon points="289,801.0 353,865.0 289,869.5" fill="#03030e" opacity="0.93" filter="url(#bl1)"/>
<circle cx="308.5" cy="835.5" r="3.8" fill="#2052d8" opacity="0.50" filter="url(#bl1)"/>
</g>
<circle cx="329" cy="829.5" r="27.9" fill="none" stroke="#2f6bff" stroke-width="2.5" opacity="0.95" filter="url(#bl1)"/>
<path d="M306.2,813.3 A27.9,27.9 0 0 1 346.7,807.8" fill="none" stroke="#c6e6ff" stroke-width="1.4" opacity="0.55" filter="url(#bl1)"/>
<defs><clipPath id="dc4"><circle cx="401" cy="828.5" r="27"/></clipPath><linearGradient id="db4" x1="0" y1="0" x2="1" y2="0"><stop offset="0" stop-color="#3a8cff" stop-opacity="0.55"/><stop offset="0.3" stop-color="#3a8cff" stop-opacity="0.95"/><stop offset="0.75" stop-color="#3a8cff" stop-opacity="0.8"/><stop offset="1" stop-color="#3a8cff" stop-opacity="0.35"/></linearGradient></defs>
<circle cx="401" cy="828.5" r="27.5" fill="none" stroke="#3a8cff" stroke-width="3" opacity="0.28" filter="url(#bl3)"/>
<circle cx="401" cy="828.5" r="27" fill="#04041a"/>
<g clip-path="url(#dc4)">
<polygon points="375,802.5 433,796.5 433,858.5" fill="#2a68d0" opacity="0.20" filter="url(#bl2)"/>
<g transform="translate(405.5,825.0) rotate(45)"><polygon points="-19,-4 -12,-9 28,-9 28,9 -22,9" fill="url(#db4)" opacity="0.88" filter="url(#bl1)"/><rect x="-15" y="-7.5" width="28" height="14" fill="#d2ecff" opacity="0.55" filter="url(#bl2)"/><rect x="-30" y="-13.5" width="34" height="2.6" fill="#03030c" opacity="0.7" filter="url(#bl1)"/><rect x="-24" y="11.4" width="48" height="1.0" fill="#3a8cff" opacity="0.32"/></g>
<ellipse cx="405" cy="822.5" rx="5.5" ry="7" fill="#d2ecff" opacity="0.75" filter="url(#bl2)" transform="rotate(45 405 822.5)"/>
<polygon points="361,800.0 425,864.0 361,868.5" fill="#03030e" opacity="0.93" filter="url(#bl1)"/>
<circle cx="380.5" cy="834.5" r="3.8" fill="#2a68d0" opacity="0.50" filter="url(#bl1)"/>
</g>
<circle cx="401" cy="828.5" r="26.4" fill="none" stroke="#3a8cff" stroke-width="2.5" opacity="0.95" filter="url(#bl1)"/>
<path d="M379.4,813.1 A26.4,26.4 0 0 1 417.7,808.0" fill="none" stroke="#d2ecff" stroke-width="1.4" opacity="0.55" filter="url(#bl1)"/>
<defs><clipPath id="dc5"><circle cx="472.5" cy="829" r="27"/></clipPath><linearGradient id="db5" x1="0" y1="0" x2="1" y2="0"><stop offset="0" stop-color="#48a8f2" stop-opacity="0.55"/><stop offset="0.3" stop-color="#48a8f2" stop-opacity="0.95"/><stop offset="0.75" stop-color="#48a8f2" stop-opacity="0.8"/><stop offset="1" stop-color="#48a8f2" stop-opacity="0.35"/></linearGradient></defs>
<circle cx="472.5" cy="829" r="27.5" fill="none" stroke="#48a8f2" stroke-width="3" opacity="0.27" filter="url(#bl3)"/>
<circle cx="472.5" cy="829" r="27" fill="#04041a"/>
<g clip-path="url(#dc5)">
<polygon points="446.5,803 504.5,797 504.5,859" fill="#2f78b8" opacity="0.19" filter="url(#bl2)"/>
<g transform="translate(477.0,825.5) rotate(45)"><polygon points="-19,-4 -12,-9 28,-9 28,9 -22,9" fill="url(#db5)" opacity="0.84" filter="url(#bl1)"/><rect x="-15" y="-7.5" width="28" height="14" fill="#d8f2ff" opacity="0.52" filter="url(#bl2)"/><rect x="-30" y="-13.5" width="34" height="2.6" fill="#03030c" opacity="0.7" filter="url(#bl1)"/><rect x="-24" y="11.4" width="48" height="1.0" fill="#48a8f2" opacity="0.30"/></g>
<ellipse cx="476.5" cy="823" rx="5.5" ry="7" fill="#d8f2ff" opacity="0.71" filter="url(#bl2)" transform="rotate(45 476.5 823)"/>
<polygon points="432.5,800.5 496.5,864.5 432.5,869" fill="#03030e" opacity="0.93" filter="url(#bl1)"/>
<circle cx="452.0" cy="835" r="3.8" fill="#2f78b8" opacity="0.47" filter="url(#bl1)"/>
</g>
<circle cx="472.5" cy="829" r="26.4" fill="none" stroke="#48a8f2" stroke-width="2.5" opacity="0.90" filter="url(#bl1)"/>
<path d="M450.9,813.6 A26.4,26.4 0 0 1 489.2,808.5" fill="none" stroke="#d8f2ff" stroke-width="1.4" opacity="0.52" filter="url(#bl1)"/>
<defs><clipPath id="dc6"><circle cx="544" cy="829" r="27"/></clipPath><linearGradient id="db6" x1="0" y1="0" x2="1" y2="0"><stop offset="0" stop-color="#52cfe0" stop-opacity="0.55"/><stop offset="0.3" stop-color="#52cfe0" stop-opacity="0.95"/><stop offset="0.75" stop-color="#52cfe0" stop-opacity="0.8"/><stop offset="1" stop-color="#52cfe0" stop-opacity="0.35"/></linearGradient></defs>
<circle cx="544" cy="829" r="27.5" fill="none" stroke="#52cfe0" stroke-width="3" opacity="0.25" filter="url(#bl3)"/>
<circle cx="544" cy="829" r="27" fill="#04041a"/>
<g clip-path="url(#dc6)">
<polygon points="518,803 576,797 576,859" fill="#2f93a8" opacity="0.18" filter="url(#bl2)"/>
<g transform="translate(548.5,825.5) rotate(45)"><polygon points="-19,-4 -12,-9 28,-9 28,9 -22,9" fill="url(#db6)" opacity="0.79" filter="url(#bl1)"/><rect x="-15" y="-7.5" width="28" height="14" fill="#d6fbff" opacity="0.50" filter="url(#bl2)"/><rect x="-30" y="-13.5" width="34" height="2.6" fill="#03030c" opacity="0.7" filter="url(#bl1)"/><rect x="-24" y="11.4" width="48" height="1.0" fill="#52cfe0" opacity="0.29"/></g>
<ellipse cx="548" cy="823" rx="5.5" ry="7" fill="#d6fbff" opacity="0.68" filter="url(#bl2)" transform="rotate(45 548 823)"/>
<polygon points="504,800.5 568,864.5 504,869" fill="#03030e" opacity="0.93" filter="url(#bl1)"/>
<circle cx="523.5" cy="835" r="3.8" fill="#2f93a8" opacity="0.45" filter="url(#bl1)"/>
</g>
<circle cx="544" cy="829" r="26.4" fill="none" stroke="#52cfe0" stroke-width="2.5" opacity="0.85" filter="url(#bl1)"/>
<path d="M522.4,813.6 A26.4,26.4 0 0 1 560.7,808.5" fill="none" stroke="#d6fbff" stroke-width="1.4" opacity="0.50" filter="url(#bl1)"/>
<defs><clipPath id="dc7"><circle cx="618" cy="831" r="27"/></clipPath><linearGradient id="db7" x1="0" y1="0" x2="1" y2="0"><stop offset="0" stop-color="#78dca8" stop-opacity="0.55"/><stop offset="0.3" stop-color="#78dca8" stop-opacity="0.95"/><stop offset="0.75" stop-color="#78dca8" stop-opacity="0.8"/><stop offset="1" stop-color="#78dca8" stop-opacity="0.35"/></linearGradient></defs>
<circle cx="618" cy="831" r="27.5" fill="none" stroke="#78dca8" stroke-width="3" opacity="0.20" filter="url(#bl3)"/>
<circle cx="618" cy="831" r="27" fill="#04041a"/>
<g clip-path="url(#dc7)">
<polygon points="592,805 650,799 650,861" fill="#3f8f70" opacity="0.14" filter="url(#bl2)"/>
<g transform="translate(622.5,827.5) rotate(45)"><polygon points="-19,-4 -12,-9 28,-9 28,9 -22,9" fill="url(#db7)" opacity="0.62" filter="url(#bl1)"/><rect x="-15" y="-7.5" width="28" height="14" fill="#d8ffe8" opacity="0.39" filter="url(#bl2)"/><rect x="-30" y="-13.5" width="34" height="2.6" fill="#03030c" opacity="0.7" filter="url(#bl1)"/><rect x="-24" y="11.4" width="48" height="1.0" fill="#78dca8" opacity="0.22"/></g>
<ellipse cx="622" cy="825" rx="5.5" ry="7" fill="#d8ffe8" opacity="0.52" filter="url(#bl2)" transform="rotate(45 622 825)"/>
<polygon points="578,802.5 642,866.5 578,871" fill="#03030e" opacity="0.93" filter="url(#bl1)"/>
<circle cx="597.5" cy="837" r="3.8" fill="#3f8f70" opacity="0.35" filter="url(#bl1)"/>
</g>
<circle cx="618" cy="831" r="26.4" fill="none" stroke="#78dca8" stroke-width="2.5" opacity="0.66" filter="url(#bl1)"/>
<path d="M596.4,815.6 A26.4,26.4 0 0 1 634.7,810.5" fill="none" stroke="#d8ffe8" stroke-width="1.4" opacity="0.39" filter="url(#bl1)"/>
<defs><clipPath id="dc8"><circle cx="693.5" cy="833" r="27"/></clipPath><linearGradient id="db8" x1="0" y1="0" x2="1" y2="0"><stop offset="0" stop-color="#8fcf80" stop-opacity="0.55"/><stop offset="0.3" stop-color="#8fcf80" stop-opacity="0.95"/><stop offset="0.75" stop-color="#8fcf80" stop-opacity="0.8"/><stop offset="1" stop-color="#8fcf80" stop-opacity="0.35"/></linearGradient></defs>
<circle cx="693.5" cy="833" r="27.5" fill="none" stroke="#8fcf80" stroke-width="3" opacity="0.17" filter="url(#bl3)"/>
<circle cx="693.5" cy="833" r="27" fill="#04041a"/>
<g clip-path="url(#dc8)">
<polygon points="667.5,807 725.5,801 725.5,863" fill="#4a7f48" opacity="0.12" filter="url(#bl2)"/>
<g transform="translate(698.0,829.5) rotate(45)"><polygon points="-19,-4 -12,-9 28,-9 28,9 -22,9" fill="url(#db8)" opacity="0.53" filter="url(#bl1)"/><rect x="-15" y="-7.5" width="28" height="14" fill="#e0ffd0" opacity="0.33" filter="url(#bl2)"/><rect x="-30" y="-13.5" width="34" height="2.6" fill="#03030c" opacity="0.7" filter="url(#bl1)"/><rect x="-24" y="11.4" width="48" height="1.0" fill="#8fcf80" opacity="0.19"/></g>
<ellipse cx="697.5" cy="827" rx="5.5" ry="7" fill="#e0ffd0" opacity="0.45" filter="url(#bl2)" transform="rotate(45 697.5 827)"/>
<polygon points="653.5,804.5 717.5,868.5 653.5,873" fill="#03030e" opacity="0.93" filter="url(#bl1)"/>
<circle cx="673.0" cy="839" r="3.8" fill="#4a7f48" opacity="0.30" filter="url(#bl1)"/>
</g>
<circle cx="693.5" cy="833" r="26.4" fill="none" stroke="#8fcf80" stroke-width="2.5" opacity="0.57" filter="url(#bl1)"/>
<path d="M671.9,817.6 A26.4,26.4 0 0 1 710.2,812.5" fill="none" stroke="#e0ffd0" stroke-width="1.4" opacity="0.33" filter="url(#bl1)"/>
<text x="79.5" y="882.5" font-size="12.7" font-weight="bold" fill="#fff" text-anchor="middle">0.01 GPa</text>
<text x="156" y="882.5" font-size="12.7" font-weight="bold" fill="#fff" text-anchor="middle">2.07 GPa</text>
<text x="243.3" y="882.5" font-size="12.7" font-weight="bold" fill="#fff" text-anchor="middle">3.62 GPa</text>
<text x="332" y="882.5" font-size="12.7" font-weight="bold" fill="#fff" text-anchor="middle">4.48 GPa</text>
<text x="403.6" y="882.5" font-size="12.7" font-weight="bold" fill="#fff" text-anchor="middle">7.04 GPa</text>
<text x="473.8" y="882.3" font-size="12.7" font-weight="bold" fill="#fff" text-anchor="middle">10.00 GPa</text>
<text x="547" y="882.3" font-size="12.7" font-weight="bold" fill="#fff" text-anchor="middle">12.12 GPa</text>
<text x="618" y="883.3" font-size="12.7" font-weight="bold" fill="#fff" text-anchor="middle">14.23 GPa</text>
<text x="696" y="884.3" font-size="12.7" font-weight="bold" fill="#fff" text-anchor="middle">15.90 GPa</text>
<text x="91.6" y="914.8" font-size="22" font-weight="bold" fill="#f0663a">PL enhancing</text>
<text x="434.2" y="915.3" font-size="22" font-weight="bold" fill="#f0663a">PL reducing</text>
<path d="M46.5,898 V917 M46.5,907.3 H92 M234,907.3 H275 M275,898 V917" fill="none" stroke="#fff" stroke-width="2"/>
<path d="M293.5,898 V917 M293.5,907.6 H426 M565,907.8 H730 M730,898.5 V918" fill="none" stroke="#fff" stroke-width="2"/>
<rect x="98.7" y="1030.8" width="10.8" height="10.8" fill="#000"/>
<rect x="105.2" y="1035.3" width="10.8" height="10.8" fill="#000"/>
<rect x="113.2" y="1044.3" width="10.8" height="10.8" fill="#000"/>
<rect x="121.2" y="1050.7" width="10.8" height="10.8" fill="#000"/>
<rect x="130.8" y="1059.1" width="10.8" height="10.8" fill="#000"/>
<rect x="137.1" y="1061.8" width="10.8" height="10.8" fill="#000"/>
<rect x="143.5" y="1067.6" width="10.8" height="10.8" fill="#000"/>
<rect x="149.8" y="1071.9" width="10.8" height="10.8" fill="#000"/>
<rect x="157.6" y="1080.1" width="10.8" height="10.8" fill="#000"/>
<rect x="173.8" y="1088.2" width="10.8" height="10.8" fill="#000"/>
<rect x="188.2" y="1096.6" width="10.8" height="10.8" fill="#000"/>
<rect x="202.7" y="1111.6" width="10.8" height="10.8" fill="#000"/>
<rect x="218.7" y="1125.1" width="10.8" height="10.8" fill="#000"/>
<rect x="232.7" y="1135.1" width="10.8" height="10.8" fill="#000"/>
<rect x="246.2" y="1154.1" width="10.8" height="10.8" fill="#000"/>
<rect x="263.7" y="1174.1" width="10.8" height="10.8" fill="#000"/>
<rect x="278.7" y="1196.1" width="10.8" height="10.8" fill="#000"/>
<rect x="295.2" y="1218.6" width="10.8" height="10.8" fill="#000"/>
<rect x="307.7" y="1229.1" width="10.8" height="10.8" fill="#000"/>
<rect x="320.7" y="1251.1" width="10.8" height="10.8" fill="#000"/>
<rect x="335.7" y="1259.1" width="10.8" height="10.8" fill="#000"/>
<rect x="351.2" y="1296.6" width="10.8" height="10.8" fill="#000"/>
<line x1="95.3" y1="1017.8" x2="372.2" y2="1292" stroke="#f0141e" stroke-width="2.9" stroke-linecap="round"/>
<rect x="88.6" y="1010.3" width="298.20000000000005" height="316.0" fill="none" stroke="#000" stroke-width="1.9"/>
<line x1="88.6" y1="1326.3" x2="88.6" y2="1331.8" stroke="#000" stroke-width="1.6"/>
<text x="88.6" y="1350.6" font-size="16" font-weight="normal" text-anchor="middle" fill="#000" >0</text>
<line x1="103.5" y1="1326.3" x2="103.5" y2="1329.3" stroke="#000" stroke-width="1.6"/>
<line x1="118.4" y1="1326.3" x2="118.4" y2="1331.8" stroke="#000" stroke-width="1.6"/>
<text x="118.4" y="1350.6" font-size="16" font-weight="normal" text-anchor="middle" fill="#000" >2</text>
<line x1="133.3" y1="1326.3" x2="133.3" y2="1329.3" stroke="#000" stroke-width="1.6"/>
<line x1="148.2" y1="1326.3" x2="148.2" y2="1331.8" stroke="#000" stroke-width="1.6"/>
<text x="148.2" y="1350.6" font-size="16" font-weight="normal" text-anchor="middle" fill="#000" >4</text>
<line x1="163.2" y1="1326.3" x2="163.2" y2="1329.3" stroke="#000" stroke-width="1.6"/>
<line x1="178.1" y1="1326.3" x2="178.1" y2="1331.8" stroke="#000" stroke-width="1.6"/>
<text x="178.1" y="1350.6" font-size="16" font-weight="normal" text-anchor="middle" fill="#000" >6</text>
<line x1="193.0" y1="1326.3" x2="193.0" y2="1329.3" stroke="#000" stroke-width="1.6"/>
<line x1="207.9" y1="1326.3" x2="207.9" y2="1331.8" stroke="#000" stroke-width="1.6"/>
<text x="207.9" y="1350.6" font-size="16" font-weight="normal" text-anchor="middle" fill="#000" >8</text>
<line x1="222.8" y1="1326.3" x2="222.8" y2="1329.3" stroke="#000" stroke-width="1.6"/>
<line x1="237.7" y1="1326.3" x2="237.7" y2="1331.8" stroke="#000" stroke-width="1.6"/>
<text x="237.7" y="1350.6" font-size="16" font-weight="normal" text-anchor="middle" fill="#000" >10</text>
<line x1="252.6" y1="1326.3" x2="252.6" y2="1329.3" stroke="#000" stroke-width="1.6"/>
<line x1="267.5" y1="1326.3" x2="267.5" y2="1331.8" stroke="#000" stroke-width="1.6"/>
<text x="267.5" y="1350.6" font-size="16" font-weight="normal" text-anchor="middle" fill="#000" >12</text>
<line x1="282.4" y1="1326.3" x2="282.4" y2="1329.3" stroke="#000" stroke-width="1.6"/>
<line x1="297.3" y1="1326.3" x2="297.3" y2="1331.8" stroke="#000" stroke-width="1.6"/>
<text x="297.3" y="1350.6" font-size="16" font-weight="normal" text-anchor="middle" fill="#000" >14</text>
<line x1="312.2" y1="1326.3" x2="312.2" y2="1329.3" stroke="#000" stroke-width="1.6"/>
<line x1="327.2" y1="1326.3" x2="327.2" y2="1331.8" stroke="#000" stroke-width="1.6"/>
<text x="327.2" y="1350.6" font-size="16" font-weight="normal" text-anchor="middle" fill="#000" >16</text>
<line x1="342.1" y1="1326.3" x2="342.1" y2="1329.3" stroke="#000" stroke-width="1.6"/>
<line x1="357.0" y1="1326.3" x2="357.0" y2="1331.8" stroke="#000" stroke-width="1.6"/>
<text x="357.0" y="1350.6" font-size="16" font-weight="normal" text-anchor="middle" fill="#000" >18</text>
<line x1="371.9" y1="1326.3" x2="371.9" y2="1329.3" stroke="#000" stroke-width="1.6"/>
<line x1="386.8" y1="1326.3" x2="386.8" y2="1331.8" stroke="#000" stroke-width="1.6"/>
<text x="386.8" y="1350.6" font-size="16" font-weight="normal" text-anchor="middle" fill="#000" >20</text>
<line x1="82.8" y1="1326.3" x2="88.6" y2="1326.3" stroke="#000" stroke-width="1.6"/>
<text x="78.2" y="1331.6" font-size="16" font-weight="normal" text-anchor="end" fill="#000" >2.20</text>
<line x1="82.8" y1="1284.2" x2="88.6" y2="1284.2" stroke="#000" stroke-width="1.6"/>
<text x="78.2" y="1289.4" font-size="16" font-weight="normal" text-anchor="end" fill="#000" >2.30</text>
<line x1="82.8" y1="1242.0" x2="88.6" y2="1242.0" stroke="#000" stroke-width="1.6"/>
<text x="78.2" y="1247.3" font-size="16" font-weight="normal" text-anchor="end" fill="#000" >2.40</text>
<line x1="82.8" y1="1199.9" x2="88.6" y2="1199.9" stroke="#000" stroke-width="1.6"/>
<text x="78.2" y="1205.2" font-size="16" font-weight="normal" text-anchor="end" fill="#000" >2.50</text>
<line x1="82.8" y1="1157.8" x2="88.6" y2="1157.8" stroke="#000" stroke-width="1.6"/>
<text x="78.2" y="1163.0" font-size="16" font-weight="normal" text-anchor="end" fill="#000" >2.60</text>
<line x1="82.8" y1="1115.6" x2="88.6" y2="1115.6" stroke="#000" stroke-width="1.6"/>
<text x="78.2" y="1120.9" font-size="16" font-weight="normal" text-anchor="end" fill="#000" >2.70</text>
<line x1="82.8" y1="1073.5" x2="88.6" y2="1073.5" stroke="#000" stroke-width="1.6"/>
<text x="78.2" y="1078.8" font-size="16" font-weight="normal" text-anchor="end" fill="#000" >2.80</text>
<line x1="82.8" y1="1031.4" x2="88.6" y2="1031.4" stroke="#000" stroke-width="1.6"/>
<text x="78.2" y="1036.6" font-size="16" font-weight="normal" text-anchor="end" fill="#000" >2.90</text>
<line x1="85.39999999999999" y1="1305.2" x2="88.6" y2="1305.2" stroke="#000" stroke-width="1.6"/>
<line x1="85.39999999999999" y1="1263.1" x2="88.6" y2="1263.1" stroke="#000" stroke-width="1.6"/>
<line x1="85.39999999999999" y1="1221.0" x2="88.6" y2="1221.0" stroke="#000" stroke-width="1.6"/>
<line x1="85.39999999999999" y1="1178.8" x2="88.6" y2="1178.8" stroke="#000" stroke-width="1.6"/>
<line x1="85.39999999999999" y1="1136.7" x2="88.6" y2="1136.7" stroke="#000" stroke-width="1.6"/>
<line x1="85.39999999999999" y1="1094.6" x2="88.6" y2="1094.6" stroke="#000" stroke-width="1.6"/>
<line x1="85.39999999999999" y1="1052.4" x2="88.6" y2="1052.4" stroke="#000" stroke-width="1.6"/>
<text x="233.5" y="1372.0" font-size="20.4" font-weight="bold" text-anchor="middle" fill="#000" >Pressure / GPa</text>
<text transform="translate(37,1184) rotate(-90)" font-size="16.6" font-weight="bold" text-anchor="middle">PL Energy / eV</text>
<text x="246.3" y="1045.4" font-size="22.9"><tspan font-style="italic">R</tspan><tspan font-size="14" dy="-8.8">2</tspan><tspan dy="8.8"> = 98.21%</tspan></text>
<rect x="495.1" y="1036.6" width="10.8" height="10.8" fill="#000"/>
<rect x="502.6" y="1038.6" width="10.8" height="10.8" fill="#000"/>
<rect x="509.1" y="1044.1" width="10.8" height="10.8" fill="#000"/>
<rect x="517.6" y="1052.6" width="10.8" height="10.8" fill="#000"/>
<rect x="536.1" y="1067.6" width="10.8" height="10.8" fill="#000"/>
<rect x="551.1" y="1089.1" width="10.8" height="10.8" fill="#000"/>
<rect x="567.6" y="1108.6" width="10.8" height="10.8" fill="#000"/>
<rect x="585.1" y="1127.6" width="10.8" height="10.8" fill="#000"/>
<rect x="600.1" y="1151.6" width="10.8" height="10.8" fill="#000"/>
<rect x="615.6" y="1165.1" width="10.8" height="10.8" fill="#000"/>
<rect x="635.6" y="1174.1" width="10.8" height="10.8" fill="#000"/>
<rect x="651.6" y="1184.1" width="10.8" height="10.8" fill="#000"/>
<rect x="670.1" y="1211.6" width="10.8" height="10.8" fill="#000"/>
<rect x="683.1" y="1217.1" width="10.8" height="10.8" fill="#000"/>
<rect x="698.1" y="1245.1" width="10.8" height="10.8" fill="#000"/>
<rect x="715.1" y="1274.1" width="10.8" height="10.8" fill="#000"/>
<rect x="731.6" y="1280.1" width="10.8" height="10.8" fill="#000"/>
<line x1="489" y1="1025" x2="755" y2="1302.5" stroke="#f0141e" stroke-width="2.9" stroke-linecap="round"/>
<rect x="473" y="1009.5" width="298" height="316.79999999999995" fill="none" stroke="#000" stroke-width="1.9"/>
<line x1="473.0" y1="1326.3" x2="473.0" y2="1331.8" stroke="#000" stroke-width="1.6"/>
<text x="473.0" y="1350.6" font-size="17" font-weight="normal" text-anchor="middle" fill="#000" >2</text>
<line x1="489.6" y1="1326.3" x2="489.6" y2="1329.3" stroke="#000" stroke-width="1.6"/>
<line x1="506.1" y1="1326.3" x2="506.1" y2="1331.8" stroke="#000" stroke-width="1.6"/>
<text x="506.1" y="1350.6" font-size="17" font-weight="normal" text-anchor="middle" fill="#000" >4</text>
<line x1="522.7" y1="1326.3" x2="522.7" y2="1329.3" stroke="#000" stroke-width="1.6"/>
<line x1="539.2" y1="1326.3" x2="539.2" y2="1331.8" stroke="#000" stroke-width="1.6"/>
<text x="539.2" y="1350.6" font-size="17" font-weight="normal" text-anchor="middle" fill="#000" >6</text>
<line x1="555.8" y1="1326.3" x2="555.8" y2="1329.3" stroke="#000" stroke-width="1.6"/>
<line x1="572.3" y1="1326.3" x2="572.3" y2="1331.8" stroke="#000" stroke-width="1.6"/>
<text x="572.3" y="1350.6" font-size="17" font-weight="normal" text-anchor="middle" fill="#000" >8</text>
<line x1="588.9" y1="1326.3" x2="588.9" y2="1329.3" stroke="#000" stroke-width="1.6"/>
<line x1="605.4" y1="1326.3" x2="605.4" y2="1331.8" stroke="#000" stroke-width="1.6"/>
<text x="605.4" y="1350.6" font-size="17" font-weight="normal" text-anchor="middle" fill="#000" >10</text>
<line x1="622.0" y1="1326.3" x2="622.0" y2="1329.3" stroke="#000" stroke-width="1.6"/>
<line x1="638.6" y1="1326.3" x2="638.6" y2="1331.8" stroke="#000" stroke-width="1.6"/>
<text x="638.6" y="1350.6" font-size="17" font-weight="normal" text-anchor="middle" fill="#000" >12</text>
<line x1="655.1" y1="1326.3" x2="655.1" y2="1329.3" stroke="#000" stroke-width="1.6"/>
<line x1="671.7" y1="1326.3" x2="671.7" y2="1331.8" stroke="#000" stroke-width="1.6"/>
<text x="671.7" y="1350.6" font-size="17" font-weight="normal" text-anchor="middle" fill="#000" >14</text>
<line x1="688.2" y1="1326.3" x2="688.2" y2="1329.3" stroke="#000" stroke-width="1.6"/>
<line x1="704.8" y1="1326.3" x2="704.8" y2="1331.8" stroke="#000" stroke-width="1.6"/>
<text x="704.8" y="1350.6" font-size="17" font-weight="normal" text-anchor="middle" fill="#000" >16</text>
<line x1="721.3" y1="1326.3" x2="721.3" y2="1329.3" stroke="#000" stroke-width="1.6"/>
<line x1="737.9" y1="1326.3" x2="737.9" y2="1331.8" stroke="#000" stroke-width="1.6"/>
<text x="737.9" y="1350.6" font-size="17" font-weight="normal" text-anchor="middle" fill="#000" >18</text>
<line x1="754.4" y1="1326.3" x2="754.4" y2="1329.3" stroke="#000" stroke-width="1.6"/>
<line x1="771.0" y1="1326.3" x2="771.0" y2="1331.8" stroke="#000" stroke-width="1.6"/>
<text x="771.0" y="1350.6" font-size="17" font-weight="normal" text-anchor="middle" fill="#000" >20</text>
<line x1="467.2" y1="1297.0" x2="473" y2="1297.0" stroke="#000" stroke-width="1.6"/>
<text x="461.5" y="1302.6" font-size="17" font-weight="normal" text-anchor="end" fill="#000" >0</text>
<line x1="467.2" y1="1238.3" x2="473" y2="1238.3" stroke="#000" stroke-width="1.6"/>
<text x="461.5" y="1243.9" font-size="17" font-weight="normal" text-anchor="end" fill="#000" >200</text>
<line x1="467.2" y1="1179.6" x2="473" y2="1179.6" stroke="#000" stroke-width="1.6"/>
<text x="461.5" y="1185.2" font-size="17" font-weight="normal" text-anchor="end" fill="#000" >400</text>
<line x1="467.2" y1="1121.0" x2="473" y2="1121.0" stroke="#000" stroke-width="1.6"/>
<text x="461.5" y="1126.6" font-size="17" font-weight="normal" text-anchor="end" fill="#000" >600</text>
<line x1="467.2" y1="1062.3" x2="473" y2="1062.3" stroke="#000" stroke-width="1.6"/>
<text x="461.5" y="1067.9" font-size="17" font-weight="normal" text-anchor="end" fill="#000" >800</text>
<line x1="469.8" y1="1326.3" x2="473" y2="1326.3" stroke="#000" stroke-width="1.6"/>
<line x1="469.8" y1="1267.6" x2="473" y2="1267.6" stroke="#000" stroke-width="1.6"/>
<line x1="469.8" y1="1209.0" x2="473" y2="1209.0" stroke="#000" stroke-width="1.6"/>
<line x1="469.8" y1="1150.3" x2="473" y2="1150.3" stroke="#000" stroke-width="1.6"/>
<line x1="469.8" y1="1091.6" x2="473" y2="1091.6" stroke="#000" stroke-width="1.6"/>
<line x1="469.8" y1="1033.0" x2="473" y2="1033.0" stroke="#000" stroke-width="1.6"/>
<text x="622.0" y="1375.5" font-size="21.5" font-weight="bold" text-anchor="middle" fill="#000" >Pressure / GPa</text>
<text transform="translate(424,1163) rotate(-90)" font-size="20.6" font-weight="bold" text-anchor="middle">PL Intensity</text>
<text x="629.3" y="1043.4" font-size="24.2"><tspan font-style="italic">R</tspan><tspan font-size="13.5" dy="-6.4">2</tspan><tspan dy="6.4"> = 99.36%</tspan></text>
</svg>
</body></html>
